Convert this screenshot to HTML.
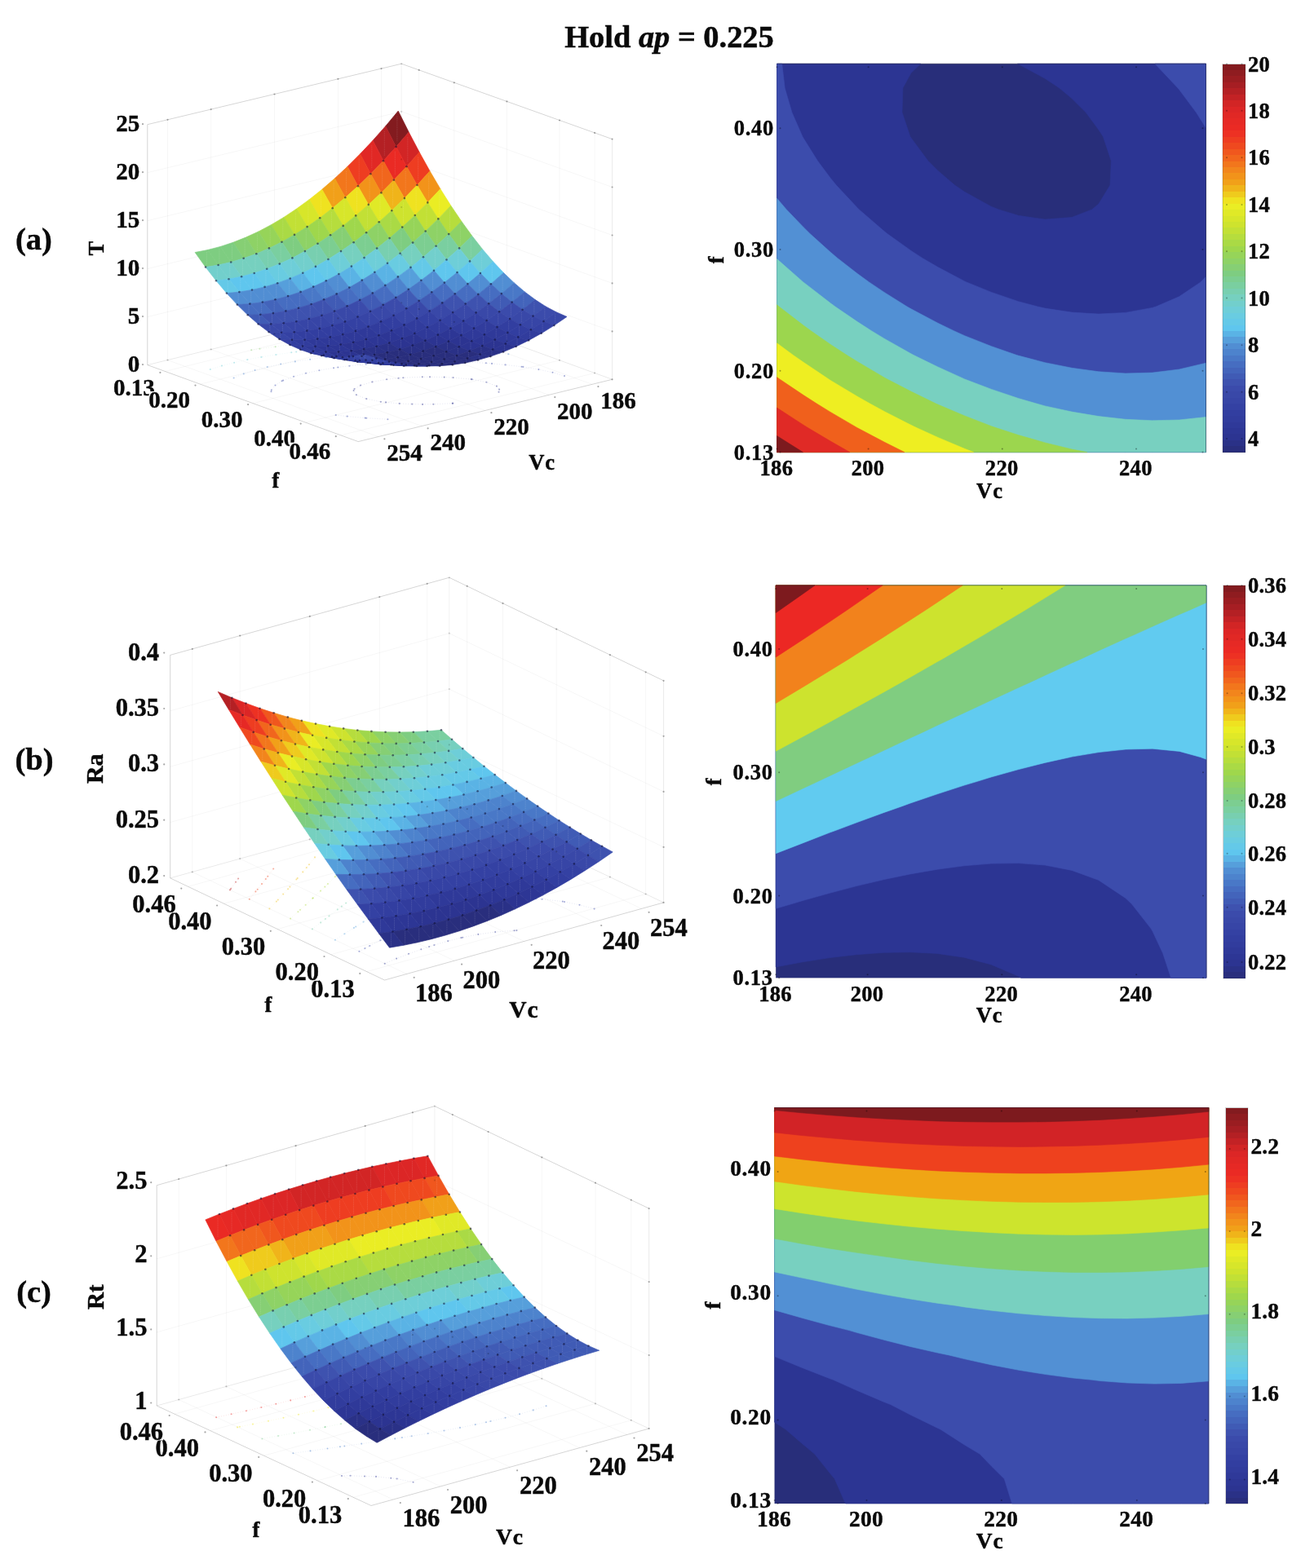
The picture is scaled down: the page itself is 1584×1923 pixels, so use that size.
<!DOCTYPE html>
<html lang="en"><head><meta charset="utf-8"><title>Hold ap = 0.225</title>
<style>html,body{margin:0;padding:0;background:#fff}svg{display:block;filter:blur(0.7px)}text{font-kerning:none}</style></head>
<body>
<svg width="1584" height="1923" viewBox="0 0 1584 1923" font-family='"Liberation Serif", "DejaVu Serif", serif' fill="#0a0a0a">
<rect width="1584" height="1923" fill="#fff"/>
<text x="820.5" y="57.5" font-size="38.4" text-anchor="middle" font-weight="bold" stroke="#0a0a0a" stroke-width="0.5">Hold <tspan font-style="italic">ap</tspan> = 0.225</text>
<g>
<line x1="202.3" y1="455.4" x2="513.7" y2="379.1" stroke="#000" stroke-opacity="0.05" stroke-width="0.7"/>
<line x1="513.7" y1="379.1" x2="513.7" y2="85.9" stroke="#000" stroke-opacity="0.05" stroke-width="0.7"/>
<line x1="245.4" y1="471.1" x2="556.8" y2="394.8" stroke="#000" stroke-opacity="0.05" stroke-width="0.7"/>
<line x1="556.8" y1="394.8" x2="556.8" y2="101.3" stroke="#000" stroke-opacity="0.05" stroke-width="0.7"/>
<line x1="310" y1="494.6" x2="621.4" y2="418.3" stroke="#000" stroke-opacity="0.05" stroke-width="0.7"/>
<line x1="621.4" y1="418.3" x2="621.4" y2="124.4" stroke="#000" stroke-opacity="0.05" stroke-width="0.7"/>
<line x1="374.6" y1="518.1" x2="686" y2="441.8" stroke="#000" stroke-opacity="0.05" stroke-width="0.7"/>
<line x1="686" y1="441.8" x2="686" y2="147.5" stroke="#000" stroke-opacity="0.05" stroke-width="0.7"/>
<line x1="417.7" y1="533.8" x2="729.1" y2="457.5" stroke="#000" stroke-opacity="0.05" stroke-width="0.7"/>
<line x1="729.1" y1="457.5" x2="729.1" y2="162.9" stroke="#000" stroke-opacity="0.05" stroke-width="0.7"/>
<line x1="467.5" y1="377.3" x2="725.9" y2="471.3" stroke="#000" stroke-opacity="0.05" stroke-width="0.7"/>
<line x1="467.5" y1="377.3" x2="467.5" y2="84.1" stroke="#000" stroke-opacity="0.05" stroke-width="0.7"/>
<line x1="414.4" y1="390.4" x2="672.8" y2="484.4" stroke="#000" stroke-opacity="0.05" stroke-width="0.7"/>
<line x1="414.4" y1="390.4" x2="414.4" y2="96.8" stroke="#000" stroke-opacity="0.05" stroke-width="0.7"/>
<line x1="336.5" y1="409.5" x2="594.9" y2="503.5" stroke="#000" stroke-opacity="0.05" stroke-width="0.7"/>
<line x1="336.5" y1="409.5" x2="336.5" y2="115.5" stroke="#000" stroke-opacity="0.05" stroke-width="0.7"/>
<line x1="258.7" y1="428.5" x2="517" y2="522.5" stroke="#000" stroke-opacity="0.05" stroke-width="0.7"/>
<line x1="258.7" y1="428.5" x2="258.7" y2="134.1" stroke="#000" stroke-opacity="0.05" stroke-width="0.7"/>
<line x1="205.5" y1="441.6" x2="463.9" y2="535.6" stroke="#000" stroke-opacity="0.05" stroke-width="0.7"/>
<line x1="205.5" y1="441.6" x2="205.5" y2="146.8" stroke="#000" stroke-opacity="0.05" stroke-width="0.7"/>
<line x1="180.8" y1="447.6" x2="492.2" y2="371.3" stroke="#000" stroke-opacity="0.05" stroke-width="0.7"/>
<line x1="492.2" y1="371.3" x2="750.6" y2="465.3" stroke="#000" stroke-opacity="0.05" stroke-width="0.7"/>
<line x1="180.8" y1="388.6" x2="492.2" y2="312.7" stroke="#000" stroke-opacity="0.05" stroke-width="0.7"/>
<line x1="492.2" y1="312.7" x2="750.6" y2="406.4" stroke="#000" stroke-opacity="0.05" stroke-width="0.7"/>
<line x1="180.8" y1="329.6" x2="492.2" y2="254.1" stroke="#000" stroke-opacity="0.05" stroke-width="0.7"/>
<line x1="492.2" y1="254.1" x2="750.6" y2="347.4" stroke="#000" stroke-opacity="0.05" stroke-width="0.7"/>
<line x1="180.8" y1="270.7" x2="492.2" y2="195.4" stroke="#000" stroke-opacity="0.05" stroke-width="0.7"/>
<line x1="492.2" y1="195.4" x2="750.6" y2="288.5" stroke="#000" stroke-opacity="0.05" stroke-width="0.7"/>
<line x1="180.8" y1="211.7" x2="492.2" y2="136.8" stroke="#000" stroke-opacity="0.05" stroke-width="0.7"/>
<line x1="492.2" y1="136.8" x2="750.6" y2="229.5" stroke="#000" stroke-opacity="0.05" stroke-width="0.7"/>
<line x1="180.8" y1="152.7" x2="492.2" y2="78.2" stroke="#000" stroke-opacity="0.05" stroke-width="0.7"/>
<line x1="492.2" y1="78.2" x2="750.6" y2="170.6" stroke="#000" stroke-opacity="0.05" stroke-width="0.7"/>
<line x1="180.8" y1="447.6" x2="439.2" y2="541.6" stroke="#000" stroke-opacity="0.21" stroke-width="0.8"/>
<line x1="439.2" y1="541.6" x2="750.6" y2="465.3" stroke="#000" stroke-opacity="0.21" stroke-width="0.8"/>
<line x1="180.8" y1="447.6" x2="180.8" y2="152.7" stroke="#000" stroke-opacity="0.21" stroke-width="0.8"/>
<line x1="180.8" y1="152.7" x2="492.2" y2="78.2" stroke="#000" stroke-opacity="0.168" stroke-width="0.8"/>
<line x1="492.2" y1="78.2" x2="750.6" y2="170.6" stroke="#000" stroke-opacity="0.168" stroke-width="0.8"/>
<line x1="750.6" y1="465.3" x2="750.6" y2="170.6" stroke="#000" stroke-opacity="0.105" stroke-width="0.8"/>
<line x1="492.2" y1="371.3" x2="492.2" y2="78.2" stroke="#000" stroke-opacity="0.06999999999999999" stroke-width="0.8"/>
<line x1="180.8" y1="447.6" x2="492.2" y2="371.3" stroke="#000" stroke-opacity="0.06999999999999999" stroke-width="0.8"/>
<line x1="492.2" y1="371.3" x2="750.6" y2="465.3" stroke="#000" stroke-opacity="0.06999999999999999" stroke-width="0.8"/>
</g>
<polyline points="555.2,494.6 554.7,494.7 531.4,495.7 518.0,495.9 505.2,495.6 489.8,494.9 473.0,493.4 466.8,492.7 449.2,489.1 436.9,484.3 433.6,479.0 434.5,477.0 442.0,472.6 456.4,468.4 474.1,465.3 488.6,463.7 494.4,463.2 517.8,462.3 527.1,462.2 544.7,462.6 555.5,463.1 577.7,465.1 578.8,465.2 596.4,468.8 608.9,473.6 612.1,477.6 611.5,480.8" fill="none" stroke="#2b338d" stroke-opacity="0.16" stroke-width="0.8" stroke-dasharray="1 2"/>
<g fill="#2b338d" fill-opacity="0.42">
<circle cx="555.2" cy="494.6" r="1.05"/>
<circle cx="554.7" cy="494.7" r="1.05"/>
<circle cx="531.4" cy="495.7" r="1.05"/>
<circle cx="518.0" cy="495.9" r="1.05"/>
<circle cx="505.2" cy="495.6" r="1.05"/>
<circle cx="489.8" cy="494.9" r="1.05"/>
<circle cx="473.0" cy="493.4" r="1.05"/>
<circle cx="466.8" cy="492.7" r="1.05"/>
<circle cx="449.2" cy="489.1" r="1.05"/>
<circle cx="436.9" cy="484.3" r="1.05"/>
<circle cx="433.6" cy="479.0" r="1.05"/>
<circle cx="434.5" cy="477.0" r="1.05"/>
<circle cx="442.0" cy="472.6" r="1.05"/>
<circle cx="456.4" cy="468.4" r="1.05"/>
<circle cx="474.1" cy="465.3" r="1.05"/>
<circle cx="488.6" cy="463.7" r="1.05"/>
<circle cx="494.4" cy="463.2" r="1.05"/>
<circle cx="517.8" cy="462.3" r="1.05"/>
<circle cx="527.1" cy="462.2" r="1.05"/>
<circle cx="544.7" cy="462.6" r="1.05"/>
<circle cx="555.5" cy="463.1" r="1.05"/>
<circle cx="577.7" cy="465.1" r="1.05"/>
<circle cx="578.8" cy="465.2" r="1.05"/>
<circle cx="596.4" cy="468.8" r="1.05"/>
<circle cx="608.9" cy="473.6" r="1.05"/>
<circle cx="612.1" cy="477.6" r="1.05"/>
<circle cx="611.5" cy="480.8" r="1.05"/>
</g>
<polyline points="332.5,480.2 332.8,478.3 337.5,472.5 345.6,467.3 347.1,466.6 360.1,461.8 375.0,457.7 391.4,454.2 409.1,451.2 414.3,450.5 428.4,448.7 448.8,446.7 468.4,445.1 470.2,445.0 493.3,443.9 507.2,443.5 517.7,443.3 540.5,443.2 543.5,443.2 569.7,443.9 571.6,443.9 595.9,445.3 603.0,445.9 619.6,447.4 639.5,449.7 641.3,449.9 660.4,453.1 677.5,456.8 692.0,461.1" fill="none" stroke="#3847a8" stroke-opacity="0.16" stroke-width="0.8" stroke-dasharray="1 2"/>
<polyline points="475.4,514.2 449.2,512.7 447.7,512.6 425.7,510.6 411.7,509.0" fill="none" stroke="#3847a8" stroke-opacity="0.16" stroke-width="0.8" stroke-dasharray="1 2"/>
<g fill="#3847a8" fill-opacity="0.42">
<circle cx="332.5" cy="480.2" r="1.05"/>
<circle cx="332.8" cy="478.3" r="1.05"/>
<circle cx="337.5" cy="472.5" r="1.05"/>
<circle cx="345.6" cy="467.3" r="1.05"/>
<circle cx="347.1" cy="466.6" r="1.05"/>
<circle cx="360.1" cy="461.8" r="1.05"/>
<circle cx="375.0" cy="457.7" r="1.05"/>
<circle cx="391.4" cy="454.2" r="1.05"/>
<circle cx="409.1" cy="451.2" r="1.05"/>
<circle cx="414.3" cy="450.5" r="1.05"/>
<circle cx="428.4" cy="448.7" r="1.05"/>
<circle cx="448.8" cy="446.7" r="1.05"/>
<circle cx="468.4" cy="445.1" r="1.05"/>
<circle cx="470.2" cy="445.0" r="1.05"/>
<circle cx="493.3" cy="443.9" r="1.05"/>
<circle cx="507.2" cy="443.5" r="1.05"/>
<circle cx="517.7" cy="443.3" r="1.05"/>
<circle cx="540.5" cy="443.2" r="1.05"/>
<circle cx="543.5" cy="443.2" r="1.05"/>
<circle cx="569.7" cy="443.9" r="1.05"/>
<circle cx="571.6" cy="443.9" r="1.05"/>
<circle cx="595.9" cy="445.3" r="1.05"/>
<circle cx="603.0" cy="445.9" r="1.05"/>
<circle cx="619.6" cy="447.4" r="1.05"/>
<circle cx="639.5" cy="449.7" r="1.05"/>
<circle cx="641.3" cy="449.9" r="1.05"/>
<circle cx="660.4" cy="453.1" r="1.05"/>
<circle cx="677.5" cy="456.8" r="1.05"/>
<circle cx="692.0" cy="461.1" r="1.05"/>
<circle cx="475.4" cy="514.2" r="1.05"/>
<circle cx="449.2" cy="512.7" r="1.05"/>
<circle cx="447.7" cy="512.6" r="1.05"/>
<circle cx="425.7" cy="510.6" r="1.05"/>
<circle cx="411.7" cy="509.0" r="1.05"/>
</g>
<polyline points="286.6,463.5 298.8,458.4 312.6,454.0 327.8,450.0 344.2,446.5 361.8,443.4 380.2,440.7 399.5,438.2 400.7,438.1 420.0,436.2 441.3,434.4 450.1,433.8 463.5,433.1 486.7,432.0 490.2,431.9 511.1,431.4 525.0,431.2 536.6,431.2 556.5,431.4 563.5,431.5 585.3,432.2 592.2,432.5 611.9,433.5 623.4,434.3" fill="none" stroke="#4d82cc" stroke-opacity="0.16" stroke-width="0.8" stroke-dasharray="1 2"/>
<g fill="#4d82cc" fill-opacity="0.42">
<circle cx="286.6" cy="463.5" r="1.05"/>
<circle cx="298.8" cy="458.4" r="1.05"/>
<circle cx="312.6" cy="454.0" r="1.05"/>
<circle cx="327.8" cy="450.0" r="1.05"/>
<circle cx="344.2" cy="446.5" r="1.05"/>
<circle cx="361.8" cy="443.4" r="1.05"/>
<circle cx="380.2" cy="440.7" r="1.05"/>
<circle cx="399.5" cy="438.2" r="1.05"/>
<circle cx="400.7" cy="438.1" r="1.05"/>
<circle cx="420.0" cy="436.2" r="1.05"/>
<circle cx="441.3" cy="434.4" r="1.05"/>
<circle cx="450.1" cy="433.8" r="1.05"/>
<circle cx="463.5" cy="433.1" r="1.05"/>
<circle cx="486.7" cy="432.0" r="1.05"/>
<circle cx="490.2" cy="431.9" r="1.05"/>
<circle cx="511.1" cy="431.4" r="1.05"/>
<circle cx="525.0" cy="431.2" r="1.05"/>
<circle cx="536.6" cy="431.2" r="1.05"/>
<circle cx="556.5" cy="431.4" r="1.05"/>
<circle cx="563.5" cy="431.5" r="1.05"/>
<circle cx="585.3" cy="432.2" r="1.05"/>
<circle cx="592.2" cy="432.5" r="1.05"/>
<circle cx="611.9" cy="433.5" r="1.05"/>
<circle cx="623.4" cy="434.3" r="1.05"/>
</g>
<polyline points="257.8,453.0 271.9,448.6 287.1,444.7 303.3,441.1 320.5,437.9 338.4,435.0 357.2,432.3 363.2,431.5 376.8,429.9 397.2,427.9 417.6,426.1 418.1,426.0 440.2,424.6 460.6,423.4 462.8,423.3 486.5,422.4 497.9,422.1 511.0,421.9 532.0,421.7 536.4,421.6 563.0,421.8 563.3,421.8 591.1,422.6" fill="none" stroke="#6eced7" stroke-opacity="0.16" stroke-width="0.8" stroke-dasharray="1 2"/>
<g fill="#6eced7" fill-opacity="0.42">
<circle cx="257.8" cy="453.0" r="1.05"/>
<circle cx="271.9" cy="448.6" r="1.05"/>
<circle cx="287.1" cy="444.7" r="1.05"/>
<circle cx="303.3" cy="441.1" r="1.05"/>
<circle cx="320.5" cy="437.9" r="1.05"/>
<circle cx="338.4" cy="435.0" r="1.05"/>
<circle cx="357.2" cy="432.3" r="1.05"/>
<circle cx="363.2" cy="431.5" r="1.05"/>
<circle cx="376.8" cy="429.9" r="1.05"/>
<circle cx="397.2" cy="427.9" r="1.05"/>
<circle cx="417.6" cy="426.1" r="1.05"/>
<circle cx="418.1" cy="426.0" r="1.05"/>
<circle cx="440.2" cy="424.6" r="1.05"/>
<circle cx="460.6" cy="423.4" r="1.05"/>
<circle cx="462.8" cy="423.3" r="1.05"/>
<circle cx="486.5" cy="422.4" r="1.05"/>
<circle cx="497.9" cy="422.1" r="1.05"/>
<circle cx="511.0" cy="421.9" r="1.05"/>
<circle cx="532.0" cy="421.7" r="1.05"/>
<circle cx="536.4" cy="421.6" r="1.05"/>
<circle cx="563.0" cy="421.8" r="1.05"/>
<circle cx="563.3" cy="421.8" r="1.05"/>
<circle cx="591.1" cy="422.6" r="1.05"/>
</g>
<polyline points="308.2,429.3 318.5,427.7 337.6,425.2 357.2,422.8 373.7,421.1 377.5,420.7 398.6,418.9 420.2,417.3 421.7,417.2 442.7,416.0 462.7,415.0 465.7,414.9 489.7,414.1 499.3,413.9 514.5,413.7 533.1,413.5 540.1,413.5 564.5,413.7 566.7,413.7" fill="none" stroke="#89d06f" stroke-opacity="0.16" stroke-width="0.8" stroke-dasharray="1 2"/>
<g fill="#89d06f" fill-opacity="0.42">
<circle cx="308.2" cy="429.3" r="1.05"/>
<circle cx="318.5" cy="427.7" r="1.05"/>
<circle cx="337.6" cy="425.2" r="1.05"/>
<circle cx="357.2" cy="422.8" r="1.05"/>
<circle cx="373.7" cy="421.1" r="1.05"/>
<circle cx="377.5" cy="420.7" r="1.05"/>
<circle cx="398.6" cy="418.9" r="1.05"/>
<circle cx="420.2" cy="417.3" r="1.05"/>
<circle cx="421.7" cy="417.2" r="1.05"/>
<circle cx="442.7" cy="416.0" r="1.05"/>
<circle cx="462.7" cy="415.0" r="1.05"/>
<circle cx="465.7" cy="414.9" r="1.05"/>
<circle cx="489.7" cy="414.1" r="1.05"/>
<circle cx="499.3" cy="413.9" r="1.05"/>
<circle cx="514.5" cy="413.7" r="1.05"/>
<circle cx="533.1" cy="413.5" r="1.05"/>
<circle cx="540.1" cy="413.5" r="1.05"/>
<circle cx="564.5" cy="413.7" r="1.05"/>
<circle cx="566.7" cy="413.7" r="1.05"/>
</g>
<polyline points="374.0,413.2 381.1,412.6 402.7,410.9 419.8,409.8 424.8,409.5 447.7,408.3 460.0,407.8 471.2,407.4 495.3,406.7 496.7,406.7 520.4,406.4 530.5,406.3 546.3,406.3" fill="none" stroke="#d2e52c" stroke-opacity="0.16" stroke-width="0.8" stroke-dasharray="1 2"/>
<g fill="#d2e52c" fill-opacity="0.42">
<circle cx="374.0" cy="413.2" r="1.05"/>
<circle cx="381.1" cy="412.6" r="1.05"/>
<circle cx="402.7" cy="410.9" r="1.05"/>
<circle cx="419.8" cy="409.8" r="1.05"/>
<circle cx="424.8" cy="409.5" r="1.05"/>
<circle cx="447.7" cy="408.3" r="1.05"/>
<circle cx="460.0" cy="407.8" r="1.05"/>
<circle cx="471.2" cy="407.4" r="1.05"/>
<circle cx="495.3" cy="406.7" r="1.05"/>
<circle cx="496.7" cy="406.7" r="1.05"/>
<circle cx="520.4" cy="406.4" r="1.05"/>
<circle cx="530.5" cy="406.3" r="1.05"/>
<circle cx="546.3" cy="406.3" r="1.05"/>
</g>
<polyline points="414.2,403.3 431.4,402.4 454.4,401.3 454.5,401.3 478.4,400.6 490.9,400.2 503.0,400.0 525.2,399.7 528.2,399.7" fill="none" stroke="#f1971a" stroke-opacity="0.16" stroke-width="0.8" stroke-dasharray="1 2"/>
<g fill="#f1971a" fill-opacity="0.42">
<circle cx="414.2" cy="403.3" r="1.05"/>
<circle cx="431.4" cy="402.4" r="1.05"/>
<circle cx="454.4" cy="401.3" r="1.05"/>
<circle cx="454.5" cy="401.3" r="1.05"/>
<circle cx="478.4" cy="400.6" r="1.05"/>
<circle cx="490.9" cy="400.2" r="1.05"/>
<circle cx="503.0" cy="400.0" r="1.05"/>
<circle cx="525.2" cy="399.7" r="1.05"/>
<circle cx="528.2" cy="399.7" r="1.05"/>
</g>
<polyline points="445.9,395.5 462.9,394.9 483.0,394.3 487.1,394.2 511.9,393.8" fill="none" stroke="#ed3323" stroke-opacity="0.16" stroke-width="0.8" stroke-dasharray="1 2"/>
<g fill="#ed3323" fill-opacity="0.42">
<circle cx="445.9" cy="395.5" r="1.05"/>
<circle cx="462.9" cy="394.9" r="1.05"/>
<circle cx="483.0" cy="394.3" r="1.05"/>
<circle cx="487.1" cy="394.2" r="1.05"/>
<circle cx="511.9" cy="393.8" r="1.05"/>
</g>
<polyline points="473.1,388.9 497.0,388.4" fill="none" stroke="#b31f24" stroke-opacity="0.16" stroke-width="0.8" stroke-dasharray="1 2"/>
<g fill="#b31f24" fill-opacity="0.42">
<circle cx="473.1" cy="388.9" r="1.05"/>
<circle cx="497.0" cy="388.4" r="1.05"/>
</g>
<g stroke-linejoin="round">
<polygon points="488.2,136.1 472.7,154.7 485.6,180.1 501.2,162.0" fill="#831b1f" stroke="#831b1f" stroke-width="0.7"/>
<polygon points="472.7,154.7 457.1,172.3 470.0,197.2 485.6,180.1" fill="#b42024" stroke="#b42024" stroke-width="0.7"/>
<polygon points="501.2,162.0 485.6,180.1 498.5,204.2 514.1,186.6" fill="#d22525" stroke="#d22525" stroke-width="0.7"/>
<polygon points="457.1,172.3 441.5,188.8 454.4,213.3 470.0,197.2" fill="#e12825" stroke="#e12825" stroke-width="0.7"/>
<polygon points="485.6,180.1 470.0,197.2 482.9,220.8 498.5,204.2" fill="#ea2a24" stroke="#ea2a24" stroke-width="0.7"/>
<polygon points="514.1,186.6 498.5,204.2 511.4,227.0 527.0,209.8" fill="#ee3d21" stroke="#ee3d21" stroke-width="0.7"/>
<polygon points="441.5,188.8 426.0,204.3 438.9,228.3 454.4,213.3" fill="#ee3d21" stroke="#ee3d21" stroke-width="0.7"/>
<polygon points="470.0,197.2 454.4,213.3 467.4,236.4 482.9,220.8" fill="#f1661d" stroke="#f1661d" stroke-width="0.7"/>
<polygon points="498.5,204.2 482.9,220.8 495.9,243.1 511.4,227.0" fill="#f2761c" stroke="#f2761c" stroke-width="0.7"/>
<polygon points="527.0,209.8 511.4,227.0 524.3,248.4 539.9,231.7" fill="#f2931a" stroke="#f2931a" stroke-width="0.7"/>
<polygon points="426.0,204.3 410.4,218.8 423.3,242.3 438.9,228.3" fill="#f2761c" stroke="#f2761c" stroke-width="0.7"/>
<polygon points="454.4,213.3 438.9,228.3 451.8,250.9 467.4,236.4" fill="#f2931a" stroke="#f2931a" stroke-width="0.7"/>
<polygon points="482.9,220.8 467.4,236.4 480.3,258.2 495.9,243.1" fill="#f0b41a" stroke="#f0b41a" stroke-width="0.7"/>
<polygon points="511.4,227.0 495.9,243.1 508.8,264.0 524.3,248.4" fill="#efe220" stroke="#efe220" stroke-width="0.7"/>
<polygon points="539.9,231.7 524.3,248.4 537.3,268.4 552.8,252.2" fill="#eaed24" stroke="#eaed24" stroke-width="0.7"/>
<polygon points="410.4,218.8 394.8,232.3 407.7,255.3 423.3,242.3" fill="#f1a019" stroke="#f1a019" stroke-width="0.7"/>
<polygon points="438.9,228.3 423.3,242.3 436.2,264.4 451.8,250.9" fill="#efe220" stroke="#efe220" stroke-width="0.7"/>
<polygon points="467.4,236.4 451.8,250.9 464.7,272.2 480.3,258.2" fill="#e0e927" stroke="#e0e927" stroke-width="0.7"/>
<polygon points="495.9,243.1 480.3,258.2 493.2,278.6 508.8,264.0" fill="#cee32e" stroke="#cee32e" stroke-width="0.7"/>
<polygon points="524.3,248.4 508.8,264.0 521.7,283.5 537.3,268.4" fill="#c2e035" stroke="#c2e035" stroke-width="0.7"/>
<polygon points="552.8,252.2 537.3,268.4 550.2,287.1 565.8,271.4" fill="#b6dd3d" stroke="#b6dd3d" stroke-width="0.7"/>
<polygon points="394.8,232.3 379.2,244.7 392.2,267.2 407.7,255.3" fill="#efe220" stroke="#efe220" stroke-width="0.7"/>
<polygon points="423.3,242.3 407.7,255.3 420.7,276.9 436.2,264.4" fill="#d7e62a" stroke="#d7e62a" stroke-width="0.7"/>
<polygon points="451.8,250.9 436.2,264.4 449.1,285.2 464.7,272.2" fill="#c2e035" stroke="#c2e035" stroke-width="0.7"/>
<polygon points="480.3,258.2 464.7,272.2 477.6,292.1 493.2,278.6" fill="#aada45" stroke="#aada45" stroke-width="0.7"/>
<polygon points="508.8,264.0 493.2,278.6 506.1,297.6 521.7,283.5" fill="#96d459" stroke="#96d459" stroke-width="0.7"/>
<polygon points="537.3,268.4 521.7,283.5 534.6,301.7 550.2,287.1" fill="#8ed266" stroke="#8ed266" stroke-width="0.7"/>
<polygon points="565.8,271.4 550.2,287.1 563.1,304.4 578.7,289.2" fill="#8ed266" stroke="#8ed266" stroke-width="0.7"/>
<polygon points="379.2,244.7 363.7,256.0 376.6,278.1 392.2,267.2" fill="#d7e62a" stroke="#d7e62a" stroke-width="0.7"/>
<polygon points="407.7,255.3 392.2,267.2 405.1,288.3 420.7,276.9" fill="#b6dd3d" stroke="#b6dd3d" stroke-width="0.7"/>
<polygon points="436.2,264.4 420.7,276.9 433.6,297.2 449.1,285.2" fill="#9fd74c" stroke="#9fd74c" stroke-width="0.7"/>
<polygon points="464.7,272.2 449.1,285.2 462.1,304.6 477.6,292.1" fill="#8ed266" stroke="#8ed266" stroke-width="0.7"/>
<polygon points="493.2,278.6 477.6,292.1 490.6,310.7 506.1,297.6" fill="#7ecd81" stroke="#7ecd81" stroke-width="0.7"/>
<polygon points="521.7,283.5 506.1,297.6 519.0,315.3 534.6,301.7" fill="#7cce91" stroke="#7cce91" stroke-width="0.7"/>
<polygon points="550.2,287.1 534.6,301.7 547.5,318.5 563.1,304.4" fill="#7acfa0" stroke="#7acfa0" stroke-width="0.7"/>
<polygon points="578.7,289.2 563.1,304.4 576.0,320.4 591.6,305.7" fill="#7acfa0" stroke="#7acfa0" stroke-width="0.7"/>
<polygon points="363.7,256.0 348.1,266.4 361.0,287.9 376.6,278.1" fill="#c2e035" stroke="#c2e035" stroke-width="0.7"/>
<polygon points="392.2,267.2 376.6,278.1 389.5,298.7 405.1,288.3" fill="#9fd74c" stroke="#9fd74c" stroke-width="0.7"/>
<polygon points="420.7,276.9 405.1,288.3 418.0,308.1 433.6,297.2" fill="#86cf74" stroke="#86cf74" stroke-width="0.7"/>
<polygon points="449.1,285.2 433.6,297.2 446.5,316.1 462.1,304.6" fill="#7cce91" stroke="#7cce91" stroke-width="0.7"/>
<polygon points="477.6,292.1 462.1,304.6 475.0,322.7 490.6,310.7" fill="#78cfb0" stroke="#78cfb0" stroke-width="0.7"/>
<polygon points="506.1,297.6 490.6,310.7 503.5,327.9 519.0,315.3" fill="#76d0bf" stroke="#76d0bf" stroke-width="0.7"/>
<polygon points="534.6,301.7 519.0,315.3 532.0,331.7 547.5,318.5" fill="#72cfcc" stroke="#72cfcc" stroke-width="0.7"/>
<polygon points="563.1,304.4 547.5,318.5 560.5,334.0 576.0,320.4" fill="#6eced8" stroke="#6eced8" stroke-width="0.7"/>
<polygon points="591.6,305.7 576.0,320.4 588.9,335.0 604.5,320.8" fill="#6eced8" stroke="#6eced8" stroke-width="0.7"/>
<polygon points="348.1,266.4 332.5,275.7 345.5,296.7 361.0,287.9" fill="#aada45" stroke="#aada45" stroke-width="0.7"/>
<polygon points="376.6,278.1 361.0,287.9 373.9,308.1 389.5,298.7" fill="#8ed266" stroke="#8ed266" stroke-width="0.7"/>
<polygon points="405.1,288.3 389.5,298.7 402.4,318.0 418.0,308.1" fill="#7cce91" stroke="#7cce91" stroke-width="0.7"/>
<polygon points="433.6,297.2 418.0,308.1 430.9,326.6 446.5,316.1" fill="#76d0bf" stroke="#76d0bf" stroke-width="0.7"/>
<polygon points="462.1,304.6 446.5,316.1 459.4,333.7 475.0,322.7" fill="#6eced8" stroke="#6eced8" stroke-width="0.7"/>
<polygon points="490.6,310.7 475.0,322.7 487.9,339.4 503.5,327.9" fill="#69cce1" stroke="#69cce1" stroke-width="0.7"/>
<polygon points="519.0,315.3 503.5,327.9 516.4,343.7 532.0,331.7" fill="#64c9e8" stroke="#64c9e8" stroke-width="0.7"/>
<polygon points="547.5,318.5 532.0,331.7 544.9,346.6 560.5,334.0" fill="#5fc6ee" stroke="#5fc6ee" stroke-width="0.7"/>
<polygon points="576.0,320.4 560.5,334.0 573.4,348.1 588.9,335.0" fill="#5fc6ee" stroke="#5fc6ee" stroke-width="0.7"/>
<polygon points="604.5,320.8 588.9,335.0 601.9,348.2 617.4,334.5" fill="#5fc6ee" stroke="#5fc6ee" stroke-width="0.7"/>
<polygon points="332.5,275.7 317.0,283.9 329.9,304.4 345.5,296.7" fill="#96d459" stroke="#96d459" stroke-width="0.7"/>
<polygon points="361.0,287.9 345.5,296.7 358.4,316.4 373.9,308.1" fill="#7ecd81" stroke="#7ecd81" stroke-width="0.7"/>
<polygon points="389.5,298.7 373.9,308.1 386.9,326.9 402.4,318.0" fill="#78cfb0" stroke="#78cfb0" stroke-width="0.7"/>
<polygon points="418.0,308.1 402.4,318.0 415.4,336.0 430.9,326.6" fill="#6eced8" stroke="#6eced8" stroke-width="0.7"/>
<polygon points="446.5,316.1 430.9,326.6 443.8,343.6 459.4,333.7" fill="#64c9e8" stroke="#64c9e8" stroke-width="0.7"/>
<polygon points="475.0,322.7 459.4,333.7 472.3,349.9 487.9,339.4" fill="#5ab3e5" stroke="#5ab3e5" stroke-width="0.7"/>
<polygon points="503.5,327.9 487.9,339.4 500.8,354.8 516.4,343.7" fill="#569fdb" stroke="#569fdb" stroke-width="0.7"/>
<polygon points="532.0,331.7 516.4,343.7 529.3,358.2 544.9,346.6" fill="#518ed3" stroke="#518ed3" stroke-width="0.7"/>
<polygon points="560.5,334.0 544.9,346.6 557.8,360.3 573.4,348.1" fill="#518ed3" stroke="#518ed3" stroke-width="0.7"/>
<polygon points="588.9,335.0 573.4,348.1 586.3,360.9 601.9,348.2" fill="#518ed3" stroke="#518ed3" stroke-width="0.7"/>
<polygon points="617.4,334.5 601.9,348.2 614.8,360.1 630.4,346.9" fill="#518ed3" stroke="#518ed3" stroke-width="0.7"/>
<polygon points="317.0,283.9 301.4,291.1 314.3,311.2 329.9,304.4" fill="#8ed266" stroke="#8ed266" stroke-width="0.7"/>
<polygon points="345.5,296.7 329.9,304.4 342.8,323.6 358.4,316.4" fill="#7acfa0" stroke="#7acfa0" stroke-width="0.7"/>
<polygon points="373.9,308.1 358.4,316.4 371.3,334.7 386.9,326.9" fill="#72cfcc" stroke="#72cfcc" stroke-width="0.7"/>
<polygon points="402.4,318.0 386.9,326.9 399.8,344.3 415.4,336.0" fill="#64c9e8" stroke="#64c9e8" stroke-width="0.7"/>
<polygon points="430.9,326.6 415.4,336.0 428.3,352.6 443.8,343.6" fill="#5ab3e5" stroke="#5ab3e5" stroke-width="0.7"/>
<polygon points="459.4,333.7 443.8,343.6 456.8,359.4 472.3,349.9" fill="#518ed3" stroke="#518ed3" stroke-width="0.7"/>
<polygon points="487.9,339.4 472.3,349.9 485.3,364.8 500.8,354.8" fill="#4d83cd" stroke="#4d83cd" stroke-width="0.7"/>
<polygon points="516.4,343.7 500.8,354.8 513.7,368.8 529.3,358.2" fill="#4978c7" stroke="#4978c7" stroke-width="0.7"/>
<polygon points="544.9,346.6 529.3,358.2 542.2,371.4 557.8,360.3" fill="#466dc1" stroke="#466dc1" stroke-width="0.7"/>
<polygon points="573.4,348.1 557.8,360.3 570.7,372.5 586.3,360.9" fill="#466dc1" stroke="#466dc1" stroke-width="0.7"/>
<polygon points="601.9,348.2 586.3,360.9 599.2,372.3 614.8,360.1" fill="#466dc1" stroke="#466dc1" stroke-width="0.7"/>
<polygon points="630.4,346.9 614.8,360.1 627.7,370.6 643.3,357.9" fill="#4978c7" stroke="#4978c7" stroke-width="0.7"/>
<polygon points="301.4,291.1 285.8,297.3 298.7,316.8 314.3,311.2" fill="#86cf74" stroke="#86cf74" stroke-width="0.7"/>
<polygon points="329.9,304.4 314.3,311.2 327.2,329.8 342.8,323.6" fill="#78cfb0" stroke="#78cfb0" stroke-width="0.7"/>
<polygon points="358.4,316.4 342.8,323.6 355.7,341.5 371.3,334.7" fill="#6eced8" stroke="#6eced8" stroke-width="0.7"/>
<polygon points="386.9,326.9 371.3,334.7 384.2,351.6 399.8,344.3" fill="#5fc6ee" stroke="#5fc6ee" stroke-width="0.7"/>
<polygon points="415.4,336.0 399.8,344.3 412.7,360.4 428.3,352.6" fill="#518ed3" stroke="#518ed3" stroke-width="0.7"/>
<polygon points="443.8,343.6 428.3,352.6 441.2,367.8 456.8,359.4" fill="#4978c7" stroke="#4978c7" stroke-width="0.7"/>
<polygon points="472.3,349.9 456.8,359.4 469.7,373.7 485.3,364.8" fill="#466dc1" stroke="#466dc1" stroke-width="0.7"/>
<polygon points="500.8,354.8 485.3,364.8 498.2,378.3 513.7,368.8" fill="#405bb5" stroke="#405bb5" stroke-width="0.7"/>
<polygon points="529.3,358.2 513.7,368.8 526.7,381.4 542.2,371.4" fill="#405bb5" stroke="#405bb5" stroke-width="0.7"/>
<polygon points="557.8,360.3 542.2,371.4 555.2,383.1 570.7,372.5" fill="#3e52af" stroke="#3e52af" stroke-width="0.7"/>
<polygon points="586.3,360.9 570.7,372.5 583.6,383.4 599.2,372.3" fill="#3e52af" stroke="#3e52af" stroke-width="0.7"/>
<polygon points="614.8,360.1 599.2,372.3 612.1,382.3 627.7,370.6" fill="#405bb5" stroke="#405bb5" stroke-width="0.7"/>
<polygon points="643.3,357.9 627.7,370.6 640.6,379.8 656.2,367.6" fill="#4364bb" stroke="#4364bb" stroke-width="0.7"/>
<polygon points="285.8,297.3 270.3,302.4 283.2,321.5 298.7,316.8" fill="#7ecd81" stroke="#7ecd81" stroke-width="0.7"/>
<polygon points="314.3,311.2 298.7,316.8 311.7,335.0 327.2,329.8" fill="#76d0bf" stroke="#76d0bf" stroke-width="0.7"/>
<polygon points="342.8,323.6 327.2,329.8 340.2,347.2 355.7,341.5" fill="#69cce1" stroke="#69cce1" stroke-width="0.7"/>
<polygon points="371.3,334.7 355.7,341.5 368.6,357.9 384.2,351.6" fill="#5ab3e5" stroke="#5ab3e5" stroke-width="0.7"/>
<polygon points="399.8,344.3 384.2,351.6 397.1,367.2 412.7,360.4" fill="#4d83cd" stroke="#4d83cd" stroke-width="0.7"/>
<polygon points="428.3,352.6 412.7,360.4 425.6,375.2 441.2,367.8" fill="#466dc1" stroke="#466dc1" stroke-width="0.7"/>
<polygon points="456.8,359.4 441.2,367.8 454.1,381.7 469.7,373.7" fill="#405bb5" stroke="#405bb5" stroke-width="0.7"/>
<polygon points="485.3,364.8 469.7,373.7 482.6,386.7 498.2,378.3" fill="#3b4bab" stroke="#3b4bab" stroke-width="0.7"/>
<polygon points="513.7,368.8 498.2,378.3 511.1,390.4 526.7,381.4" fill="#3948a8" stroke="#3948a8" stroke-width="0.7"/>
<polygon points="542.2,371.4 526.7,381.4 539.6,392.7 555.2,383.1" fill="#3948a8" stroke="#3948a8" stroke-width="0.7"/>
<polygon points="570.7,372.5 555.2,383.1 568.1,393.5 583.6,383.4" fill="#3948a8" stroke="#3948a8" stroke-width="0.7"/>
<polygon points="599.2,372.3 583.6,383.4 596.6,393.0 612.1,382.3" fill="#3948a8" stroke="#3948a8" stroke-width="0.7"/>
<polygon points="627.7,370.6 612.1,382.3 625.1,391.0 640.6,379.8" fill="#3b4bab" stroke="#3b4bab" stroke-width="0.7"/>
<polygon points="656.2,367.6 640.6,379.8 653.5,387.6 669.1,375.9" fill="#3e52af" stroke="#3e52af" stroke-width="0.7"/>
<polygon points="270.3,302.4 254.7,306.5 267.6,325.0 283.2,321.5" fill="#7ecd81" stroke="#7ecd81" stroke-width="0.7"/>
<polygon points="298.7,316.8 283.2,321.5 296.1,339.2 311.7,335.0" fill="#76d0bf" stroke="#76d0bf" stroke-width="0.7"/>
<polygon points="327.2,329.8 311.7,335.0 324.6,351.9 340.2,347.2" fill="#64c9e8" stroke="#64c9e8" stroke-width="0.7"/>
<polygon points="355.7,341.5 340.2,347.2 353.1,363.1 368.6,357.9" fill="#569fdb" stroke="#569fdb" stroke-width="0.7"/>
<polygon points="384.2,351.6 368.6,357.9 381.6,373.0 397.1,367.2" fill="#4978c7" stroke="#4978c7" stroke-width="0.7"/>
<polygon points="412.7,360.4 397.1,367.2 410.1,381.5 425.6,375.2" fill="#405bb5" stroke="#405bb5" stroke-width="0.7"/>
<polygon points="441.2,367.8 425.6,375.2 438.5,388.5 454.1,381.7" fill="#3b4bab" stroke="#3b4bab" stroke-width="0.7"/>
<polygon points="469.7,373.7 454.1,381.7 467.0,394.2 482.6,386.7" fill="#3948a8" stroke="#3948a8" stroke-width="0.7"/>
<polygon points="498.2,378.3 482.6,386.7 495.5,398.4 511.1,390.4" fill="#3745a6" stroke="#3745a6" stroke-width="0.7"/>
<polygon points="526.7,381.4 511.1,390.4 524.0,401.2 539.6,392.7" fill="#3441a3" stroke="#3441a3" stroke-width="0.7"/>
<polygon points="555.2,383.1 539.6,392.7 552.5,402.6 568.1,393.5" fill="#3441a3" stroke="#3441a3" stroke-width="0.7"/>
<polygon points="583.6,383.4 568.1,393.5 581.0,402.6 596.6,393.0" fill="#3441a3" stroke="#3441a3" stroke-width="0.7"/>
<polygon points="612.1,382.3 596.6,393.0 609.5,401.1 625.1,391.0" fill="#3745a6" stroke="#3745a6" stroke-width="0.7"/>
<polygon points="640.6,379.8 625.1,391.0 638.0,398.3 653.5,387.6" fill="#3948a8" stroke="#3948a8" stroke-width="0.7"/>
<polygon points="669.1,375.9 653.5,387.6 666.5,394.0 682.0,382.8" fill="#3b4bab" stroke="#3b4bab" stroke-width="0.7"/>
<polygon points="254.7,306.5 239.1,309.5 252.0,327.6 267.6,325.0" fill="#7ecd81" stroke="#7ecd81" stroke-width="0.7"/>
<polygon points="283.2,321.5 267.6,325.0 280.5,342.2 296.1,339.2" fill="#72cfcc" stroke="#72cfcc" stroke-width="0.7"/>
<polygon points="311.7,335.0 296.1,339.2 309.0,355.5 324.6,351.9" fill="#5fc6ee" stroke="#5fc6ee" stroke-width="0.7"/>
<polygon points="340.2,347.2 324.6,351.9 337.5,367.3 353.1,363.1" fill="#518ed3" stroke="#518ed3" stroke-width="0.7"/>
<polygon points="368.6,357.9 353.1,363.1 366.0,377.7 381.6,373.0" fill="#466dc1" stroke="#466dc1" stroke-width="0.7"/>
<polygon points="397.1,367.2 381.6,373.0 394.5,386.8 410.1,381.5" fill="#3e52af" stroke="#3e52af" stroke-width="0.7"/>
<polygon points="425.6,375.2 410.1,381.5 423.0,394.4 438.5,388.5" fill="#3948a8" stroke="#3948a8" stroke-width="0.7"/>
<polygon points="454.1,381.7 438.5,388.5 451.5,400.5 467.0,394.2" fill="#3745a6" stroke="#3745a6" stroke-width="0.7"/>
<polygon points="482.6,386.7 467.0,394.2 480.0,405.3 495.5,398.4" fill="#323ea0" stroke="#323ea0" stroke-width="0.7"/>
<polygon points="511.1,390.4 495.5,398.4 508.4,408.7 524.0,401.2" fill="#313c9d" stroke="#313c9d" stroke-width="0.7"/>
<polygon points="539.6,392.7 524.0,401.2 536.9,410.6 552.5,402.6" fill="#313c9d" stroke="#313c9d" stroke-width="0.7"/>
<polygon points="568.1,393.5 552.5,402.6 565.4,411.1 581.0,402.6" fill="#313c9d" stroke="#313c9d" stroke-width="0.7"/>
<polygon points="596.6,393.0 581.0,402.6 593.9,410.2 609.5,401.1" fill="#313c9d" stroke="#313c9d" stroke-width="0.7"/>
<polygon points="625.1,391.0 609.5,401.1 622.4,407.9 638.0,398.3" fill="#323ea0" stroke="#323ea0" stroke-width="0.7"/>
<polygon points="653.5,387.6 638.0,398.3 650.9,404.2 666.5,394.0" fill="#3745a6" stroke="#3745a6" stroke-width="0.7"/>
<polygon points="682.0,382.8 666.5,394.0 679.4,399.1 695.0,388.4" fill="#3948a8" stroke="#3948a8" stroke-width="0.7"/>
<polygon points="267.6,325.0 252.0,327.6 265.0,344.3 280.5,342.2" fill="#72cfcc" stroke="#72cfcc" stroke-width="0.7"/>
<polygon points="296.1,339.2 280.5,342.2 293.4,358.1 309.0,355.5" fill="#5fc6ee" stroke="#5fc6ee" stroke-width="0.7"/>
<polygon points="324.6,351.9 309.0,355.5 321.9,370.5 337.5,367.3" fill="#518ed3" stroke="#518ed3" stroke-width="0.7"/>
<polygon points="353.1,363.1 337.5,367.3 350.4,381.4 366.0,377.7" fill="#466dc1" stroke="#466dc1" stroke-width="0.7"/>
<polygon points="381.6,373.0 366.0,377.7 378.9,391.0 394.5,386.8" fill="#3e52af" stroke="#3e52af" stroke-width="0.7"/>
<polygon points="410.1,381.5 394.5,386.8 407.4,399.1 423.0,394.4" fill="#3948a8" stroke="#3948a8" stroke-width="0.7"/>
<polygon points="438.5,388.5 423.0,394.4 435.9,405.9 451.5,400.5" fill="#3441a3" stroke="#3441a3" stroke-width="0.7"/>
<polygon points="467.0,394.2 451.5,400.5 464.4,411.2 480.0,405.3" fill="#313c9d" stroke="#313c9d" stroke-width="0.7"/>
<polygon points="495.5,398.4 480.0,405.3 492.9,415.1 508.4,408.7" fill="#2f3999" stroke="#2f3999" stroke-width="0.7"/>
<polygon points="524.0,401.2 508.4,408.7 521.4,417.6 536.9,410.6" fill="#2f3999" stroke="#2f3999" stroke-width="0.7"/>
<polygon points="552.5,402.6 536.9,410.6 549.9,418.6 565.4,411.1" fill="#2d3695" stroke="#2d3695" stroke-width="0.7"/>
<polygon points="581.0,402.6 565.4,411.1 578.3,418.3 593.9,410.2" fill="#2f3999" stroke="#2f3999" stroke-width="0.7"/>
<polygon points="609.5,401.1 593.9,410.2 606.8,416.5 622.4,407.9" fill="#2f3999" stroke="#2f3999" stroke-width="0.7"/>
<polygon points="638.0,398.3 622.4,407.9 635.3,413.4 650.9,404.2" fill="#323ea0" stroke="#323ea0" stroke-width="0.7"/>
<polygon points="666.5,394.0 650.9,404.2 663.8,408.8 679.4,399.1" fill="#3441a3" stroke="#3441a3" stroke-width="0.7"/>
<polygon points="280.5,342.2 265.0,344.3 277.9,359.6 293.4,358.1" fill="#64c9e8" stroke="#64c9e8" stroke-width="0.7"/>
<polygon points="309.0,355.5 293.4,358.1 306.4,372.6 321.9,370.5" fill="#518ed3" stroke="#518ed3" stroke-width="0.7"/>
<polygon points="337.5,367.3 321.9,370.5 334.9,384.1 350.4,381.4" fill="#4364bb" stroke="#4364bb" stroke-width="0.7"/>
<polygon points="366.0,377.7 350.4,381.4 363.3,394.2 378.9,391.0" fill="#3e52af" stroke="#3e52af" stroke-width="0.7"/>
<polygon points="394.5,386.8 378.9,391.0 391.8,402.9 407.4,399.1" fill="#3745a6" stroke="#3745a6" stroke-width="0.7"/>
<polygon points="423.0,394.4 407.4,399.1 420.3,410.1 435.9,405.9" fill="#323ea0" stroke="#323ea0" stroke-width="0.7"/>
<polygon points="451.5,400.5 435.9,405.9 448.8,416.0 464.4,411.2" fill="#2f3999" stroke="#2f3999" stroke-width="0.7"/>
<polygon points="480.0,405.3 464.4,411.2 477.3,420.5 492.9,415.1" fill="#2d3695" stroke="#2d3695" stroke-width="0.7"/>
<polygon points="508.4,408.7 492.9,415.1 505.8,423.5 521.4,417.6" fill="#2c3491" stroke="#2c3491" stroke-width="0.7"/>
<polygon points="536.9,410.6 521.4,417.6 534.3,425.1 549.9,418.6" fill="#2c3491" stroke="#2c3491" stroke-width="0.7"/>
<polygon points="565.4,411.1 549.9,418.6 562.8,425.3 578.3,418.3" fill="#2c3491" stroke="#2c3491" stroke-width="0.7"/>
<polygon points="593.9,410.2 578.3,418.3 591.3,424.1 606.8,416.5" fill="#2d3695" stroke="#2d3695" stroke-width="0.7"/>
<polygon points="622.4,407.9 606.8,416.5 619.8,421.5 635.3,413.4" fill="#2f3999" stroke="#2f3999" stroke-width="0.7"/>
<polygon points="650.9,404.2 635.3,413.4 648.2,417.4 663.8,408.8" fill="#313c9d" stroke="#313c9d" stroke-width="0.7"/>
<polygon points="293.4,358.1 277.9,359.6 290.8,373.6 306.4,372.6" fill="#518ed3" stroke="#518ed3" stroke-width="0.7"/>
<polygon points="321.9,370.5 306.4,372.6 319.3,385.7 334.9,384.1" fill="#466dc1" stroke="#466dc1" stroke-width="0.7"/>
<polygon points="350.4,381.4 334.9,384.1 347.8,396.3 363.3,394.2" fill="#3e52af" stroke="#3e52af" stroke-width="0.7"/>
<polygon points="378.9,391.0 363.3,394.2 376.3,405.6 391.8,402.9" fill="#3745a6" stroke="#3745a6" stroke-width="0.7"/>
<polygon points="407.4,399.1 391.8,402.9 404.8,413.4 420.3,410.1" fill="#323ea0" stroke="#323ea0" stroke-width="0.7"/>
<polygon points="435.9,405.9 420.3,410.1 433.2,419.8 448.8,416.0" fill="#2f3999" stroke="#2f3999" stroke-width="0.7"/>
<polygon points="464.4,411.2 448.8,416.0 461.7,424.8 477.3,420.5" fill="#2d3695" stroke="#2d3695" stroke-width="0.7"/>
<polygon points="492.9,415.1 477.3,420.5 490.2,428.4 505.8,423.5" fill="#2c3491" stroke="#2c3491" stroke-width="0.7"/>
<polygon points="521.4,417.6 505.8,423.5 518.7,430.5 534.3,425.1" fill="#2a3187" stroke="#2a3187" stroke-width="0.7"/>
<polygon points="549.9,418.6 534.3,425.1 547.2,431.3 562.8,425.3" fill="#2a3187" stroke="#2a3187" stroke-width="0.7"/>
<polygon points="578.3,418.3 562.8,425.3 575.7,430.6 591.3,424.1" fill="#2c3491" stroke="#2c3491" stroke-width="0.7"/>
<polygon points="606.8,416.5 591.3,424.1 604.2,428.5 619.8,421.5" fill="#2c3491" stroke="#2c3491" stroke-width="0.7"/>
<polygon points="635.3,413.4 619.8,421.5 632.7,425.0 648.2,417.4" fill="#2f3999" stroke="#2f3999" stroke-width="0.7"/>
<polygon points="306.4,372.6 290.8,373.6 303.7,386.2 319.3,385.7" fill="#466dc1" stroke="#466dc1" stroke-width="0.7"/>
<polygon points="334.9,384.1 319.3,385.7 332.2,397.4 347.8,396.3" fill="#3e52af" stroke="#3e52af" stroke-width="0.7"/>
<polygon points="363.3,394.2 347.8,396.3 360.7,407.2 376.3,405.6" fill="#3745a6" stroke="#3745a6" stroke-width="0.7"/>
<polygon points="391.8,402.9 376.3,405.6 389.2,415.6 404.8,413.4" fill="#323ea0" stroke="#323ea0" stroke-width="0.7"/>
<polygon points="420.3,410.1 404.8,413.4 417.7,422.5 433.2,419.8" fill="#2f3999" stroke="#2f3999" stroke-width="0.7"/>
<polygon points="448.8,416.0 433.2,419.8 446.2,428.1 461.7,424.8" fill="#2c3491" stroke="#2c3491" stroke-width="0.7"/>
<polygon points="477.3,420.5 461.7,424.8 474.7,432.2 490.2,428.4" fill="#2a3187" stroke="#2a3187" stroke-width="0.7"/>
<polygon points="505.8,423.5 490.2,428.4 503.1,434.9 518.7,430.5" fill="#2a3187" stroke="#2a3187" stroke-width="0.7"/>
<polygon points="534.3,425.1 518.7,430.5 531.6,436.2 547.2,431.3" fill="#292e7d" stroke="#292e7d" stroke-width="0.7"/>
<polygon points="562.8,425.3 547.2,431.3 560.1,436.1 575.7,430.6" fill="#2a3187" stroke="#2a3187" stroke-width="0.7"/>
<polygon points="591.3,424.1 575.7,430.6 588.6,434.6 604.2,428.5" fill="#2a3187" stroke="#2a3187" stroke-width="0.7"/>
<polygon points="619.8,421.5 604.2,428.5 617.1,431.6 632.7,425.0" fill="#2c3491" stroke="#2c3491" stroke-width="0.7"/>
<polygon points="319.3,385.7 303.7,386.2 316.6,397.5 332.2,397.4" fill="#405bb5" stroke="#405bb5" stroke-width="0.7"/>
<polygon points="347.8,396.3 332.2,397.4 345.1,407.8 360.7,407.2" fill="#3948a8" stroke="#3948a8" stroke-width="0.7"/>
<polygon points="376.3,405.6 360.7,407.2 373.6,416.7 389.2,415.6" fill="#323ea0" stroke="#323ea0" stroke-width="0.7"/>
<polygon points="404.8,413.4 389.2,415.6 402.1,424.2 417.7,422.5" fill="#2f3999" stroke="#2f3999" stroke-width="0.7"/>
<polygon points="433.2,419.8 417.7,422.5 430.6,430.3 446.2,428.1" fill="#2c3491" stroke="#2c3491" stroke-width="0.7"/>
<polygon points="461.7,424.8 446.2,428.1 459.1,435.0 474.7,432.2" fill="#2a3187" stroke="#2a3187" stroke-width="0.7"/>
<polygon points="490.2,428.4 474.7,432.2 487.6,438.2 503.1,434.9" fill="#292e7d" stroke="#292e7d" stroke-width="0.7"/>
<polygon points="518.7,430.5 503.1,434.9 516.1,440.1 531.6,436.2" fill="#292e7d" stroke="#292e7d" stroke-width="0.7"/>
<polygon points="547.2,431.3 531.6,436.2 544.6,440.5 560.1,436.1" fill="#292e7d" stroke="#292e7d" stroke-width="0.7"/>
<polygon points="575.7,430.6 560.1,436.1 573.0,439.5 588.6,434.6" fill="#292e7d" stroke="#292e7d" stroke-width="0.7"/>
<polygon points="604.2,428.5 588.6,434.6 601.5,437.1 617.1,431.6" fill="#2a3187" stroke="#2a3187" stroke-width="0.7"/>
<polygon points="332.2,397.4 316.6,397.5 329.6,407.3 345.1,407.8" fill="#3948a8" stroke="#3948a8" stroke-width="0.7"/>
<polygon points="360.7,407.2 345.1,407.8 358.0,416.8 373.6,416.7" fill="#3441a3" stroke="#3441a3" stroke-width="0.7"/>
<polygon points="389.2,415.6 373.6,416.7 386.5,424.9 402.1,424.2" fill="#2f3999" stroke="#2f3999" stroke-width="0.7"/>
<polygon points="417.7,422.5 402.1,424.2 415.0,431.5 430.6,430.3" fill="#2d3695" stroke="#2d3695" stroke-width="0.7"/>
<polygon points="446.2,428.1 430.6,430.3 443.5,436.7 459.1,435.0" fill="#2a3187" stroke="#2a3187" stroke-width="0.7"/>
<polygon points="474.7,432.2 459.1,435.0 472.0,440.5 487.6,438.2" fill="#292e7d" stroke="#292e7d" stroke-width="0.7"/>
<polygon points="503.1,434.9 487.6,438.2 500.5,442.9 516.1,440.1" fill="#292e7d" stroke="#292e7d" stroke-width="0.7"/>
<polygon points="531.6,436.2 516.1,440.1 529.0,443.9 544.6,440.5" fill="#292e7d" stroke="#292e7d" stroke-width="0.7"/>
<polygon points="560.1,436.1 544.6,440.5 557.5,443.5 573.0,439.5" fill="#292e7d" stroke="#292e7d" stroke-width="0.7"/>
<polygon points="588.6,434.6 573.0,439.5 586.0,441.6 601.5,437.1" fill="#2a3187" stroke="#2a3187" stroke-width="0.7"/>
<polygon points="345.1,407.8 329.6,407.3 342.5,415.9 358.0,416.8" fill="#3745a6" stroke="#3745a6" stroke-width="0.7"/>
<polygon points="373.6,416.7 358.0,416.8 371.0,424.5 386.5,424.9" fill="#313c9d" stroke="#313c9d" stroke-width="0.7"/>
<polygon points="402.1,424.2 386.5,424.9 399.5,431.6 415.0,431.5" fill="#2d3695" stroke="#2d3695" stroke-width="0.7"/>
<polygon points="430.6,430.3 415.0,431.5 427.9,437.4 443.5,436.7" fill="#2c3491" stroke="#2c3491" stroke-width="0.7"/>
<polygon points="459.1,435.0 443.5,436.7 456.4,441.8 472.0,440.5" fill="#2a3187" stroke="#2a3187" stroke-width="0.7"/>
<polygon points="487.6,438.2 472.0,440.5 484.9,444.7 500.5,442.9" fill="#292e7d" stroke="#292e7d" stroke-width="0.7"/>
<polygon points="516.1,440.1 500.5,442.9 513.4,446.2 529.0,443.9" fill="#292e7d" stroke="#292e7d" stroke-width="0.7"/>
<polygon points="544.6,440.5 529.0,443.9 541.9,446.3 557.5,443.5" fill="#292e7d" stroke="#292e7d" stroke-width="0.7"/>
<polygon points="573.0,439.5 557.5,443.5 570.4,445.0 586.0,441.6" fill="#292e7d" stroke="#292e7d" stroke-width="0.7"/>
<polygon points="358.0,416.8 342.5,415.9 355.4,423.0 371.0,424.5" fill="#323ea0" stroke="#323ea0" stroke-width="0.7"/>
<polygon points="386.5,424.9 371.0,424.5 383.9,430.7 399.5,431.6" fill="#2f3999" stroke="#2f3999" stroke-width="0.7"/>
<polygon points="415.0,431.5 399.5,431.6 412.4,437.1 427.9,437.4" fill="#2c3491" stroke="#2c3491" stroke-width="0.7"/>
<polygon points="443.5,436.7 427.9,437.4 440.9,442.0 456.4,441.8" fill="#2a3187" stroke="#2a3187" stroke-width="0.7"/>
<polygon points="472.0,440.5 456.4,441.8 469.4,445.4 484.9,444.7" fill="#292e7d" stroke="#292e7d" stroke-width="0.7"/>
<polygon points="500.5,442.9 484.9,444.7 497.8,447.5 513.4,446.2" fill="#292e7d" stroke="#292e7d" stroke-width="0.7"/>
<polygon points="529.0,443.9 513.4,446.2 526.3,448.2 541.9,446.3" fill="#292e7d" stroke="#292e7d" stroke-width="0.7"/>
<polygon points="557.5,443.5 541.9,446.3 554.8,447.4 570.4,445.0" fill="#292e7d" stroke="#292e7d" stroke-width="0.7"/>
<polygon points="371.0,424.5 355.4,423.0 368.3,428.8 383.9,430.7" fill="#313c9d" stroke="#313c9d" stroke-width="0.7"/>
<polygon points="399.5,431.6 383.9,430.7 396.8,435.6 412.4,437.1" fill="#2f3999" stroke="#2f3999" stroke-width="0.7"/>
<polygon points="427.9,437.4 412.4,437.1 425.3,441.1 440.9,442.0" fill="#2c3491" stroke="#2c3491" stroke-width="0.7"/>
<polygon points="456.4,441.8 440.9,442.0 453.8,445.1 469.4,445.4" fill="#2a3187" stroke="#2a3187" stroke-width="0.7"/>
<polygon points="484.9,444.7 469.4,445.4 482.3,447.7 497.8,447.5" fill="#292e7d" stroke="#292e7d" stroke-width="0.7"/>
<polygon points="513.4,446.2 497.8,447.5 510.8,448.9 526.3,448.2" fill="#292e7d" stroke="#292e7d" stroke-width="0.7"/>
<polygon points="541.9,446.3 526.3,448.2 539.3,448.7 554.8,447.4" fill="#292e7d" stroke="#292e7d" stroke-width="0.7"/>
<polygon points="383.9,430.7 368.3,428.8 381.2,433.2 396.8,435.6" fill="#313c9d" stroke="#313c9d" stroke-width="0.7"/>
<polygon points="412.4,437.1 396.8,435.6 409.7,439.2 425.3,441.1" fill="#2d3695" stroke="#2d3695" stroke-width="0.7"/>
<polygon points="440.9,442.0 425.3,441.1 438.2,443.8 453.8,445.1" fill="#2c3491" stroke="#2c3491" stroke-width="0.7"/>
<polygon points="469.4,445.4 453.8,445.1 466.7,446.9 482.3,447.7" fill="#2a3187" stroke="#2a3187" stroke-width="0.7"/>
<polygon points="497.8,447.5 482.3,447.7 495.2,448.7 510.8,448.9" fill="#2a3187" stroke="#2a3187" stroke-width="0.7"/>
<polygon points="526.3,448.2 510.8,448.9 523.7,449.0 539.3,448.7" fill="#2a3187" stroke="#2a3187" stroke-width="0.7"/>
<polygon points="396.8,435.6 381.2,433.2 394.2,436.2 409.7,439.2" fill="#313c9d" stroke="#313c9d" stroke-width="0.7"/>
<polygon points="425.3,441.1 409.7,439.2 422.6,441.3 438.2,443.8" fill="#2f3999" stroke="#2f3999" stroke-width="0.7"/>
<polygon points="453.8,445.1 438.2,443.8 451.1,445.1 466.7,446.9" fill="#2d3695" stroke="#2d3695" stroke-width="0.7"/>
<polygon points="482.3,447.7 466.7,446.9 479.6,447.4 495.2,448.7" fill="#2c3491" stroke="#2c3491" stroke-width="0.7"/>
<polygon points="510.8,448.9 495.2,448.7 508.1,448.2 523.7,449.0" fill="#2c3491" stroke="#2c3491" stroke-width="0.7"/>
<polygon points="409.7,439.2 394.2,436.2 407.1,437.9 422.6,441.3" fill="#313c9d" stroke="#313c9d" stroke-width="0.7"/>
<polygon points="438.2,443.8 422.6,441.3 435.6,442.1 451.1,445.1" fill="#2f3999" stroke="#2f3999" stroke-width="0.7"/>
<polygon points="466.7,446.9 451.1,445.1 464.1,445.0 479.6,447.4" fill="#2d3695" stroke="#2d3695" stroke-width="0.7"/>
<polygon points="495.2,448.7 479.6,447.4 492.5,446.4 508.1,448.2" fill="#2d3695" stroke="#2d3695" stroke-width="0.7"/>
<polygon points="422.6,441.3 407.1,437.9 420.0,438.2 435.6,442.1" fill="#323ea0" stroke="#323ea0" stroke-width="0.7"/>
<polygon points="451.1,445.1 435.6,442.1 448.5,441.5 464.1,445.0" fill="#313c9d" stroke="#313c9d" stroke-width="0.7"/>
<polygon points="479.6,447.4 464.1,445.0 477.0,443.5 492.5,446.4" fill="#313c9d" stroke="#313c9d" stroke-width="0.7"/>
<polygon points="435.6,442.1 420.0,438.2 432.9,437.1 448.5,441.5" fill="#3441a3" stroke="#3441a3" stroke-width="0.7"/>
<polygon points="464.1,445.0 448.5,441.5 461.4,439.6 477.0,443.5" fill="#3441a3" stroke="#3441a3" stroke-width="0.7"/>
<polygon points="448.5,441.5 432.9,437.1 445.8,434.6 461.4,439.6" fill="#3948a8" stroke="#3948a8" stroke-width="0.7"/>
</g>
<g stroke="#fff" stroke-opacity="0.16" stroke-width="0.9" stroke-dasharray="1.2 1">
<line x1="486.9" y1="142.6" x2="486.9" y2="173.7"/>
<line x1="471.3" y1="160.9" x2="471.3" y2="191.0"/>
<line x1="499.8" y1="168.2" x2="499.8" y2="198.0"/>
<line x1="455.8" y1="178.3" x2="455.8" y2="207.3"/>
<line x1="484.3" y1="186.1" x2="484.3" y2="214.9"/>
<line x1="512.7" y1="192.6" x2="512.7" y2="221.0"/>
<line x1="440.2" y1="194.6" x2="440.2" y2="222.6"/>
<line x1="468.7" y1="203.0" x2="468.7" y2="230.7"/>
<line x1="497.2" y1="210.0" x2="497.2" y2="237.4"/>
<line x1="525.7" y1="215.5" x2="525.7" y2="242.7"/>
<line x1="424.6" y1="209.8" x2="424.6" y2="236.8"/>
<line x1="453.1" y1="218.8" x2="453.1" y2="245.5"/>
<line x1="481.6" y1="226.3" x2="481.6" y2="252.7"/>
<line x1="510.1" y1="232.5" x2="510.1" y2="258.5"/>
<line x1="538.6" y1="237.2" x2="538.6" y2="262.9"/>
<line x1="409.1" y1="224.1" x2="409.1" y2="250.0"/>
<line x1="437.5" y1="233.6" x2="437.5" y2="259.2"/>
<line x1="466.0" y1="241.6" x2="466.0" y2="267.0"/>
<line x1="494.5" y1="248.3" x2="494.5" y2="273.4"/>
<line x1="523.0" y1="253.6" x2="523.0" y2="278.3"/>
<line x1="551.5" y1="257.4" x2="551.5" y2="281.9"/>
<line x1="393.5" y1="237.3" x2="393.5" y2="262.2"/>
<line x1="422.0" y1="247.3" x2="422.0" y2="271.9"/>
<line x1="450.5" y1="255.9" x2="450.5" y2="280.3"/>
<line x1="479.0" y1="263.2" x2="479.0" y2="287.2"/>
<line x1="507.4" y1="269.0" x2="507.4" y2="292.7"/>
<line x1="535.9" y1="273.4" x2="535.9" y2="296.8"/>
<line x1="564.4" y1="276.4" x2="564.4" y2="299.5"/>
<line x1="377.9" y1="249.4" x2="377.9" y2="273.3"/>
<line x1="406.4" y1="260.0" x2="406.4" y2="283.6"/>
<line x1="434.9" y1="269.2" x2="434.9" y2="292.5"/>
<line x1="463.4" y1="276.9" x2="463.4" y2="299.9"/>
<line x1="491.9" y1="283.3" x2="491.9" y2="306.0"/>
<line x1="520.4" y1="288.3" x2="520.4" y2="310.6"/>
<line x1="548.9" y1="291.8" x2="548.9" y2="313.9"/>
<line x1="577.3" y1="293.9" x2="577.3" y2="315.7"/>
<line x1="362.3" y1="260.5" x2="362.3" y2="283.4"/>
<line x1="390.8" y1="271.7" x2="390.8" y2="294.3"/>
<line x1="419.3" y1="281.4" x2="419.3" y2="303.7"/>
<line x1="447.8" y1="289.7" x2="447.8" y2="311.7"/>
<line x1="476.3" y1="296.6" x2="476.3" y2="318.3"/>
<line x1="504.8" y1="302.1" x2="504.8" y2="323.5"/>
<line x1="533.3" y1="306.2" x2="533.3" y2="327.2"/>
<line x1="561.8" y1="308.9" x2="561.8" y2="329.6"/>
<line x1="590.3" y1="310.1" x2="590.3" y2="330.5"/>
<line x1="346.8" y1="270.6" x2="346.8" y2="292.5"/>
<line x1="375.3" y1="282.3" x2="375.3" y2="303.9"/>
<line x1="403.8" y1="292.6" x2="403.8" y2="313.8"/>
<line x1="432.2" y1="301.4" x2="432.2" y2="322.4"/>
<line x1="460.7" y1="308.9" x2="460.7" y2="329.5"/>
<line x1="489.2" y1="314.9" x2="489.2" y2="335.2"/>
<line x1="517.7" y1="319.6" x2="517.7" y2="339.6"/>
<line x1="546.2" y1="322.8" x2="546.2" y2="342.5"/>
<line x1="574.7" y1="324.6" x2="574.7" y2="344.0"/>
<line x1="603.2" y1="325.0" x2="603.2" y2="344.0"/>
<line x1="331.2" y1="279.6" x2="331.2" y2="300.5"/>
<line x1="359.7" y1="291.9" x2="359.7" y2="312.4"/>
<line x1="388.2" y1="302.7" x2="388.2" y2="322.9"/>
<line x1="416.7" y1="312.1" x2="416.7" y2="332.0"/>
<line x1="445.2" y1="320.1" x2="445.2" y2="339.7"/>
<line x1="473.7" y1="326.7" x2="473.7" y2="346.0"/>
<line x1="502.1" y1="331.9" x2="502.1" y2="350.8"/>
<line x1="530.6" y1="335.6" x2="530.6" y2="354.3"/>
<line x1="559.1" y1="338.0" x2="559.1" y2="356.3"/>
<line x1="587.6" y1="338.9" x2="587.6" y2="357.0"/>
<line x1="616.1" y1="338.5" x2="616.1" y2="356.2"/>
<line x1="315.6" y1="287.6" x2="315.6" y2="307.5"/>
<line x1="344.1" y1="300.4" x2="344.1" y2="319.9"/>
<line x1="372.6" y1="311.8" x2="372.6" y2="331.0"/>
<line x1="401.1" y1="321.8" x2="401.1" y2="340.6"/>
<line x1="429.6" y1="330.3" x2="429.6" y2="348.9"/>
<line x1="458.1" y1="337.4" x2="458.1" y2="355.7"/>
<line x1="486.6" y1="343.2" x2="486.6" y2="361.1"/>
<line x1="515.1" y1="347.5" x2="515.1" y2="365.1"/>
<line x1="543.6" y1="350.4" x2="543.6" y2="367.7"/>
<line x1="572.0" y1="351.9" x2="572.0" y2="368.8"/>
<line x1="600.5" y1="351.9" x2="600.5" y2="368.6"/>
<line x1="629.0" y1="350.6" x2="629.0" y2="367.0"/>
<line x1="300.1" y1="294.6" x2="300.1" y2="313.4"/>
<line x1="328.6" y1="307.9" x2="328.6" y2="326.4"/>
<line x1="357.0" y1="319.8" x2="357.0" y2="338.0"/>
<line x1="385.5" y1="330.4" x2="385.5" y2="348.2"/>
<line x1="414.0" y1="339.4" x2="414.0" y2="357.0"/>
<line x1="442.5" y1="347.1" x2="442.5" y2="364.3"/>
<line x1="471.0" y1="353.4" x2="471.0" y2="370.3"/>
<line x1="499.5" y1="358.2" x2="499.5" y2="374.8"/>
<line x1="528.0" y1="361.7" x2="528.0" y2="378.0"/>
<line x1="556.5" y1="363.7" x2="556.5" y2="379.7"/>
<line x1="585.0" y1="364.3" x2="585.0" y2="380.0"/>
<line x1="613.5" y1="363.6" x2="613.5" y2="378.9"/>
<line x1="641.9" y1="361.4" x2="641.9" y2="376.4"/>
<line x1="284.5" y1="300.5" x2="284.5" y2="318.3"/>
<line x1="313.0" y1="314.4" x2="313.0" y2="331.8"/>
<line x1="341.5" y1="326.9" x2="341.5" y2="344.0"/>
<line x1="370.0" y1="337.9" x2="370.0" y2="354.7"/>
<line x1="398.5" y1="347.6" x2="398.5" y2="364.1"/>
<line x1="426.9" y1="355.8" x2="426.9" y2="372.0"/>
<line x1="455.4" y1="362.6" x2="455.4" y2="378.5"/>
<line x1="483.9" y1="368.0" x2="483.9" y2="383.6"/>
<line x1="512.4" y1="372.0" x2="512.4" y2="387.2"/>
<line x1="540.9" y1="374.6" x2="540.9" y2="389.5"/>
<line x1="569.4" y1="375.7" x2="569.4" y2="390.4"/>
<line x1="597.9" y1="375.5" x2="597.9" y2="389.8"/>
<line x1="626.4" y1="373.8" x2="626.4" y2="387.8"/>
<line x1="654.9" y1="370.8" x2="654.9" y2="384.4"/>
<line x1="268.9" y1="305.4" x2="268.9" y2="322.1"/>
<line x1="297.4" y1="319.8" x2="297.4" y2="336.2"/>
<line x1="325.9" y1="332.8" x2="325.9" y2="348.9"/>
<line x1="354.4" y1="344.4" x2="354.4" y2="360.2"/>
<line x1="382.9" y1="354.6" x2="382.9" y2="370.1"/>
<line x1="411.4" y1="363.4" x2="411.4" y2="378.5"/>
<line x1="439.9" y1="370.8" x2="439.9" y2="385.6"/>
<line x1="468.4" y1="376.7" x2="468.4" y2="391.2"/>
<line x1="496.8" y1="381.2" x2="496.8" y2="395.5"/>
<line x1="525.3" y1="384.4" x2="525.3" y2="398.3"/>
<line x1="553.8" y1="386.1" x2="553.8" y2="399.7"/>
<line x1="582.3" y1="386.4" x2="582.3" y2="399.6"/>
<line x1="610.8" y1="385.3" x2="610.8" y2="398.2"/>
<line x1="639.3" y1="382.7" x2="639.3" y2="395.4"/>
<line x1="667.8" y1="378.8" x2="667.8" y2="391.1"/>
<line x1="253.4" y1="309.2" x2="253.4" y2="324.9"/>
<line x1="281.8" y1="324.2" x2="281.8" y2="339.6"/>
<line x1="310.3" y1="337.8" x2="310.3" y2="352.8"/>
<line x1="338.8" y1="349.9" x2="338.8" y2="364.6"/>
<line x1="367.3" y1="360.6" x2="367.3" y2="375.1"/>
<line x1="395.8" y1="370.0" x2="395.8" y2="384.1"/>
<line x1="424.3" y1="377.9" x2="424.3" y2="391.7"/>
<line x1="452.8" y1="384.4" x2="452.8" y2="397.9"/>
<line x1="481.3" y1="389.4" x2="481.3" y2="402.6"/>
<line x1="509.8" y1="393.1" x2="509.8" y2="406.0"/>
<line x1="538.3" y1="395.4" x2="538.3" y2="407.9"/>
<line x1="566.7" y1="396.2" x2="566.7" y2="408.5"/>
<line x1="595.2" y1="395.7" x2="595.2" y2="407.6"/>
<line x1="623.7" y1="393.7" x2="623.7" y2="405.3"/>
<line x1="652.2" y1="390.3" x2="652.2" y2="401.6"/>
<line x1="680.7" y1="385.5" x2="680.7" y2="396.4"/>
<line x1="266.3" y1="327.5" x2="266.3" y2="341.8"/>
<line x1="294.8" y1="341.6" x2="294.8" y2="355.6"/>
<line x1="323.3" y1="354.3" x2="323.3" y2="368.0"/>
<line x1="351.7" y1="365.6" x2="351.7" y2="379.0"/>
<line x1="380.2" y1="375.5" x2="380.2" y2="388.6"/>
<line x1="408.7" y1="383.9" x2="408.7" y2="396.7"/>
<line x1="437.2" y1="391.0" x2="437.2" y2="403.4"/>
<line x1="465.7" y1="396.6" x2="465.7" y2="408.8"/>
<line x1="494.2" y1="400.8" x2="494.2" y2="412.7"/>
<line x1="522.7" y1="403.6" x2="522.7" y2="415.1"/>
<line x1="551.2" y1="405.0" x2="551.2" y2="416.2"/>
<line x1="579.7" y1="405.0" x2="579.7" y2="415.9"/>
<line x1="608.2" y1="403.6" x2="608.2" y2="414.1"/>
<line x1="636.6" y1="400.7" x2="636.6" y2="411.0"/>
<line x1="665.1" y1="396.5" x2="665.1" y2="406.4"/>
<line x1="279.2" y1="344.5" x2="279.2" y2="357.4"/>
<line x1="307.7" y1="357.7" x2="307.7" y2="370.4"/>
<line x1="336.2" y1="369.5" x2="336.2" y2="381.9"/>
<line x1="364.7" y1="380.0" x2="364.7" y2="392.0"/>
<line x1="393.2" y1="389.0" x2="393.2" y2="400.7"/>
<line x1="421.6" y1="396.6" x2="421.6" y2="408.0"/>
<line x1="450.1" y1="402.7" x2="450.1" y2="413.8"/>
<line x1="478.6" y1="407.5" x2="478.6" y2="418.3"/>
<line x1="507.1" y1="410.9" x2="507.1" y2="421.3"/>
<line x1="535.6" y1="412.8" x2="535.6" y2="422.9"/>
<line x1="564.1" y1="413.3" x2="564.1" y2="423.2"/>
<line x1="592.6" y1="412.4" x2="592.6" y2="422.0"/>
<line x1="621.1" y1="410.1" x2="621.1" y2="419.3"/>
<line x1="649.6" y1="406.4" x2="649.6" y2="415.3"/>
<line x1="292.1" y1="360.0" x2="292.1" y2="371.7"/>
<line x1="320.6" y1="372.4" x2="320.6" y2="383.7"/>
<line x1="349.1" y1="383.4" x2="349.1" y2="394.4"/>
<line x1="377.6" y1="393.0" x2="377.6" y2="403.6"/>
<line x1="406.1" y1="401.1" x2="406.1" y2="411.5"/>
<line x1="434.6" y1="407.8" x2="434.6" y2="417.9"/>
<line x1="463.1" y1="413.1" x2="463.1" y2="422.9"/>
<line x1="491.5" y1="417.0" x2="491.5" y2="426.5"/>
<line x1="520.0" y1="419.5" x2="520.0" y2="428.6"/>
<line x1="548.5" y1="420.6" x2="548.5" y2="429.4"/>
<line x1="577.0" y1="420.2" x2="577.0" y2="428.7"/>
<line x1="605.5" y1="418.5" x2="605.5" y2="426.6"/>
<line x1="634.0" y1="415.3" x2="634.0" y2="423.2"/>
<line x1="305.0" y1="374.3" x2="305.0" y2="384.5"/>
<line x1="333.5" y1="385.8" x2="333.5" y2="395.7"/>
<line x1="362.0" y1="395.9" x2="362.0" y2="405.5"/>
<line x1="390.5" y1="404.6" x2="390.5" y2="413.9"/>
<line x1="419.0" y1="411.8" x2="419.0" y2="420.9"/>
<line x1="447.5" y1="417.7" x2="447.5" y2="426.4"/>
<line x1="476.0" y1="422.1" x2="476.0" y2="430.5"/>
<line x1="504.5" y1="425.2" x2="504.5" y2="433.3"/>
<line x1="533.0" y1="426.8" x2="533.0" y2="434.6"/>
<line x1="561.4" y1="427.0" x2="561.4" y2="434.4"/>
<line x1="589.9" y1="425.8" x2="589.9" y2="432.9"/>
<line x1="618.4" y1="423.2" x2="618.4" y2="430.0"/>
<line x1="318.0" y1="387.1" x2="318.0" y2="396.0"/>
<line x1="346.4" y1="397.8" x2="346.4" y2="406.4"/>
<line x1="374.9" y1="407.0" x2="374.9" y2="415.3"/>
<line x1="403.4" y1="414.8" x2="403.4" y2="422.8"/>
<line x1="431.9" y1="421.2" x2="431.9" y2="428.9"/>
<line x1="460.4" y1="426.2" x2="460.4" y2="433.6"/>
<line x1="488.9" y1="429.8" x2="488.9" y2="436.9"/>
<line x1="517.4" y1="432.0" x2="517.4" y2="438.7"/>
<line x1="545.9" y1="432.7" x2="545.9" y2="439.1"/>
<line x1="574.4" y1="432.0" x2="574.4" y2="438.1"/>
<line x1="602.9" y1="430.0" x2="602.9" y2="435.7"/>
<line x1="330.9" y1="398.6" x2="330.9" y2="406.2"/>
<line x1="359.4" y1="408.4" x2="359.4" y2="415.7"/>
<line x1="387.9" y1="416.8" x2="387.9" y2="423.7"/>
<line x1="416.3" y1="423.7" x2="416.3" y2="430.4"/>
<line x1="444.8" y1="429.3" x2="444.8" y2="435.6"/>
<line x1="473.3" y1="433.4" x2="473.3" y2="439.4"/>
<line x1="501.8" y1="436.1" x2="501.8" y2="441.8"/>
<line x1="530.3" y1="437.4" x2="530.3" y2="442.8"/>
<line x1="558.8" y1="437.3" x2="558.8" y2="442.3"/>
<line x1="587.3" y1="435.7" x2="587.3" y2="440.5"/>
<line x1="343.8" y1="408.7" x2="343.8" y2="415.0"/>
<line x1="372.3" y1="417.7" x2="372.3" y2="423.6"/>
<line x1="400.8" y1="425.2" x2="400.8" y2="430.8"/>
<line x1="429.3" y1="431.2" x2="429.3" y2="436.5"/>
<line x1="457.8" y1="435.9" x2="457.8" y2="440.9"/>
<line x1="486.2" y1="439.2" x2="486.2" y2="443.8"/>
<line x1="514.7" y1="441.0" x2="514.7" y2="445.3"/>
<line x1="543.2" y1="441.4" x2="543.2" y2="445.5"/>
<line x1="571.7" y1="440.4" x2="571.7" y2="444.1"/>
<line x1="356.7" y1="417.5" x2="356.7" y2="422.4"/>
<line x1="385.2" y1="425.6" x2="385.2" y2="430.1"/>
<line x1="413.7" y1="432.2" x2="413.7" y2="436.4"/>
<line x1="442.2" y1="437.4" x2="442.2" y2="441.3"/>
<line x1="470.7" y1="441.2" x2="470.7" y2="444.8"/>
<line x1="499.2" y1="443.6" x2="499.2" y2="446.9"/>
<line x1="527.7" y1="444.6" x2="527.7" y2="447.5"/>
<line x1="556.1" y1="444.1" x2="556.1" y2="446.8"/>
<line x1="369.6" y1="424.9" x2="369.6" y2="428.4"/>
<line x1="398.1" y1="432.1" x2="398.1" y2="435.3"/>
<line x1="426.6" y1="437.8" x2="426.6" y2="440.7"/>
<line x1="455.1" y1="442.2" x2="455.1" y2="444.8"/>
<line x1="478.3" y1="444.2" x2="478.3" y2="446.7"/>
<line x1="434.2" y1="438.0" x2="434.2" y2="441.3"/>
<line x1="462.7" y1="440.5" x2="462.7" y2="444.1"/>
<line x1="447.2" y1="435.8" x2="447.2" y2="440.4"/>
</g>
<g fill="#0c0c30" fill-opacity="0.55">
<circle cx="485.6" cy="180.1" r="1.3"/>
<circle cx="470.0" cy="197.2" r="1.3"/>
<circle cx="454.4" cy="213.3" r="1.3"/>
<circle cx="438.9" cy="228.3" r="1.3"/>
<circle cx="423.3" cy="242.3" r="1.3"/>
<circle cx="407.7" cy="255.3" r="1.3"/>
<circle cx="392.2" cy="267.2" r="1.3"/>
<circle cx="376.6" cy="278.1" r="1.3"/>
<circle cx="361.0" cy="287.9" r="1.3"/>
<circle cx="345.5" cy="296.7" r="1.3"/>
<circle cx="329.9" cy="304.4" r="1.3"/>
<circle cx="314.3" cy="311.2" r="1.3"/>
<circle cx="298.7" cy="316.8" r="1.3"/>
<circle cx="283.2" cy="321.5" r="1.3"/>
<circle cx="267.6" cy="325.0" r="1.3"/>
<circle cx="252.0" cy="327.6" r="1.3"/>
<circle cx="498.5" cy="204.2" r="1.3"/>
<circle cx="482.9" cy="220.8" r="1.3"/>
<circle cx="467.4" cy="236.4" r="1.3"/>
<circle cx="451.8" cy="250.9" r="1.3"/>
<circle cx="436.2" cy="264.4" r="1.3"/>
<circle cx="420.7" cy="276.9" r="1.3"/>
<circle cx="405.1" cy="288.3" r="1.3"/>
<circle cx="389.5" cy="298.7" r="1.3"/>
<circle cx="373.9" cy="308.1" r="1.3"/>
<circle cx="358.4" cy="316.4" r="1.3"/>
<circle cx="342.8" cy="323.6" r="1.3"/>
<circle cx="327.2" cy="329.8" r="1.3"/>
<circle cx="311.7" cy="335.0" r="1.3"/>
<circle cx="296.1" cy="339.2" r="1.3"/>
<circle cx="280.5" cy="342.2" r="1.3"/>
<circle cx="265.0" cy="344.3" r="1.3"/>
<circle cx="511.4" cy="227.0" r="1.3"/>
<circle cx="495.9" cy="243.1" r="1.3"/>
<circle cx="480.3" cy="258.2" r="1.3"/>
<circle cx="464.7" cy="272.2" r="1.3"/>
<circle cx="449.1" cy="285.2" r="1.3"/>
<circle cx="433.6" cy="297.2" r="1.3"/>
<circle cx="418.0" cy="308.1" r="1.3"/>
<circle cx="402.4" cy="318.0" r="1.3"/>
<circle cx="386.9" cy="326.9" r="1.3"/>
<circle cx="371.3" cy="334.7" r="1.3"/>
<circle cx="355.7" cy="341.5" r="1.3"/>
<circle cx="340.2" cy="347.2" r="1.3"/>
<circle cx="324.6" cy="351.9" r="1.3"/>
<circle cx="309.0" cy="355.5" r="1.3"/>
<circle cx="293.4" cy="358.1" r="1.3"/>
<circle cx="277.9" cy="359.6" r="1.3"/>
<circle cx="524.3" cy="248.4" r="1.3"/>
<circle cx="508.8" cy="264.0" r="1.3"/>
<circle cx="493.2" cy="278.6" r="1.3"/>
<circle cx="477.6" cy="292.1" r="1.3"/>
<circle cx="462.1" cy="304.6" r="1.3"/>
<circle cx="446.5" cy="316.1" r="1.3"/>
<circle cx="430.9" cy="326.6" r="1.3"/>
<circle cx="415.4" cy="336.0" r="1.3"/>
<circle cx="399.8" cy="344.3" r="1.3"/>
<circle cx="384.2" cy="351.6" r="1.3"/>
<circle cx="368.6" cy="357.9" r="1.3"/>
<circle cx="353.1" cy="363.1" r="1.3"/>
<circle cx="337.5" cy="367.3" r="1.3"/>
<circle cx="321.9" cy="370.5" r="1.3"/>
<circle cx="306.4" cy="372.6" r="1.3"/>
<circle cx="290.8" cy="373.6" r="1.3"/>
<circle cx="537.3" cy="268.4" r="1.3"/>
<circle cx="521.7" cy="283.5" r="1.3"/>
<circle cx="506.1" cy="297.6" r="1.3"/>
<circle cx="490.6" cy="310.7" r="1.3"/>
<circle cx="475.0" cy="322.7" r="1.3"/>
<circle cx="459.4" cy="333.7" r="1.3"/>
<circle cx="443.8" cy="343.6" r="1.3"/>
<circle cx="428.3" cy="352.6" r="1.3"/>
<circle cx="412.7" cy="360.4" r="1.3"/>
<circle cx="397.1" cy="367.2" r="1.3"/>
<circle cx="381.6" cy="373.0" r="1.3"/>
<circle cx="366.0" cy="377.7" r="1.3"/>
<circle cx="350.4" cy="381.4" r="1.3"/>
<circle cx="334.9" cy="384.1" r="1.3"/>
<circle cx="319.3" cy="385.7" r="1.3"/>
<circle cx="303.7" cy="386.2" r="1.3"/>
<circle cx="550.2" cy="287.1" r="1.3"/>
<circle cx="534.6" cy="301.7" r="1.3"/>
<circle cx="519.0" cy="315.3" r="1.3"/>
<circle cx="503.5" cy="327.9" r="1.3"/>
<circle cx="487.9" cy="339.4" r="1.3"/>
<circle cx="472.3" cy="349.9" r="1.3"/>
<circle cx="456.8" cy="359.4" r="1.3"/>
<circle cx="441.2" cy="367.8" r="1.3"/>
<circle cx="425.6" cy="375.2" r="1.3"/>
<circle cx="410.1" cy="381.5" r="1.3"/>
<circle cx="394.5" cy="386.8" r="1.3"/>
<circle cx="378.9" cy="391.0" r="1.3"/>
<circle cx="363.3" cy="394.2" r="1.3"/>
<circle cx="347.8" cy="396.3" r="1.3"/>
<circle cx="332.2" cy="397.4" r="1.3"/>
<circle cx="316.6" cy="397.5" r="1.3"/>
<circle cx="563.1" cy="304.4" r="1.3"/>
<circle cx="547.5" cy="318.5" r="1.3"/>
<circle cx="532.0" cy="331.7" r="1.3"/>
<circle cx="516.4" cy="343.7" r="1.3"/>
<circle cx="500.8" cy="354.8" r="1.3"/>
<circle cx="485.3" cy="364.8" r="1.3"/>
<circle cx="469.7" cy="373.7" r="1.3"/>
<circle cx="454.1" cy="381.7" r="1.3"/>
<circle cx="438.5" cy="388.5" r="1.3"/>
<circle cx="423.0" cy="394.4" r="1.3"/>
<circle cx="407.4" cy="399.1" r="1.3"/>
<circle cx="391.8" cy="402.9" r="1.3"/>
<circle cx="376.3" cy="405.6" r="1.3"/>
<circle cx="360.7" cy="407.2" r="1.3"/>
<circle cx="345.1" cy="407.8" r="1.3"/>
<circle cx="329.6" cy="407.3" r="1.3"/>
<circle cx="576.0" cy="320.4" r="1.3"/>
<circle cx="560.5" cy="334.0" r="1.3"/>
<circle cx="544.9" cy="346.6" r="1.3"/>
<circle cx="529.3" cy="358.2" r="1.3"/>
<circle cx="513.7" cy="368.8" r="1.3"/>
<circle cx="498.2" cy="378.3" r="1.3"/>
<circle cx="482.6" cy="386.7" r="1.3"/>
<circle cx="467.0" cy="394.2" r="1.3"/>
<circle cx="451.5" cy="400.5" r="1.3"/>
<circle cx="435.9" cy="405.9" r="1.3"/>
<circle cx="420.3" cy="410.1" r="1.3"/>
<circle cx="404.8" cy="413.4" r="1.3"/>
<circle cx="389.2" cy="415.6" r="1.3"/>
<circle cx="373.6" cy="416.7" r="1.3"/>
<circle cx="358.0" cy="416.8" r="1.3"/>
<circle cx="342.5" cy="415.9" r="1.3"/>
<circle cx="588.9" cy="335.0" r="1.3"/>
<circle cx="573.4" cy="348.1" r="1.3"/>
<circle cx="557.8" cy="360.3" r="1.3"/>
<circle cx="542.2" cy="371.4" r="1.3"/>
<circle cx="526.7" cy="381.4" r="1.3"/>
<circle cx="511.1" cy="390.4" r="1.3"/>
<circle cx="495.5" cy="398.4" r="1.3"/>
<circle cx="480.0" cy="405.3" r="1.3"/>
<circle cx="464.4" cy="411.2" r="1.3"/>
<circle cx="448.8" cy="416.0" r="1.3"/>
<circle cx="433.2" cy="419.8" r="1.3"/>
<circle cx="417.7" cy="422.5" r="1.3"/>
<circle cx="402.1" cy="424.2" r="1.3"/>
<circle cx="386.5" cy="424.9" r="1.3"/>
<circle cx="371.0" cy="424.5" r="1.3"/>
<circle cx="355.4" cy="423.0" r="1.3"/>
<circle cx="601.9" cy="348.2" r="1.3"/>
<circle cx="586.3" cy="360.9" r="1.3"/>
<circle cx="570.7" cy="372.5" r="1.3"/>
<circle cx="555.2" cy="383.1" r="1.3"/>
<circle cx="539.6" cy="392.7" r="1.3"/>
<circle cx="524.0" cy="401.2" r="1.3"/>
<circle cx="508.4" cy="408.7" r="1.3"/>
<circle cx="492.9" cy="415.1" r="1.3"/>
<circle cx="477.3" cy="420.5" r="1.3"/>
<circle cx="461.7" cy="424.8" r="1.3"/>
<circle cx="446.2" cy="428.1" r="1.3"/>
<circle cx="430.6" cy="430.3" r="1.3"/>
<circle cx="415.0" cy="431.5" r="1.3"/>
<circle cx="399.5" cy="431.6" r="1.3"/>
<circle cx="383.9" cy="430.7" r="1.3"/>
<circle cx="368.3" cy="428.8" r="1.3"/>
<circle cx="614.8" cy="360.1" r="1.3"/>
<circle cx="599.2" cy="372.3" r="1.3"/>
<circle cx="583.6" cy="383.4" r="1.3"/>
<circle cx="568.1" cy="393.5" r="1.3"/>
<circle cx="552.5" cy="402.6" r="1.3"/>
<circle cx="536.9" cy="410.6" r="1.3"/>
<circle cx="521.4" cy="417.6" r="1.3"/>
<circle cx="505.8" cy="423.5" r="1.3"/>
<circle cx="490.2" cy="428.4" r="1.3"/>
<circle cx="474.7" cy="432.2" r="1.3"/>
<circle cx="459.1" cy="435.0" r="1.3"/>
<circle cx="443.5" cy="436.7" r="1.3"/>
<circle cx="427.9" cy="437.4" r="1.3"/>
<circle cx="412.4" cy="437.1" r="1.3"/>
<circle cx="396.8" cy="435.6" r="1.3"/>
<circle cx="381.2" cy="433.2" r="1.3"/>
<circle cx="627.7" cy="370.6" r="1.3"/>
<circle cx="612.1" cy="382.3" r="1.3"/>
<circle cx="596.6" cy="393.0" r="1.3"/>
<circle cx="581.0" cy="402.6" r="1.3"/>
<circle cx="565.4" cy="411.1" r="1.3"/>
<circle cx="549.9" cy="418.6" r="1.3"/>
<circle cx="534.3" cy="425.1" r="1.3"/>
<circle cx="518.7" cy="430.5" r="1.3"/>
<circle cx="503.1" cy="434.9" r="1.3"/>
<circle cx="487.6" cy="438.2" r="1.3"/>
<circle cx="472.0" cy="440.5" r="1.3"/>
<circle cx="456.4" cy="441.8" r="1.3"/>
<circle cx="440.9" cy="442.0" r="1.3"/>
<circle cx="425.3" cy="441.1" r="1.3"/>
<circle cx="409.7" cy="439.2" r="1.3"/>
<circle cx="394.2" cy="436.2" r="1.3"/>
<circle cx="640.6" cy="379.8" r="1.3"/>
<circle cx="625.1" cy="391.0" r="1.3"/>
<circle cx="609.5" cy="401.1" r="1.3"/>
<circle cx="593.9" cy="410.2" r="1.3"/>
<circle cx="578.3" cy="418.3" r="1.3"/>
<circle cx="562.8" cy="425.3" r="1.3"/>
<circle cx="547.2" cy="431.3" r="1.3"/>
<circle cx="531.6" cy="436.2" r="1.3"/>
<circle cx="516.1" cy="440.1" r="1.3"/>
<circle cx="500.5" cy="442.9" r="1.3"/>
<circle cx="484.9" cy="444.7" r="1.3"/>
<circle cx="469.4" cy="445.4" r="1.3"/>
<circle cx="453.8" cy="445.1" r="1.3"/>
<circle cx="438.2" cy="443.8" r="1.3"/>
<circle cx="422.6" cy="441.3" r="1.3"/>
<circle cx="407.1" cy="437.9" r="1.3"/>
<circle cx="653.5" cy="387.6" r="1.3"/>
<circle cx="638.0" cy="398.3" r="1.3"/>
<circle cx="622.4" cy="407.9" r="1.3"/>
<circle cx="606.8" cy="416.5" r="1.3"/>
<circle cx="591.3" cy="424.1" r="1.3"/>
<circle cx="575.7" cy="430.6" r="1.3"/>
<circle cx="560.1" cy="436.1" r="1.3"/>
<circle cx="544.6" cy="440.5" r="1.3"/>
<circle cx="529.0" cy="443.9" r="1.3"/>
<circle cx="513.4" cy="446.2" r="1.3"/>
<circle cx="497.8" cy="447.5" r="1.3"/>
<circle cx="482.3" cy="447.7" r="1.3"/>
<circle cx="466.7" cy="446.9" r="1.3"/>
<circle cx="451.1" cy="445.1" r="1.3"/>
<circle cx="435.6" cy="442.1" r="1.3"/>
<circle cx="420.0" cy="438.2" r="1.3"/>
<circle cx="666.5" cy="394.0" r="1.3"/>
<circle cx="650.9" cy="404.2" r="1.3"/>
<circle cx="635.3" cy="413.4" r="1.3"/>
<circle cx="619.8" cy="421.5" r="1.3"/>
<circle cx="604.2" cy="428.5" r="1.3"/>
<circle cx="588.6" cy="434.6" r="1.3"/>
<circle cx="573.0" cy="439.5" r="1.3"/>
<circle cx="557.5" cy="443.5" r="1.3"/>
<circle cx="541.9" cy="446.3" r="1.3"/>
<circle cx="526.3" cy="448.2" r="1.3"/>
<circle cx="510.8" cy="448.9" r="1.3"/>
<circle cx="495.2" cy="448.7" r="1.3"/>
<circle cx="479.6" cy="447.4" r="1.3"/>
<circle cx="464.1" cy="445.0" r="1.3"/>
<circle cx="448.5" cy="441.5" r="1.3"/>
<circle cx="432.9" cy="437.1" r="1.3"/>
<circle cx="679.4" cy="399.1" r="1.3"/>
<circle cx="663.8" cy="408.8" r="1.3"/>
<circle cx="648.2" cy="417.4" r="1.3"/>
<circle cx="632.7" cy="425.0" r="1.3"/>
<circle cx="617.1" cy="431.6" r="1.3"/>
<circle cx="601.5" cy="437.1" r="1.3"/>
<circle cx="586.0" cy="441.6" r="1.3"/>
<circle cx="570.4" cy="445.0" r="1.3"/>
<circle cx="554.8" cy="447.4" r="1.3"/>
<circle cx="539.3" cy="448.7" r="1.3"/>
<circle cx="523.7" cy="449.0" r="1.3"/>
<circle cx="508.1" cy="448.2" r="1.3"/>
<circle cx="492.5" cy="446.4" r="1.3"/>
<circle cx="477.0" cy="443.5" r="1.3"/>
<circle cx="461.4" cy="439.6" r="1.3"/>
<circle cx="445.8" cy="434.6" r="1.3"/>
</g>
<circle cx="196.4" cy="456.9" r="1.1" fill="#000" fill-opacity="0.35"/>
<circle cx="513.7" cy="379.1" r="1.1" fill="#000" fill-opacity="0.2"/>
<circle cx="513.7" cy="85.9" r="1.1" fill="#000" fill-opacity="0.3"/>
<circle cx="239.5" cy="472.6" r="1.1" fill="#000" fill-opacity="0.35"/>
<circle cx="556.8" cy="394.8" r="1.1" fill="#000" fill-opacity="0.2"/>
<circle cx="556.8" cy="101.3" r="1.1" fill="#000" fill-opacity="0.3"/>
<circle cx="304.1" cy="496.1" r="1.1" fill="#000" fill-opacity="0.35"/>
<circle cx="621.4" cy="418.3" r="1.1" fill="#000" fill-opacity="0.2"/>
<circle cx="621.4" cy="124.4" r="1.1" fill="#000" fill-opacity="0.3"/>
<circle cx="368.7" cy="519.6" r="1.1" fill="#000" fill-opacity="0.35"/>
<circle cx="686.0" cy="441.8" r="1.1" fill="#000" fill-opacity="0.2"/>
<circle cx="686.0" cy="147.5" r="1.1" fill="#000" fill-opacity="0.3"/>
<circle cx="411.8" cy="535.2" r="1.1" fill="#000" fill-opacity="0.35"/>
<circle cx="729.1" cy="457.5" r="1.1" fill="#000" fill-opacity="0.2"/>
<circle cx="729.1" cy="162.9" r="1.1" fill="#000" fill-opacity="0.3"/>
<circle cx="733.4" cy="474.1" r="1.1" fill="#000" fill-opacity="0.35"/>
<circle cx="467.5" cy="377.3" r="1.1" fill="#000" fill-opacity="0.2"/>
<circle cx="467.5" cy="84.1" r="1.1" fill="#000" fill-opacity="0.3"/>
<circle cx="680.3" cy="487.1" r="1.1" fill="#000" fill-opacity="0.35"/>
<circle cx="414.4" cy="390.4" r="1.1" fill="#000" fill-opacity="0.2"/>
<circle cx="414.4" cy="96.8" r="1.1" fill="#000" fill-opacity="0.3"/>
<circle cx="602.4" cy="506.2" r="1.1" fill="#000" fill-opacity="0.35"/>
<circle cx="336.5" cy="409.5" r="1.1" fill="#000" fill-opacity="0.2"/>
<circle cx="336.5" cy="115.5" r="1.1" fill="#000" fill-opacity="0.3"/>
<circle cx="524.6" cy="525.3" r="1.1" fill="#000" fill-opacity="0.35"/>
<circle cx="258.7" cy="428.5" r="1.1" fill="#000" fill-opacity="0.2"/>
<circle cx="258.7" cy="134.1" r="1.1" fill="#000" fill-opacity="0.3"/>
<circle cx="471.4" cy="538.3" r="1.1" fill="#000" fill-opacity="0.35"/>
<circle cx="205.5" cy="441.6" r="1.1" fill="#000" fill-opacity="0.2"/>
<circle cx="205.5" cy="146.8" r="1.1" fill="#000" fill-opacity="0.3"/>
<circle cx="175.0" cy="447.1" r="1.1" fill="#000" fill-opacity="0.35"/>
<circle cx="750.6" cy="465.3" r="1.1" fill="#000" fill-opacity="0.3"/>
<circle cx="492.2" cy="371.3" r="1.1" fill="#000" fill-opacity="0.15"/>
<circle cx="175.0" cy="388.1" r="1.1" fill="#000" fill-opacity="0.35"/>
<circle cx="750.6" cy="406.4" r="1.1" fill="#000" fill-opacity="0.3"/>
<circle cx="492.2" cy="312.7" r="1.1" fill="#000" fill-opacity="0.15"/>
<circle cx="175.0" cy="329.1" r="1.1" fill="#000" fill-opacity="0.35"/>
<circle cx="750.6" cy="347.4" r="1.1" fill="#000" fill-opacity="0.3"/>
<circle cx="492.2" cy="254.1" r="1.1" fill="#000" fill-opacity="0.15"/>
<circle cx="175.0" cy="270.2" r="1.1" fill="#000" fill-opacity="0.35"/>
<circle cx="750.6" cy="288.5" r="1.1" fill="#000" fill-opacity="0.3"/>
<circle cx="492.2" cy="195.4" r="1.1" fill="#000" fill-opacity="0.15"/>
<circle cx="175.0" cy="211.2" r="1.1" fill="#000" fill-opacity="0.35"/>
<circle cx="750.6" cy="229.5" r="1.1" fill="#000" fill-opacity="0.3"/>
<circle cx="492.2" cy="136.8" r="1.1" fill="#000" fill-opacity="0.15"/>
<circle cx="175.0" cy="152.2" r="1.1" fill="#000" fill-opacity="0.35"/>
<circle cx="750.6" cy="170.6" r="1.1" fill="#000" fill-opacity="0.3"/>
<circle cx="492.2" cy="78.2" r="1.1" fill="#000" fill-opacity="0.15"/>
<rect x="139.6" y="464.4" width="50.1" height="20.7" fill="#fff"/>
<text x="189.8" y="484.5" font-size="29" text-anchor="end" font-weight="bold" stroke="#0a0a0a" stroke-width="0.45">0.13</text>
<rect x="182.7" y="480.0" width="50.1" height="20.7" fill="#fff"/>
<text x="232.9" y="500.2" font-size="29" text-anchor="end" font-weight="bold" stroke="#0a0a0a" stroke-width="0.45">0.20</text>
<rect x="247.3" y="503.5" width="50.1" height="20.7" fill="#fff"/>
<text x="297.5" y="523.7" font-size="29" text-anchor="end" font-weight="bold" stroke="#0a0a0a" stroke-width="0.45">0.30</text>
<rect x="311.9" y="527.0" width="50.1" height="20.7" fill="#fff"/>
<text x="362.1" y="547.2" font-size="29" text-anchor="end" font-weight="bold" stroke="#0a0a0a" stroke-width="0.45">0.40</text>
<rect x="355.0" y="542.7" width="50.1" height="20.7" fill="#fff"/>
<text x="405.2" y="562.8" font-size="29" text-anchor="end" font-weight="bold" stroke="#0a0a0a" stroke-width="0.45">0.46</text>
<text x="736.2" y="500.5" font-size="29" text-anchor="start" font-weight="bold" stroke="#0a0a0a" stroke-width="0.45">186</text>
<text x="683.1" y="513.5" font-size="29" text-anchor="start" font-weight="bold" stroke="#0a0a0a" stroke-width="0.45">200</text>
<text x="605.2" y="532.6" font-size="29" text-anchor="start" font-weight="bold" stroke="#0a0a0a" stroke-width="0.45">220</text>
<text x="527.4" y="551.7" font-size="29" text-anchor="start" font-weight="bold" stroke="#0a0a0a" stroke-width="0.45">240</text>
<text x="474.2" y="564.7" font-size="29" text-anchor="start" font-weight="bold" stroke="#0a0a0a" stroke-width="0.45">254</text>
<text x="171.2" y="455.8" font-size="29" text-anchor="end" font-weight="bold" stroke="#0a0a0a" stroke-width="0.45">0</text>
<text x="171.2" y="396.9" font-size="29" text-anchor="end" font-weight="bold" stroke="#0a0a0a" stroke-width="0.45">5</text>
<text x="171.2" y="337.9" font-size="29" text-anchor="end" font-weight="bold" stroke="#0a0a0a" stroke-width="0.45">10</text>
<text x="171.2" y="278.9" font-size="29" text-anchor="end" font-weight="bold" stroke="#0a0a0a" stroke-width="0.45">15</text>
<text x="171.2" y="219.9" font-size="29" text-anchor="end" font-weight="bold" stroke="#0a0a0a" stroke-width="0.45">20</text>
<text x="171.2" y="160.9" font-size="29" text-anchor="end" font-weight="bold" stroke="#0a0a0a" stroke-width="0.45">25</text>
<text x="41.5" y="306.3" font-size="38.5" text-anchor="middle" font-weight="bold" stroke="#0a0a0a" stroke-width="0.45">(a)</text>
<text x="127.5" y="304.6" font-size="26.5" text-anchor="middle" font-weight="bold" stroke="#0a0a0a" stroke-width="0.45" transform="rotate(-90 127.5 304.6)">T</text>
<text x="337.8" y="597.5" font-size="26.5" text-anchor="middle" font-weight="bold" stroke="#0a0a0a" stroke-width="0.45">f</text>
<text x="664.7" y="576.3" font-size="26.5" text-anchor="middle" font-weight="bold" stroke="#0a0a0a" stroke-width="0.45" letter-spacing="1">Vc</text>
<g shape-rendering="geometricPrecision">
<rect x="952.5" y="78.2" width="526" height="476.4" fill="#282e7a"/>
<path d="M952.5 554.6L985.4 554.6L1018.2 554.6L1051.1 554.6L1084 554.6L1116.9 554.6L1149.8 554.6L1182.6 554.6L1215.5 554.6L1248.4 554.6L1281.2 554.6L1314.1 554.6L1347 554.6L1379.9 554.6L1412.8 554.6L1445.6 554.6L1478.5 554.6L1478.5 524.8L1478.5 495.1L1478.5 465.3L1478.5 435.5L1478.5 405.7L1478.5 376L1478.5 346.2L1478.5 316.4L1478.5 286.6L1478.5 256.9L1478.5 227.1L1478.5 197.3L1478.5 167.5L1478.5 137.8L1478.5 108L1478.5 78.2L1445.6 78.2L1412.8 78.2L1379.9 78.2L1347 78.2L1314.1 78.2L1281.2 78.2L1248.4 78.2L1247.6 78.2L1248.4 78.5L1281.2 96.3L1298.9 108L1314.1 120.8L1331.2 137.8L1347 159.2L1352.4 167.5L1362.3 197.3L1361 227.1L1347 250L1338.7 256.9L1314.1 266.5L1281.2 269.1L1248.4 264.3L1224.5 256.9L1215.5 253.4L1182.6 235.3L1170.5 227.1L1149.8 209.3L1137.8 197.3L1116.9 169L1115.9 167.5L1106 137.8L1106.9 108L1116.9 89.6L1128.8 78.2L1116.9 78.2L1084 78.2L1051.1 78.2L1018.2 78.2L985.4 78.2L952.5 78.2L952.5 108L952.5 137.8L952.5 167.5L952.5 197.3L952.5 227.1L952.5 256.9L952.5 286.6L952.5 316.4L952.5 346.2L952.5 376L952.5 405.7L952.5 435.5L952.5 465.3L952.5 495.1L952.5 524.8Z" fill="#2c3593" stroke="#2c3593" stroke-width="0.6" fill-rule="evenodd"/>
<path d="M952.5 554.6L985.4 554.6L1018.2 554.6L1051.1 554.6L1084 554.6L1116.9 554.6L1149.8 554.6L1182.6 554.6L1215.5 554.6L1248.4 554.6L1281.2 554.6L1314.1 554.6L1347 554.6L1379.9 554.6L1412.8 554.6L1445.6 554.6L1478.5 554.6L1478.5 524.8L1478.5 495.1L1478.5 465.3L1478.5 435.5L1478.5 405.7L1478.5 376L1478.5 346.2L1478.5 339.3L1471.7 346.2L1445.6 363.8L1417.2 376L1412.7 377.4L1379.9 383.4L1347 385.1L1314.1 383.1L1281.2 378.1L1272.2 376L1248.4 369.7L1215.5 358.4L1185.4 346.2L1182.6 344.9L1149.8 327.6L1130.7 316.4L1116.9 307.4L1087.7 286.6L1084 283.6L1053.2 256.9L1051.1 254.8L1025.2 227.1L1018.2 218.4L1002.4 197.3L985.4 170.1L983.9 167.5L970.9 137.8L962.2 108L958.7 78.2L952.5 78.2L952.5 108L952.5 137.8L952.5 167.5L952.5 197.3L952.5 227.1L952.5 256.9L952.5 286.6L952.5 316.4L952.5 346.2L952.5 376L952.5 405.7L952.5 435.5L952.5 465.3L952.5 495.1L952.5 524.8ZM1466.5 137.8L1478.5 156.9L1478.5 137.8L1478.5 108L1478.5 78.2L1445.6 78.2L1416 78.2L1444.1 108L1445.6 109.8Z" fill="#3c4cac" stroke="#3c4cac" stroke-width="0.6" fill-rule="evenodd"/>
<path d="M952.5 554.6L985.4 554.6L1018.2 554.6L1051.1 554.6L1084 554.6L1116.9 554.6L1149.8 554.6L1182.6 554.6L1215.5 554.6L1248.4 554.6L1281.2 554.6L1314.1 554.6L1347 554.6L1379.9 554.6L1412.8 554.6L1445.6 554.6L1478.5 554.6L1478.5 524.8L1478.5 495.1L1478.5 465.3L1478.5 445.2L1445.6 453L1412.8 457.1L1379.9 457.9L1347 455.8L1314.1 451.3L1281.2 444.7L1248.4 436.1L1246.5 435.5L1215.5 424.7L1182.6 411.7L1169.4 405.7L1149.8 396.2L1116.9 378.8L1112 376L1084 358.4L1065.8 346.2L1051.1 335.5L1026.6 316.4L1018.2 309.3L993 286.6L985.4 279L964.2 256.9L952.5 243.2L952.5 256.9L952.5 286.6L952.5 316.4L952.5 346.2L952.5 376L952.5 405.7L952.5 435.5L952.5 465.3L952.5 495.1L952.5 524.8Z" fill="#5290d4" stroke="#5290d4" stroke-width="0.6" fill-rule="evenodd"/>
<path d="M952.5 554.6L985.4 554.6L1018.2 554.6L1051.1 554.6L1084 554.6L1116.9 554.6L1149.8 554.6L1182.6 554.6L1215.5 554.6L1248.4 554.6L1281.2 554.6L1314.1 554.6L1347 554.6L1379.9 554.6L1412.8 554.6L1445.6 554.6L1478.5 554.6L1478.5 524.8L1478.5 511.5L1445.6 515L1412.8 515.8L1379.9 514.3L1347 510.6L1314.1 505.1L1281.2 497.9L1271 495.1L1248.4 488.5L1215.5 477.4L1183.5 465.3L1182.6 464.9L1149.8 450L1120.1 435.5L1116.9 433.8L1084 415.2L1068.4 405.7L1051.1 394.6L1023.9 376L1018.2 371.8L985.4 346.4L985 346.2L952.5 317.6L952.5 346.2L952.5 376L952.5 405.7L952.5 435.5L952.5 465.3L952.5 495.1L952.5 524.8Z" fill="#78d0c0" stroke="#78d0c0" stroke-width="0.6" fill-rule="evenodd"/>
<path d="M952.5 554.6L985.4 554.6L1018.2 554.6L1051.1 554.6L1084 554.6L1116.9 554.6L1149.8 554.6L1182.6 554.6L1215.5 554.6L1248.4 554.6L1281.2 554.6L1314.1 554.6L1332.7 554.6L1314.1 551L1281.2 542.9L1248.4 533.5L1221.7 524.8L1215.5 522.7L1182.6 509.9L1149.8 496.1L1147.5 495.1L1116.9 480.1L1088.3 465.3L1084 462.9L1051.1 443.5L1038.2 435.5L1018.2 422.4L994.2 405.7L985.4 399.3L955.1 376L952.5 373.8L952.5 376L952.5 405.7L952.5 435.5L952.5 465.3L952.5 495.1L952.5 524.8Z" fill="#9cd64e" stroke="#9cd64e" stroke-width="0.6" fill-rule="evenodd"/>
<path d="M952.5 554.6L985.4 554.6L1018.2 554.6L1051.1 554.6L1084 554.6L1116.9 554.6L1149.8 554.6L1182.6 554.6L1193.7 554.6L1182.6 550.3L1149.8 536.4L1124.2 524.8L1116.9 521.3L1084 504.5L1066.7 495.1L1051.1 486.2L1018.2 466.5L1016.4 465.3L985.4 444.5L972.4 435.5L952.5 420.8L952.5 435.5L952.5 465.3L952.5 495.1L952.5 524.8Z" fill="#eeee22" stroke="#eeee22" stroke-width="0.6" fill-rule="evenodd"/>
<path d="M952.5 554.6L985.4 554.6L1018.2 554.6L1051.1 554.6L1084 554.6L1108.9 554.6L1084 542.1L1051.3 524.8L1051.1 524.7L1018.2 505.4L1001.4 495.1L985.4 484.8L956.3 465.3L952.5 462.6L952.5 465.3L952.5 495.1L952.5 524.8Z" fill="#f0601c" stroke="#f0601c" stroke-width="0.6" fill-rule="evenodd"/>
<path d="M952.5 554.6L985.4 554.6L1018.2 554.6L1041.8 554.6L1018.2 541.1L990.8 524.8L985.4 521.4L952.5 500.1L952.5 524.8Z" fill="#e02a26" stroke="#e02a26" stroke-width="0.6" fill-rule="evenodd"/>
<path d="M952.5 554.6L984.4 554.6L952.5 534.5Z" fill="#7d1a1e" stroke="#7d1a1e" stroke-width="0.6" fill-rule="evenodd"/>
</g>
<path d="M952.5 78.2H1478.5V554.6" fill="none" stroke="#223" stroke-opacity="0.5" stroke-width="0.9"/>
<path d="M952.5 78.2V554.6H1478.5" fill="none" stroke="#223" stroke-opacity="0.12" stroke-width="0.8"/>
<circle cx="952.5" cy="550.6" r="1" fill="#000" fill-opacity="0.35"/>
<circle cx="952.5" cy="82.2" r="1" fill="#000" fill-opacity="0.35"/>
<circle cx="1064.6" cy="550.6" r="1" fill="#000" fill-opacity="0.35"/>
<circle cx="1064.6" cy="82.2" r="1" fill="#000" fill-opacity="0.35"/>
<circle cx="1228.8" cy="550.6" r="1" fill="#000" fill-opacity="0.35"/>
<circle cx="1228.8" cy="82.2" r="1" fill="#000" fill-opacity="0.35"/>
<circle cx="1393" cy="550.6" r="1" fill="#000" fill-opacity="0.35"/>
<circle cx="1393" cy="82.2" r="1" fill="#000" fill-opacity="0.35"/>
<circle cx="956.5" cy="157.2" r="1" fill="#000" fill-opacity="0.35"/>
<circle cx="1474.5" cy="157.2" r="1" fill="#000" fill-opacity="0.35"/>
<circle cx="956.5" cy="306" r="1" fill="#000" fill-opacity="0.35"/>
<circle cx="1474.5" cy="306" r="1" fill="#000" fill-opacity="0.35"/>
<circle cx="956.5" cy="454.8" r="1" fill="#000" fill-opacity="0.35"/>
<circle cx="1474.5" cy="454.8" r="1" fill="#000" fill-opacity="0.35"/>
<circle cx="956.5" cy="554.6" r="1" fill="#000" fill-opacity="0.35"/>
<circle cx="1474.5" cy="554.6" r="1" fill="#000" fill-opacity="0.35"/>
<g shape-rendering="crispEdges">
<rect x="1499" y="78.50" width="27.5" height="476.30" fill="#831b1f"/>
<rect x="1499" y="85.94" width="27.5" height="468.86" fill="#8f1c20"/>
<rect x="1499" y="93.38" width="27.5" height="461.42" fill="#9a1d21"/>
<rect x="1499" y="100.83" width="27.5" height="453.97" fill="#a61e23"/>
<rect x="1499" y="108.27" width="27.5" height="446.53" fill="#b42024"/>
<rect x="1499" y="115.71" width="27.5" height="439.09" fill="#c32225"/>
<rect x="1499" y="123.15" width="27.5" height="431.65" fill="#d22525"/>
<rect x="1499" y="130.60" width="27.5" height="424.20" fill="#dc2626"/>
<rect x="1499" y="138.04" width="27.5" height="416.76" fill="#e12825"/>
<rect x="1499" y="145.48" width="27.5" height="409.32" fill="#e62925"/>
<rect x="1499" y="152.92" width="27.5" height="401.88" fill="#ea2a24"/>
<rect x="1499" y="160.36" width="27.5" height="394.44" fill="#ed3123"/>
<rect x="1499" y="167.81" width="27.5" height="386.99" fill="#ee3d21"/>
<rect x="1499" y="175.25" width="27.5" height="379.55" fill="#ef491f"/>
<rect x="1499" y="182.69" width="27.5" height="372.11" fill="#f0571e"/>
<rect x="1499" y="190.13" width="27.5" height="364.67" fill="#f1661d"/>
<rect x="1499" y="197.57" width="27.5" height="357.22" fill="#f2761c"/>
<rect x="1499" y="205.02" width="27.5" height="349.78" fill="#f2851c"/>
<rect x="1499" y="212.46" width="27.5" height="342.34" fill="#f2931a"/>
<rect x="1499" y="219.90" width="27.5" height="334.90" fill="#f1a019"/>
<rect x="1499" y="227.34" width="27.5" height="327.46" fill="#f0b41a"/>
<rect x="1499" y="234.79" width="27.5" height="320.01" fill="#efcb1d"/>
<rect x="1499" y="242.23" width="27.5" height="312.57" fill="#efe220"/>
<rect x="1499" y="249.67" width="27.5" height="305.13" fill="#eaed24"/>
<rect x="1499" y="257.11" width="27.5" height="297.69" fill="#e0e927"/>
<rect x="1499" y="264.55" width="27.5" height="290.25" fill="#d7e62a"/>
<rect x="1499" y="272.00" width="27.5" height="282.80" fill="#cee32e"/>
<rect x="1499" y="279.44" width="27.5" height="275.36" fill="#c2e035"/>
<rect x="1499" y="286.88" width="27.5" height="267.92" fill="#b6dd3d"/>
<rect x="1499" y="294.32" width="27.5" height="260.48" fill="#aada45"/>
<rect x="1499" y="301.77" width="27.5" height="253.03" fill="#9fd74c"/>
<rect x="1499" y="309.21" width="27.5" height="245.59" fill="#96d459"/>
<rect x="1499" y="316.65" width="27.5" height="238.15" fill="#8ed266"/>
<rect x="1499" y="324.09" width="27.5" height="230.71" fill="#86cf74"/>
<rect x="1499" y="331.53" width="27.5" height="223.27" fill="#7ecd81"/>
<rect x="1499" y="338.98" width="27.5" height="215.82" fill="#7cce91"/>
<rect x="1499" y="346.42" width="27.5" height="208.38" fill="#7acfa0"/>
<rect x="1499" y="353.86" width="27.5" height="200.94" fill="#78cfb0"/>
<rect x="1499" y="361.30" width="27.5" height="193.50" fill="#76d0bf"/>
<rect x="1499" y="368.75" width="27.5" height="186.05" fill="#72cfcc"/>
<rect x="1499" y="376.19" width="27.5" height="178.61" fill="#6eced8"/>
<rect x="1499" y="383.63" width="27.5" height="171.17" fill="#69cce1"/>
<rect x="1499" y="391.07" width="27.5" height="163.73" fill="#64c9e8"/>
<rect x="1499" y="398.51" width="27.5" height="156.29" fill="#5fc6ee"/>
<rect x="1499" y="405.96" width="27.5" height="148.84" fill="#5ab3e5"/>
<rect x="1499" y="413.40" width="27.5" height="141.40" fill="#569fdb"/>
<rect x="1499" y="420.84" width="27.5" height="133.96" fill="#518ed3"/>
<rect x="1499" y="428.28" width="27.5" height="126.52" fill="#4d83cd"/>
<rect x="1499" y="435.72" width="27.5" height="119.07" fill="#4978c7"/>
<rect x="1499" y="443.17" width="27.5" height="111.63" fill="#466dc1"/>
<rect x="1499" y="450.61" width="27.5" height="104.19" fill="#4364bb"/>
<rect x="1499" y="458.05" width="27.5" height="96.75" fill="#405bb5"/>
<rect x="1499" y="465.49" width="27.5" height="89.31" fill="#3e52af"/>
<rect x="1499" y="472.94" width="27.5" height="81.86" fill="#3b4bab"/>
<rect x="1499" y="480.38" width="27.5" height="74.42" fill="#3948a8"/>
<rect x="1499" y="487.82" width="27.5" height="66.98" fill="#3745a6"/>
<rect x="1499" y="495.26" width="27.5" height="59.54" fill="#3441a3"/>
<rect x="1499" y="502.70" width="27.5" height="52.10" fill="#323ea0"/>
<rect x="1499" y="510.15" width="27.5" height="44.65" fill="#313c9d"/>
<rect x="1499" y="517.59" width="27.5" height="37.21" fill="#2f3999"/>
<rect x="1499" y="525.03" width="27.5" height="29.77" fill="#2d3695"/>
<rect x="1499" y="532.47" width="27.5" height="22.33" fill="#2c3491"/>
<rect x="1499" y="539.92" width="27.5" height="14.88" fill="#2a3187"/>
<rect x="1499" y="547.36" width="27.5" height="7.44" fill="#292e7d"/>
</g>
<rect x="1499" y="78.5" width="27.5" height="476.3" fill="none" stroke="#333" stroke-opacity="0.3" stroke-width="0.8"/>
<circle cx="1504" cy="78.5" r="1" fill="#000" fill-opacity="0.3"/>
<circle cx="1522.5" cy="78.5" r="1" fill="#000" fill-opacity="0.3"/>
<circle cx="1504" cy="135.7" r="1" fill="#000" fill-opacity="0.3"/>
<circle cx="1522.5" cy="135.7" r="1" fill="#000" fill-opacity="0.3"/>
<circle cx="1504" cy="193.2" r="1" fill="#000" fill-opacity="0.3"/>
<circle cx="1522.5" cy="193.2" r="1" fill="#000" fill-opacity="0.3"/>
<circle cx="1504" cy="251" r="1" fill="#000" fill-opacity="0.3"/>
<circle cx="1522.5" cy="251" r="1" fill="#000" fill-opacity="0.3"/>
<circle cx="1504" cy="308.2" r="1" fill="#000" fill-opacity="0.3"/>
<circle cx="1522.5" cy="308.2" r="1" fill="#000" fill-opacity="0.3"/>
<circle cx="1504" cy="365.5" r="1" fill="#000" fill-opacity="0.3"/>
<circle cx="1522.5" cy="365.5" r="1" fill="#000" fill-opacity="0.3"/>
<circle cx="1504" cy="423.2" r="1" fill="#000" fill-opacity="0.3"/>
<circle cx="1522.5" cy="423.2" r="1" fill="#000" fill-opacity="0.3"/>
<circle cx="1504" cy="480.7" r="1" fill="#000" fill-opacity="0.3"/>
<circle cx="1522.5" cy="480.7" r="1" fill="#000" fill-opacity="0.3"/>
<circle cx="1504" cy="537.9" r="1" fill="#000" fill-opacity="0.3"/>
<circle cx="1522.5" cy="537.9" r="1" fill="#000" fill-opacity="0.3"/>
<text x="951.9" y="582.8" font-size="26.5" text-anchor="middle" font-weight="bold" stroke="#0a0a0a" stroke-width="0.45" letter-spacing="0.3">186</text>
<text x="1064" y="582.8" font-size="26.5" text-anchor="middle" font-weight="bold" stroke="#0a0a0a" stroke-width="0.45" letter-spacing="0.3">200</text>
<text x="1228.2" y="582.8" font-size="26.5" text-anchor="middle" font-weight="bold" stroke="#0a0a0a" stroke-width="0.45" letter-spacing="0.3">220</text>
<text x="1392.4" y="582.8" font-size="26.5" text-anchor="middle" font-weight="bold" stroke="#0a0a0a" stroke-width="0.45" letter-spacing="0.3">240</text>
<text x="949" y="166.1" font-size="26.5" text-anchor="end" font-weight="bold" stroke="#0a0a0a" stroke-width="0.45" letter-spacing="0.7">0.40</text>
<text x="949" y="314.9" font-size="26.5" text-anchor="end" font-weight="bold" stroke="#0a0a0a" stroke-width="0.45" letter-spacing="0.7">0.30</text>
<text x="949" y="463.7" font-size="26.5" text-anchor="end" font-weight="bold" stroke="#0a0a0a" stroke-width="0.45" letter-spacing="0.7">0.20</text>
<text x="949" y="563.5" font-size="26.5" text-anchor="end" font-weight="bold" stroke="#0a0a0a" stroke-width="0.45" letter-spacing="0.7">0.13</text>
<text x="1530.1" y="87.5" font-size="26.5" text-anchor="start" font-weight="bold" stroke="#0a0a0a" stroke-width="0.45" letter-spacing="0.2">20</text>
<text x="1530.1" y="144.7" font-size="26.5" text-anchor="start" font-weight="bold" stroke="#0a0a0a" stroke-width="0.45" letter-spacing="0.2">18</text>
<text x="1530.1" y="202.2" font-size="26.5" text-anchor="start" font-weight="bold" stroke="#0a0a0a" stroke-width="0.45" letter-spacing="0.2">16</text>
<text x="1530.1" y="260" font-size="26.5" text-anchor="start" font-weight="bold" stroke="#0a0a0a" stroke-width="0.45" letter-spacing="0.2">14</text>
<text x="1530.1" y="317.2" font-size="26.5" text-anchor="start" font-weight="bold" stroke="#0a0a0a" stroke-width="0.45" letter-spacing="0.2">12</text>
<text x="1530.1" y="374.5" font-size="26.5" text-anchor="start" font-weight="bold" stroke="#0a0a0a" stroke-width="0.45" letter-spacing="0.2">10</text>
<text x="1530.1" y="432.2" font-size="26.5" text-anchor="start" font-weight="bold" stroke="#0a0a0a" stroke-width="0.45" letter-spacing="0.2">8</text>
<text x="1530.1" y="489.7" font-size="26.5" text-anchor="start" font-weight="bold" stroke="#0a0a0a" stroke-width="0.45" letter-spacing="0.2">6</text>
<text x="1530.1" y="546.9" font-size="26.5" text-anchor="start" font-weight="bold" stroke="#0a0a0a" stroke-width="0.45" letter-spacing="0.2">4</text>
<text x="887" y="318.9" font-size="26.5" text-anchor="middle" font-weight="bold" stroke="#0a0a0a" stroke-width="0.45" transform="rotate(-90 887 318.9)">f</text>
<text x="1213.5" y="611.3" font-size="26.5" text-anchor="middle" font-weight="bold" stroke="#0a0a0a" stroke-width="0.45" letter-spacing="1">Vc</text>
<g>
<line x1="449.6" y1="1191.6" x2="791.7" y2="1096.5" stroke="#000" stroke-opacity="0.05" stroke-width="0.7"/>
<line x1="791.7" y1="1096.5" x2="791.7" y2="824.3" stroke="#000" stroke-opacity="0.05" stroke-width="0.7"/>
<line x1="405.8" y1="1170.7" x2="747.9" y2="1075.6" stroke="#000" stroke-opacity="0.05" stroke-width="0.7"/>
<line x1="747.9" y1="1075.6" x2="747.9" y2="803.2" stroke="#000" stroke-opacity="0.05" stroke-width="0.7"/>
<line x1="340.1" y1="1139.5" x2="682.2" y2="1044.4" stroke="#000" stroke-opacity="0.05" stroke-width="0.7"/>
<line x1="682.2" y1="1044.4" x2="682.2" y2="771.6" stroke="#000" stroke-opacity="0.05" stroke-width="0.7"/>
<line x1="274.4" y1="1108.2" x2="616.5" y2="1013.1" stroke="#000" stroke-opacity="0.05" stroke-width="0.7"/>
<line x1="616.5" y1="1013.1" x2="616.5" y2="739.9" stroke="#000" stroke-opacity="0.05" stroke-width="0.7"/>
<line x1="230.6" y1="1087.3" x2="572.7" y2="992.2" stroke="#000" stroke-opacity="0.05" stroke-width="0.7"/>
<line x1="572.7" y1="992.2" x2="572.7" y2="718.8" stroke="#000" stroke-opacity="0.05" stroke-width="0.7"/>
<line x1="235.8" y1="1069.4" x2="498.6" y2="1194.5" stroke="#000" stroke-opacity="0.05" stroke-width="0.7"/>
<line x1="235.8" y1="1069.4" x2="235.8" y2="795.9" stroke="#000" stroke-opacity="0.05" stroke-width="0.7"/>
<line x1="294.2" y1="1053.1" x2="557" y2="1178.2" stroke="#000" stroke-opacity="0.05" stroke-width="0.7"/>
<line x1="294.2" y1="1053.1" x2="294.2" y2="779.6" stroke="#000" stroke-opacity="0.05" stroke-width="0.7"/>
<line x1="379.8" y1="1029.4" x2="642.5" y2="1154.5" stroke="#000" stroke-opacity="0.05" stroke-width="0.7"/>
<line x1="379.8" y1="1029.4" x2="379.8" y2="755.9" stroke="#000" stroke-opacity="0.05" stroke-width="0.7"/>
<line x1="465.3" y1="1005.6" x2="728.1" y2="1130.7" stroke="#000" stroke-opacity="0.05" stroke-width="0.7"/>
<line x1="465.3" y1="1005.6" x2="465.3" y2="732.1" stroke="#000" stroke-opacity="0.05" stroke-width="0.7"/>
<line x1="523.7" y1="989.3" x2="786.5" y2="1114.4" stroke="#000" stroke-opacity="0.05" stroke-width="0.7"/>
<line x1="523.7" y1="989.3" x2="523.7" y2="715.8" stroke="#000" stroke-opacity="0.05" stroke-width="0.7"/>
<line x1="208.7" y1="1076.9" x2="550.8" y2="981.8" stroke="#000" stroke-opacity="0.05" stroke-width="0.7"/>
<line x1="550.8" y1="981.8" x2="813.6" y2="1106.9" stroke="#000" stroke-opacity="0.05" stroke-width="0.7"/>
<line x1="208.7" y1="1008.5" x2="550.8" y2="913.4" stroke="#000" stroke-opacity="0.05" stroke-width="0.7"/>
<line x1="550.8" y1="913.4" x2="813.6" y2="1038.9" stroke="#000" stroke-opacity="0.05" stroke-width="0.7"/>
<line x1="208.7" y1="940.2" x2="550.8" y2="845.1" stroke="#000" stroke-opacity="0.05" stroke-width="0.7"/>
<line x1="550.8" y1="845.1" x2="813.6" y2="970.9" stroke="#000" stroke-opacity="0.05" stroke-width="0.7"/>
<line x1="208.7" y1="871.8" x2="550.8" y2="776.7" stroke="#000" stroke-opacity="0.05" stroke-width="0.7"/>
<line x1="550.8" y1="776.7" x2="813.6" y2="902.8" stroke="#000" stroke-opacity="0.05" stroke-width="0.7"/>
<line x1="208.7" y1="803.4" x2="550.8" y2="708.3" stroke="#000" stroke-opacity="0.05" stroke-width="0.7"/>
<line x1="550.8" y1="708.3" x2="813.6" y2="834.8" stroke="#000" stroke-opacity="0.05" stroke-width="0.7"/>
<line x1="208.7" y1="1076.9" x2="471.5" y2="1202" stroke="#000" stroke-opacity="0.21" stroke-width="0.8"/>
<line x1="471.5" y1="1202" x2="813.6" y2="1106.9" stroke="#000" stroke-opacity="0.21" stroke-width="0.8"/>
<line x1="208.7" y1="1076.9" x2="208.7" y2="803.4" stroke="#000" stroke-opacity="0.21" stroke-width="0.8"/>
<line x1="208.7" y1="803.4" x2="550.8" y2="708.3" stroke="#000" stroke-opacity="0.168" stroke-width="0.8"/>
<line x1="550.8" y1="708.3" x2="813.6" y2="834.8" stroke="#000" stroke-opacity="0.168" stroke-width="0.8"/>
<line x1="813.6" y1="1106.9" x2="813.6" y2="834.8" stroke="#000" stroke-opacity="0.105" stroke-width="0.8"/>
<line x1="550.8" y1="981.8" x2="550.8" y2="708.3" stroke="#000" stroke-opacity="0.06999999999999999" stroke-width="0.8"/>
<line x1="208.7" y1="1076.9" x2="550.8" y2="981.8" stroke="#000" stroke-opacity="0.06999999999999999" stroke-width="0.8"/>
<line x1="550.8" y1="981.8" x2="813.6" y2="1106.9" stroke="#000" stroke-opacity="0.06999999999999999" stroke-width="0.8"/>
</g>
<polyline points="471.7,1181.7 486.1,1175.6 501.0,1169.8 516.3,1164.2 526.2,1161.0 532.4,1159.0 549.3,1154.1 565.3,1150.1 567.1,1149.7 586.3,1145.9 607.2,1143.0 630.5,1141.2 633.4,1141.1" fill="none" stroke="#2c3492" stroke-opacity="0.16" stroke-width="0.8" stroke-dasharray="1 2"/>
<g fill="#2c3492" fill-opacity="0.42">
<circle cx="471.7" cy="1181.7" r="1.05"/>
<circle cx="486.1" cy="1175.6" r="1.05"/>
<circle cx="501.0" cy="1169.8" r="1.05"/>
<circle cx="516.3" cy="1164.2" r="1.05"/>
<circle cx="526.2" cy="1161.0" r="1.05"/>
<circle cx="532.4" cy="1159.0" r="1.05"/>
<circle cx="549.3" cy="1154.1" r="1.05"/>
<circle cx="565.3" cy="1150.1" r="1.05"/>
<circle cx="567.1" cy="1149.7" r="1.05"/>
<circle cx="586.3" cy="1145.9" r="1.05"/>
<circle cx="607.2" cy="1143.0" r="1.05"/>
<circle cx="630.5" cy="1141.2" r="1.05"/>
<circle cx="633.4" cy="1141.1" r="1.05"/>
</g>
<polyline points="440.4,1166.8 447.4,1163.1 453.2,1160.0 466.3,1153.3 479.6,1146.8 492.9,1140.5 493.3,1140.4 507.4,1134.2 522.0,1128.2 537.2,1122.6 553.1,1117.3 570.0,1112.4 588.2,1108.2 608.1,1104.7 629.6,1102.5 630.5,1102.5 657.2,1102.3 664.5,1102.7 689.8,1105.6 692.0,1106.0 710.5,1109.8 728.7,1114.6" fill="none" stroke="#3b4bab" stroke-opacity="0.16" stroke-width="0.8" stroke-dasharray="1 2"/>
<g fill="#3b4bab" fill-opacity="0.42">
<circle cx="440.4" cy="1166.8" r="1.05"/>
<circle cx="447.4" cy="1163.1" r="1.05"/>
<circle cx="453.2" cy="1160.0" r="1.05"/>
<circle cx="466.3" cy="1153.3" r="1.05"/>
<circle cx="479.6" cy="1146.8" r="1.05"/>
<circle cx="492.9" cy="1140.5" r="1.05"/>
<circle cx="493.3" cy="1140.4" r="1.05"/>
<circle cx="507.4" cy="1134.2" r="1.05"/>
<circle cx="522.0" cy="1128.2" r="1.05"/>
<circle cx="537.2" cy="1122.6" r="1.05"/>
<circle cx="553.1" cy="1117.3" r="1.05"/>
<circle cx="570.0" cy="1112.4" r="1.05"/>
<circle cx="588.2" cy="1108.2" r="1.05"/>
<circle cx="608.1" cy="1104.7" r="1.05"/>
<circle cx="629.6" cy="1102.5" r="1.05"/>
<circle cx="630.5" cy="1102.5" r="1.05"/>
<circle cx="657.2" cy="1102.3" r="1.05"/>
<circle cx="664.5" cy="1102.7" r="1.05"/>
<circle cx="689.8" cy="1105.6" r="1.05"/>
<circle cx="692.0" cy="1106.0" r="1.05"/>
<circle cx="710.5" cy="1109.8" r="1.05"/>
<circle cx="728.7" cy="1114.6" r="1.05"/>
</g>
<polyline points="410.9,1152.7 422.4,1145.3 433.9,1137.9 436.2,1136.5 445.6,1130.6 457.5,1123.3 465.8,1118.3 469.5,1116.1 481.7,1109.0 494.1,1102.1 500.0,1099.0 506.8,1095.2 519.9,1088.5 533.3,1082.0 546.6,1076.1 547.3,1075.8 561.9,1069.9 577.5,1064.4 594.2,1059.4 612.8,1055.4 629.1,1053.1 634.1,1052.6" fill="none" stroke="#57a3dd" stroke-opacity="0.16" stroke-width="0.8" stroke-dasharray="1 2"/>
<g fill="#57a3dd" fill-opacity="0.42">
<circle cx="410.9" cy="1152.7" r="1.05"/>
<circle cx="422.4" cy="1145.3" r="1.05"/>
<circle cx="433.9" cy="1137.9" r="1.05"/>
<circle cx="436.2" cy="1136.5" r="1.05"/>
<circle cx="445.6" cy="1130.6" r="1.05"/>
<circle cx="457.5" cy="1123.3" r="1.05"/>
<circle cx="465.8" cy="1118.3" r="1.05"/>
<circle cx="469.5" cy="1116.1" r="1.05"/>
<circle cx="481.7" cy="1109.0" r="1.05"/>
<circle cx="494.1" cy="1102.1" r="1.05"/>
<circle cx="500.0" cy="1099.0" r="1.05"/>
<circle cx="506.8" cy="1095.2" r="1.05"/>
<circle cx="519.9" cy="1088.5" r="1.05"/>
<circle cx="533.3" cy="1082.0" r="1.05"/>
<circle cx="546.6" cy="1076.1" r="1.05"/>
<circle cx="547.3" cy="1075.8" r="1.05"/>
<circle cx="561.9" cy="1069.9" r="1.05"/>
<circle cx="577.5" cy="1064.4" r="1.05"/>
<circle cx="594.2" cy="1059.4" r="1.05"/>
<circle cx="612.8" cy="1055.4" r="1.05"/>
<circle cx="629.1" cy="1053.1" r="1.05"/>
<circle cx="634.1" cy="1052.6" r="1.05"/>
</g>
<polyline points="382.9,1139.4 393.2,1131.4 398.9,1127.0 403.5,1123.4 413.8,1115.4 418.9,1111.6 424.2,1107.5 434.5,1099.5 439.1,1096.1 444.9,1091.5 455.3,1083.6 459.4,1080.5 465.7,1075.6 476.1,1067.7 479.9,1064.9 486.6,1059.8 497.0,1051.8 500.6,1049.2 507.6,1044.0 518.1,1036.1 521.8,1033.4 528.7,1028.3 539.4,1020.4 543.8,1017.4 550.2,1012.7" fill="none" stroke="#78cfac" stroke-opacity="0.16" stroke-width="0.8" stroke-dasharray="1 2"/>
<g fill="#78cfac" fill-opacity="0.42">
<circle cx="382.9" cy="1139.4" r="1.05"/>
<circle cx="393.2" cy="1131.4" r="1.05"/>
<circle cx="398.9" cy="1127.0" r="1.05"/>
<circle cx="403.5" cy="1123.4" r="1.05"/>
<circle cx="413.8" cy="1115.4" r="1.05"/>
<circle cx="418.9" cy="1111.6" r="1.05"/>
<circle cx="424.2" cy="1107.5" r="1.05"/>
<circle cx="434.5" cy="1099.5" r="1.05"/>
<circle cx="439.1" cy="1096.1" r="1.05"/>
<circle cx="444.9" cy="1091.5" r="1.05"/>
<circle cx="455.3" cy="1083.6" r="1.05"/>
<circle cx="459.4" cy="1080.5" r="1.05"/>
<circle cx="465.7" cy="1075.6" r="1.05"/>
<circle cx="476.1" cy="1067.7" r="1.05"/>
<circle cx="479.9" cy="1064.9" r="1.05"/>
<circle cx="486.6" cy="1059.8" r="1.05"/>
<circle cx="497.0" cy="1051.8" r="1.05"/>
<circle cx="500.6" cy="1049.2" r="1.05"/>
<circle cx="507.6" cy="1044.0" r="1.05"/>
<circle cx="518.1" cy="1036.1" r="1.05"/>
<circle cx="521.8" cy="1033.4" r="1.05"/>
<circle cx="528.7" cy="1028.3" r="1.05"/>
<circle cx="539.4" cy="1020.4" r="1.05"/>
<circle cx="543.8" cy="1017.4" r="1.05"/>
<circle cx="550.2" cy="1012.7" r="1.05"/>
</g>
<polyline points="356.1,1126.6 365.4,1118.2 368.1,1115.8 374.7,1109.7 383.3,1101.7 383.8,1101.2 393.0,1092.6 398.3,1087.6 401.9,1084.0 410.8,1075.3 412.5,1073.7 419.6,1066.6 426.2,1060.0 428.2,1057.8 436.7,1048.9 439.1,1046.5 445.1,1040.0 451.2,1033.2" fill="none" stroke="#aedb42" stroke-opacity="0.16" stroke-width="0.8" stroke-dasharray="1 2"/>
<g fill="#aedb42" fill-opacity="0.42">
<circle cx="356.1" cy="1126.6" r="1.05"/>
<circle cx="365.4" cy="1118.2" r="1.05"/>
<circle cx="368.1" cy="1115.8" r="1.05"/>
<circle cx="374.7" cy="1109.7" r="1.05"/>
<circle cx="383.3" cy="1101.7" r="1.05"/>
<circle cx="383.8" cy="1101.2" r="1.05"/>
<circle cx="393.0" cy="1092.6" r="1.05"/>
<circle cx="398.3" cy="1087.6" r="1.05"/>
<circle cx="401.9" cy="1084.0" r="1.05"/>
<circle cx="410.8" cy="1075.3" r="1.05"/>
<circle cx="412.5" cy="1073.7" r="1.05"/>
<circle cx="419.6" cy="1066.6" r="1.05"/>
<circle cx="426.2" cy="1060.0" r="1.05"/>
<circle cx="428.2" cy="1057.8" r="1.05"/>
<circle cx="436.7" cy="1048.9" r="1.05"/>
<circle cx="439.1" cy="1046.5" r="1.05"/>
<circle cx="445.1" cy="1040.0" r="1.05"/>
<circle cx="451.2" cy="1033.2" r="1.05"/>
</g>
<polyline points="330.4,1114.4 338.9,1105.6 340.8,1103.6 347.2,1096.6 353.1,1090.2 355.4,1087.6 363.4,1078.5 364.7,1077.1 371.3,1069.4 375.8,1064.1 379.0,1060.2 386.0,1051.4" fill="none" stroke="#f0c41c" stroke-opacity="0.16" stroke-width="0.8" stroke-dasharray="1 2"/>
<g fill="#f0c41c" fill-opacity="0.42">
<circle cx="330.4" cy="1114.4" r="1.05"/>
<circle cx="338.9" cy="1105.6" r="1.05"/>
<circle cx="340.8" cy="1103.6" r="1.05"/>
<circle cx="347.2" cy="1096.6" r="1.05"/>
<circle cx="353.1" cy="1090.2" r="1.05"/>
<circle cx="355.4" cy="1087.6" r="1.05"/>
<circle cx="363.4" cy="1078.5" r="1.05"/>
<circle cx="364.7" cy="1077.1" r="1.05"/>
<circle cx="371.3" cy="1069.4" r="1.05"/>
<circle cx="375.8" cy="1064.1" r="1.05"/>
<circle cx="379.0" cy="1060.2" r="1.05"/>
<circle cx="386.0" cy="1051.4" r="1.05"/>
</g>
<polyline points="305.8,1102.7 313.4,1093.4 315.7,1090.7 321.0,1084.1 325.8,1078.0 328.3,1074.7 335.2,1065.5" fill="none" stroke="#ef4520" stroke-opacity="0.16" stroke-width="0.8" stroke-dasharray="1 2"/>
<g fill="#ef4520" fill-opacity="0.42">
<circle cx="305.8" cy="1102.7" r="1.05"/>
<circle cx="313.4" cy="1093.4" r="1.05"/>
<circle cx="315.7" cy="1090.7" r="1.05"/>
<circle cx="321.0" cy="1084.1" r="1.05"/>
<circle cx="325.8" cy="1078.0" r="1.05"/>
<circle cx="328.3" cy="1074.7" r="1.05"/>
<circle cx="335.2" cy="1065.5" r="1.05"/>
</g>
<polyline points="282.0,1091.4 283.1,1089.9 289.0,1081.8 292.1,1077.5" fill="none" stroke="#bd2124" stroke-opacity="0.16" stroke-width="0.8" stroke-dasharray="1 2"/>
<g fill="#bd2124" fill-opacity="0.42">
<circle cx="282.0" cy="1091.4" r="1.05"/>
<circle cx="283.1" cy="1089.9" r="1.05"/>
<circle cx="289.0" cy="1081.8" r="1.05"/>
<circle cx="292.1" cy="1077.5" r="1.05"/>
</g>
<g stroke-linejoin="round">
<polygon points="537.0,909.0 554.1,906.8 541.0,895.3 523.9,896.8" fill="#7acfa0" stroke="#7acfa0" stroke-width="0.7"/>
<polygon points="550.1,920.9 567.3,918.1 554.1,906.8 537.0,909.0" fill="#76d0bf" stroke="#76d0bf" stroke-width="0.7"/>
<polygon points="519.9,910.5 537.0,909.0 523.9,896.8 506.8,897.7" fill="#7acfa0" stroke="#7acfa0" stroke-width="0.7"/>
<polygon points="563.3,932.5 580.4,929.0 567.3,918.1 550.1,920.9" fill="#6eced8" stroke="#6eced8" stroke-width="0.7"/>
<polygon points="533.0,923.1 550.1,920.9 537.0,909.0 519.9,910.5" fill="#78cfb0" stroke="#78cfb0" stroke-width="0.7"/>
<polygon points="502.8,911.5 519.9,910.5 506.8,897.7 489.7,898.0" fill="#7ecd81" stroke="#7ecd81" stroke-width="0.7"/>
<polygon points="576.4,943.8 593.5,939.7 580.4,929.0 563.3,932.5" fill="#69cce1" stroke="#69cce1" stroke-width="0.7"/>
<polygon points="546.2,935.3 563.3,932.5 550.1,920.9 533.0,923.1" fill="#72cfcc" stroke="#72cfcc" stroke-width="0.7"/>
<polygon points="515.9,924.7 533.0,923.1 519.9,910.5 502.8,911.5" fill="#7acfa0" stroke="#7acfa0" stroke-width="0.7"/>
<polygon points="485.7,911.9 502.8,911.5 489.7,898.0 472.6,897.8" fill="#86cf74" stroke="#86cf74" stroke-width="0.7"/>
<polygon points="589.6,954.8 606.7,950.1 593.5,939.7 576.4,943.8" fill="#5fc6ee" stroke="#5fc6ee" stroke-width="0.7"/>
<polygon points="559.3,947.3 576.4,943.8 563.3,932.5 546.2,935.3" fill="#69cce1" stroke="#69cce1" stroke-width="0.7"/>
<polygon points="529.1,937.6 546.2,935.3 533.0,923.1 515.9,924.7" fill="#76d0bf" stroke="#76d0bf" stroke-width="0.7"/>
<polygon points="498.8,925.7 515.9,924.7 502.8,911.5 485.7,911.9" fill="#7cce91" stroke="#7cce91" stroke-width="0.7"/>
<polygon points="468.6,911.7 485.7,911.9 472.6,897.8 455.4,896.9" fill="#8ed266" stroke="#8ed266" stroke-width="0.7"/>
<polygon points="602.7,965.5 619.8,960.1 606.7,950.1 589.6,954.8" fill="#5ab3e5" stroke="#5ab3e5" stroke-width="0.7"/>
<polygon points="572.5,958.9 589.6,954.8 576.4,943.8 559.3,947.3" fill="#64c9e8" stroke="#64c9e8" stroke-width="0.7"/>
<polygon points="542.2,950.2 559.3,947.3 546.2,935.3 529.1,937.6" fill="#6eced8" stroke="#6eced8" stroke-width="0.7"/>
<polygon points="512.0,939.3 529.1,937.6 515.9,924.7 498.8,925.7" fill="#78cfb0" stroke="#78cfb0" stroke-width="0.7"/>
<polygon points="481.7,926.2 498.8,925.7 485.7,911.9 468.6,911.7" fill="#7ecd81" stroke="#7ecd81" stroke-width="0.7"/>
<polygon points="451.5,910.9 468.6,911.7 455.4,896.9 438.3,895.5" fill="#9fd74c" stroke="#9fd74c" stroke-width="0.7"/>
<polygon points="615.8,976.0 633.0,969.9 619.8,960.1 602.7,965.5" fill="#569fdb" stroke="#569fdb" stroke-width="0.7"/>
<polygon points="585.6,970.3 602.7,965.5 589.6,954.8 572.5,958.9" fill="#5ab3e5" stroke="#5ab3e5" stroke-width="0.7"/>
<polygon points="555.4,962.5 572.5,958.9 559.3,947.3 542.2,950.2" fill="#64c9e8" stroke="#64c9e8" stroke-width="0.7"/>
<polygon points="525.1,952.5 542.2,950.2 529.1,937.6 512.0,939.3" fill="#6eced8" stroke="#6eced8" stroke-width="0.7"/>
<polygon points="494.9,940.3 512.0,939.3 498.8,925.7 481.7,926.2" fill="#7acfa0" stroke="#7acfa0" stroke-width="0.7"/>
<polygon points="464.6,926.0 481.7,926.2 468.6,911.7 451.5,910.9" fill="#86cf74" stroke="#86cf74" stroke-width="0.7"/>
<polygon points="434.4,909.5 451.5,910.9 438.3,895.5 421.2,893.4" fill="#b6dd3d" stroke="#b6dd3d" stroke-width="0.7"/>
<polygon points="629.0,986.1 646.1,979.4 633.0,969.9 615.8,976.0" fill="#518ed3" stroke="#518ed3" stroke-width="0.7"/>
<polygon points="598.7,981.4 615.8,976.0 602.7,965.5 585.6,970.3" fill="#569fdb" stroke="#569fdb" stroke-width="0.7"/>
<polygon points="568.5,974.5 585.6,970.3 572.5,958.9 555.4,962.5" fill="#5ab3e5" stroke="#5ab3e5" stroke-width="0.7"/>
<polygon points="538.3,965.4 555.4,962.5 542.2,950.2 525.1,952.5" fill="#69cce1" stroke="#69cce1" stroke-width="0.7"/>
<polygon points="508.0,954.2 525.1,952.5 512.0,939.3 494.9,940.3" fill="#72cfcc" stroke="#72cfcc" stroke-width="0.7"/>
<polygon points="477.8,940.8 494.9,940.3 481.7,926.2 464.6,926.0" fill="#7cce91" stroke="#7cce91" stroke-width="0.7"/>
<polygon points="447.5,925.3 464.6,926.0 451.5,910.9 434.4,909.5" fill="#96d459" stroke="#96d459" stroke-width="0.7"/>
<polygon points="417.3,907.5 434.4,909.5 421.2,893.4 404.1,890.8" fill="#cee32e" stroke="#cee32e" stroke-width="0.7"/>
<polygon points="642.1,995.9 659.2,988.6 646.1,979.4 629.0,986.1" fill="#4d83cd" stroke="#4d83cd" stroke-width="0.7"/>
<polygon points="611.9,992.1 629.0,986.1 615.8,976.0 598.7,981.4" fill="#4d83cd" stroke="#4d83cd" stroke-width="0.7"/>
<polygon points="581.6,986.2 598.7,981.4 585.6,970.3 568.5,974.5" fill="#569fdb" stroke="#569fdb" stroke-width="0.7"/>
<polygon points="551.4,978.1 568.5,974.5 555.4,962.5 538.3,965.4" fill="#5fc6ee" stroke="#5fc6ee" stroke-width="0.7"/>
<polygon points="521.1,967.8 538.3,965.4 525.1,952.5 508.0,954.2" fill="#69cce1" stroke="#69cce1" stroke-width="0.7"/>
<polygon points="490.9,955.3 508.0,954.2 494.9,940.3 477.8,940.8" fill="#76d0bf" stroke="#76d0bf" stroke-width="0.7"/>
<polygon points="460.7,940.7 477.8,940.8 464.6,926.0 447.5,925.3" fill="#7ecd81" stroke="#7ecd81" stroke-width="0.7"/>
<polygon points="430.4,923.9 447.5,925.3 434.4,909.5 417.3,907.5" fill="#aada45" stroke="#aada45" stroke-width="0.7"/>
<polygon points="400.2,904.9 417.3,907.5 404.1,890.8 387.0,887.6" fill="#e0e927" stroke="#e0e927" stroke-width="0.7"/>
<polygon points="655.3,1005.5 672.4,997.5 659.2,988.6 642.1,995.9" fill="#4978c7" stroke="#4978c7" stroke-width="0.7"/>
<polygon points="625.0,1002.6 642.1,995.9 629.0,986.1 611.9,992.1" fill="#4978c7" stroke="#4978c7" stroke-width="0.7"/>
<polygon points="594.8,997.6 611.9,992.1 598.7,981.4 581.6,986.2" fill="#4d83cd" stroke="#4d83cd" stroke-width="0.7"/>
<polygon points="564.5,990.4 581.6,986.2 568.5,974.5 551.4,978.1" fill="#569fdb" stroke="#569fdb" stroke-width="0.7"/>
<polygon points="534.3,981.1 551.4,978.1 538.3,965.4 521.1,967.8" fill="#5fc6ee" stroke="#5fc6ee" stroke-width="0.7"/>
<polygon points="504.0,969.6 521.1,967.8 508.0,954.2 490.9,955.3" fill="#6eced8" stroke="#6eced8" stroke-width="0.7"/>
<polygon points="473.8,955.9 490.9,955.3 477.8,940.8 460.7,940.7" fill="#7acfa0" stroke="#7acfa0" stroke-width="0.7"/>
<polygon points="443.6,940.0 460.7,940.7 447.5,925.3 430.4,923.9" fill="#8ed266" stroke="#8ed266" stroke-width="0.7"/>
<polygon points="413.3,922.0 430.4,923.9 417.3,907.5 400.2,904.9" fill="#c2e035" stroke="#c2e035" stroke-width="0.7"/>
<polygon points="383.1,901.8 400.2,904.9 387.0,887.6 369.9,883.8" fill="#efe220" stroke="#efe220" stroke-width="0.7"/>
<polygon points="668.4,1014.7 685.5,1006.2 672.4,997.5 655.3,1005.5" fill="#466dc1" stroke="#466dc1" stroke-width="0.7"/>
<polygon points="638.2,1012.8 655.3,1005.5 642.1,995.9 625.0,1002.6" fill="#466dc1" stroke="#466dc1" stroke-width="0.7"/>
<polygon points="607.9,1008.7 625.0,1002.6 611.9,992.1 594.8,997.6" fill="#4978c7" stroke="#4978c7" stroke-width="0.7"/>
<polygon points="577.7,1002.5 594.8,997.6 581.6,986.2 564.5,990.4" fill="#4d83cd" stroke="#4d83cd" stroke-width="0.7"/>
<polygon points="547.4,994.1 564.5,990.4 551.4,978.1 534.3,981.1" fill="#569fdb" stroke="#569fdb" stroke-width="0.7"/>
<polygon points="517.2,983.5 534.3,981.1 521.1,967.8 504.0,969.6" fill="#64c9e8" stroke="#64c9e8" stroke-width="0.7"/>
<polygon points="486.9,970.7 504.0,969.6 490.9,955.3 473.8,955.9" fill="#72cfcc" stroke="#72cfcc" stroke-width="0.7"/>
<polygon points="456.7,955.8 473.8,955.9 460.7,940.7 443.6,940.0" fill="#7cce91" stroke="#7cce91" stroke-width="0.7"/>
<polygon points="426.4,938.7 443.6,940.0 430.4,923.9 413.3,922.0" fill="#9fd74c" stroke="#9fd74c" stroke-width="0.7"/>
<polygon points="396.2,919.4 413.3,922.0 400.2,904.9 383.1,901.8" fill="#d7e62a" stroke="#d7e62a" stroke-width="0.7"/>
<polygon points="366.0,898.0 383.1,901.8 369.9,883.8 352.8,879.4" fill="#f1a019" stroke="#f1a019" stroke-width="0.7"/>
<polygon points="681.5,1023.7 698.7,1014.5 685.5,1006.2 668.4,1014.7" fill="#4364bb" stroke="#4364bb" stroke-width="0.7"/>
<polygon points="651.3,1022.7 668.4,1014.7 655.3,1005.5 638.2,1012.8" fill="#4364bb" stroke="#4364bb" stroke-width="0.7"/>
<polygon points="621.1,1019.6 638.2,1012.8 625.0,1002.6 607.9,1008.7" fill="#4364bb" stroke="#4364bb" stroke-width="0.7"/>
<polygon points="590.8,1014.3 607.9,1008.7 594.8,997.6 577.7,1002.5" fill="#4978c7" stroke="#4978c7" stroke-width="0.7"/>
<polygon points="560.6,1006.8 577.7,1002.5 564.5,990.4 547.4,994.1" fill="#4d83cd" stroke="#4d83cd" stroke-width="0.7"/>
<polygon points="530.3,997.1 547.4,994.1 534.3,981.1 517.2,983.5" fill="#5ab3e5" stroke="#5ab3e5" stroke-width="0.7"/>
<polygon points="500.1,985.3 517.2,983.5 504.0,969.6 486.9,970.7" fill="#69cce1" stroke="#69cce1" stroke-width="0.7"/>
<polygon points="469.8,971.3 486.9,970.7 473.8,955.9 456.7,955.8" fill="#76d0bf" stroke="#76d0bf" stroke-width="0.7"/>
<polygon points="439.6,955.2 456.7,955.8 443.6,940.0 426.4,938.7" fill="#86cf74" stroke="#86cf74" stroke-width="0.7"/>
<polygon points="409.3,936.8 426.4,938.7 413.3,922.0 396.2,919.4" fill="#b6dd3d" stroke="#b6dd3d" stroke-width="0.7"/>
<polygon points="379.1,916.3 396.2,919.4 383.1,901.8 366.0,898.0" fill="#eaed24" stroke="#eaed24" stroke-width="0.7"/>
<polygon points="348.9,893.6 366.0,898.0 352.8,879.4 335.7,874.3" fill="#f2851c" stroke="#f2851c" stroke-width="0.7"/>
<polygon points="694.7,1032.4 711.8,1022.5 698.7,1014.5 681.5,1023.7" fill="#405bb5" stroke="#405bb5" stroke-width="0.7"/>
<polygon points="664.4,1032.3 681.5,1023.7 668.4,1014.7 651.3,1022.7" fill="#405bb5" stroke="#405bb5" stroke-width="0.7"/>
<polygon points="634.2,1030.1 651.3,1022.7 638.2,1012.8 621.1,1019.6" fill="#405bb5" stroke="#405bb5" stroke-width="0.7"/>
<polygon points="604.0,1025.7 621.1,1019.6 607.9,1008.7 590.8,1014.3" fill="#4364bb" stroke="#4364bb" stroke-width="0.7"/>
<polygon points="573.7,1019.2 590.8,1014.3 577.7,1002.5 560.6,1006.8" fill="#466dc1" stroke="#466dc1" stroke-width="0.7"/>
<polygon points="543.5,1010.5 560.6,1006.8 547.4,994.1 530.3,997.1" fill="#518ed3" stroke="#518ed3" stroke-width="0.7"/>
<polygon points="513.2,999.6 530.3,997.1 517.2,983.5 500.1,985.3" fill="#5ab3e5" stroke="#5ab3e5" stroke-width="0.7"/>
<polygon points="483.0,986.5 500.1,985.3 486.9,970.7 469.8,971.3" fill="#6eced8" stroke="#6eced8" stroke-width="0.7"/>
<polygon points="452.7,971.3 469.8,971.3 456.7,955.8 439.6,955.2" fill="#7acfa0" stroke="#7acfa0" stroke-width="0.7"/>
<polygon points="422.5,953.9 439.6,955.2 426.4,938.7 409.3,936.8" fill="#8ed266" stroke="#8ed266" stroke-width="0.7"/>
<polygon points="392.2,934.3 409.3,936.8 396.2,919.4 379.1,916.3" fill="#cee32e" stroke="#cee32e" stroke-width="0.7"/>
<polygon points="362.0,912.6 379.1,916.3 366.0,898.0 348.9,893.6" fill="#f0b41a" stroke="#f0b41a" stroke-width="0.7"/>
<polygon points="331.7,888.7 348.9,893.6 335.7,874.3 318.6,868.7" fill="#f0571e" stroke="#f0571e" stroke-width="0.7"/>
<polygon points="707.8,1040.8 724.9,1030.3 711.8,1022.5 694.7,1032.4" fill="#405bb5" stroke="#405bb5" stroke-width="0.7"/>
<polygon points="677.6,1041.6 694.7,1032.4 681.5,1023.7 664.4,1032.3" fill="#3e52af" stroke="#3e52af" stroke-width="0.7"/>
<polygon points="647.3,1040.4 664.4,1032.3 651.3,1022.7 634.2,1030.1" fill="#3e52af" stroke="#3e52af" stroke-width="0.7"/>
<polygon points="617.1,1036.9 634.2,1030.1 621.1,1019.6 604.0,1025.7" fill="#405bb5" stroke="#405bb5" stroke-width="0.7"/>
<polygon points="586.8,1031.3 604.0,1025.7 590.8,1014.3 573.7,1019.2" fill="#4364bb" stroke="#4364bb" stroke-width="0.7"/>
<polygon points="556.6,1023.5 573.7,1019.2 560.6,1006.8 543.5,1010.5" fill="#4978c7" stroke="#4978c7" stroke-width="0.7"/>
<polygon points="526.4,1013.6 543.5,1010.5 530.3,997.1 513.2,999.6" fill="#518ed3" stroke="#518ed3" stroke-width="0.7"/>
<polygon points="496.1,1001.5 513.2,999.6 500.1,985.3 483.0,986.5" fill="#5fc6ee" stroke="#5fc6ee" stroke-width="0.7"/>
<polygon points="465.9,987.2 483.0,986.5 469.8,971.3 452.7,971.3" fill="#72cfcc" stroke="#72cfcc" stroke-width="0.7"/>
<polygon points="435.6,970.7 452.7,971.3 439.6,955.2 422.5,953.9" fill="#7cce91" stroke="#7cce91" stroke-width="0.7"/>
<polygon points="405.4,952.1 422.5,953.9 409.3,936.8 392.2,934.3" fill="#9fd74c" stroke="#9fd74c" stroke-width="0.7"/>
<polygon points="375.1,931.3 392.2,934.3 379.1,916.3 362.0,912.6" fill="#e0e927" stroke="#e0e927" stroke-width="0.7"/>
<polygon points="344.9,908.3 362.0,912.6 348.9,893.6 331.7,888.7" fill="#f2931a" stroke="#f2931a" stroke-width="0.7"/>
<polygon points="314.6,883.1 331.7,888.7 318.6,868.7 301.5,862.5" fill="#ed3123" stroke="#ed3123" stroke-width="0.7"/>
<polygon points="721.0,1048.9 738.1,1037.7 724.9,1030.3 707.8,1040.8" fill="#3e52af" stroke="#3e52af" stroke-width="0.7"/>
<polygon points="690.7,1050.7 707.8,1040.8 694.7,1032.4 677.6,1041.6" fill="#3b4bab" stroke="#3b4bab" stroke-width="0.7"/>
<polygon points="660.5,1050.3 677.6,1041.6 664.4,1032.3 647.3,1040.4" fill="#3b4bab" stroke="#3b4bab" stroke-width="0.7"/>
<polygon points="630.2,1047.8 647.3,1040.4 634.2,1030.1 617.1,1036.9" fill="#3b4bab" stroke="#3b4bab" stroke-width="0.7"/>
<polygon points="600.0,1043.1 617.1,1036.9 604.0,1025.7 586.8,1031.3" fill="#3e52af" stroke="#3e52af" stroke-width="0.7"/>
<polygon points="569.7,1036.3 586.8,1031.3 573.7,1019.2 556.6,1023.5" fill="#4364bb" stroke="#4364bb" stroke-width="0.7"/>
<polygon points="539.5,1027.3 556.6,1023.5 543.5,1010.5 526.4,1013.6" fill="#4978c7" stroke="#4978c7" stroke-width="0.7"/>
<polygon points="509.3,1016.1 526.4,1013.6 513.2,999.6 496.1,1001.5" fill="#569fdb" stroke="#569fdb" stroke-width="0.7"/>
<polygon points="479.0,1002.7 496.1,1001.5 483.0,986.5 465.9,987.2" fill="#64c9e8" stroke="#64c9e8" stroke-width="0.7"/>
<polygon points="448.8,987.2 465.9,987.2 452.7,971.3 435.6,970.7" fill="#76d0bf" stroke="#76d0bf" stroke-width="0.7"/>
<polygon points="418.5,969.5 435.6,970.7 422.5,953.9 405.4,952.1" fill="#86cf74" stroke="#86cf74" stroke-width="0.7"/>
<polygon points="388.3,949.6 405.4,952.1 392.2,934.3 375.1,931.3" fill="#c2e035" stroke="#c2e035" stroke-width="0.7"/>
<polygon points="358.0,927.6 375.1,931.3 362.0,912.6 344.9,908.3" fill="#efcb1d" stroke="#efcb1d" stroke-width="0.7"/>
<polygon points="327.8,903.4 344.9,908.3 331.7,888.7 314.6,883.1" fill="#f1661d" stroke="#f1661d" stroke-width="0.7"/>
<polygon points="297.5,877.0 314.6,883.1 301.5,862.5 284.4,855.8" fill="#dc2626" stroke="#dc2626" stroke-width="0.7"/>
<polygon points="734.1,1056.7 751.2,1044.9 738.1,1037.7 721.0,1048.9" fill="#3e52af" stroke="#3e52af" stroke-width="0.7"/>
<polygon points="703.9,1059.4 721.0,1048.9 707.8,1040.8 690.7,1050.7" fill="#3948a8" stroke="#3948a8" stroke-width="0.7"/>
<polygon points="673.6,1060.0 690.7,1050.7 677.6,1041.6 660.5,1050.3" fill="#3948a8" stroke="#3948a8" stroke-width="0.7"/>
<polygon points="643.4,1058.4 660.5,1050.3 647.3,1040.4 630.2,1047.8" fill="#3948a8" stroke="#3948a8" stroke-width="0.7"/>
<polygon points="613.1,1054.6 630.2,1047.8 617.1,1036.9 600.0,1043.1" fill="#3b4bab" stroke="#3b4bab" stroke-width="0.7"/>
<polygon points="582.9,1048.7 600.0,1043.1 586.8,1031.3 569.7,1036.3" fill="#3e52af" stroke="#3e52af" stroke-width="0.7"/>
<polygon points="552.6,1040.7 569.7,1036.3 556.6,1023.5 539.5,1027.3" fill="#4364bb" stroke="#4364bb" stroke-width="0.7"/>
<polygon points="522.4,1030.4 539.5,1027.3 526.4,1013.6 509.3,1016.1" fill="#4978c7" stroke="#4978c7" stroke-width="0.7"/>
<polygon points="492.1,1018.0 509.3,1016.1 496.1,1001.5 479.0,1002.7" fill="#5ab3e5" stroke="#5ab3e5" stroke-width="0.7"/>
<polygon points="461.9,1003.4 479.0,1002.7 465.9,987.2 448.8,987.2" fill="#69cce1" stroke="#69cce1" stroke-width="0.7"/>
<polygon points="431.7,986.7 448.8,987.2 435.6,970.7 418.5,969.5" fill="#7acfa0" stroke="#7acfa0" stroke-width="0.7"/>
<polygon points="401.4,967.7 418.5,969.5 405.4,952.1 388.3,949.6" fill="#96d459" stroke="#96d459" stroke-width="0.7"/>
<polygon points="371.2,946.6 388.3,949.6 375.1,931.3 358.0,927.6" fill="#d7e62a" stroke="#d7e62a" stroke-width="0.7"/>
<polygon points="340.9,923.3 358.0,927.6 344.9,908.3 327.8,903.4" fill="#f1a019" stroke="#f1a019" stroke-width="0.7"/>
<polygon points="310.7,897.9 327.8,903.4 314.6,883.1 297.5,877.0" fill="#ee3d21" stroke="#ee3d21" stroke-width="0.7"/>
<polygon points="280.4,870.2 297.5,877.0 284.4,855.8 267.3,848.4" fill="#b42024" stroke="#b42024" stroke-width="0.7"/>
<polygon points="717.0,1067.8 734.1,1056.7 721.0,1048.9 703.9,1059.4" fill="#3948a8" stroke="#3948a8" stroke-width="0.7"/>
<polygon points="686.8,1069.3 703.9,1059.4 690.7,1050.7 673.6,1060.0" fill="#3745a6" stroke="#3745a6" stroke-width="0.7"/>
<polygon points="656.5,1068.7 673.6,1060.0 660.5,1050.3 643.4,1058.4" fill="#3745a6" stroke="#3745a6" stroke-width="0.7"/>
<polygon points="626.3,1065.9 643.4,1058.4 630.2,1047.8 613.1,1054.6" fill="#3745a6" stroke="#3745a6" stroke-width="0.7"/>
<polygon points="596.0,1060.9 613.1,1054.6 600.0,1043.1 582.9,1048.7" fill="#3948a8" stroke="#3948a8" stroke-width="0.7"/>
<polygon points="565.8,1053.7 582.9,1048.7 569.7,1036.3 552.6,1040.7" fill="#3e52af" stroke="#3e52af" stroke-width="0.7"/>
<polygon points="535.5,1044.4 552.6,1040.7 539.5,1027.3 522.4,1030.4" fill="#4364bb" stroke="#4364bb" stroke-width="0.7"/>
<polygon points="505.3,1033.0 522.4,1030.4 509.3,1016.1 492.1,1018.0" fill="#4d83cd" stroke="#4d83cd" stroke-width="0.7"/>
<polygon points="475.0,1019.3 492.1,1018.0 479.0,1002.7 461.9,1003.4" fill="#5fc6ee" stroke="#5fc6ee" stroke-width="0.7"/>
<polygon points="444.8,1003.5 461.9,1003.4 448.8,987.2 431.7,986.7" fill="#72cfcc" stroke="#72cfcc" stroke-width="0.7"/>
<polygon points="414.6,985.5 431.7,986.7 418.5,969.5 401.4,967.7" fill="#7ecd81" stroke="#7ecd81" stroke-width="0.7"/>
<polygon points="384.3,965.3 401.4,967.7 388.3,949.6 371.2,946.6" fill="#aada45" stroke="#aada45" stroke-width="0.7"/>
<polygon points="354.1,943.0 371.2,946.6 358.0,927.6 340.9,923.3" fill="#eaed24" stroke="#eaed24" stroke-width="0.7"/>
<polygon points="323.8,918.5 340.9,923.3 327.8,903.4 310.7,897.9" fill="#f2761c" stroke="#f2761c" stroke-width="0.7"/>
<polygon points="293.6,891.8 310.7,897.9 297.5,877.0 280.4,870.2" fill="#e62925" stroke="#e62925" stroke-width="0.7"/>
<polygon points="699.9,1078.4 717.0,1067.8 703.9,1059.4 686.8,1069.3" fill="#3441a3" stroke="#3441a3" stroke-width="0.7"/>
<polygon points="669.7,1078.7 686.8,1069.3 673.6,1060.0 656.5,1068.7" fill="#3441a3" stroke="#3441a3" stroke-width="0.7"/>
<polygon points="639.4,1076.8 656.5,1068.7 643.4,1058.4 626.3,1065.9" fill="#3441a3" stroke="#3441a3" stroke-width="0.7"/>
<polygon points="609.2,1072.8 626.3,1065.9 613.1,1054.6 596.0,1060.9" fill="#3441a3" stroke="#3441a3" stroke-width="0.7"/>
<polygon points="578.9,1066.6 596.0,1060.9 582.9,1048.7 565.8,1053.7" fill="#3948a8" stroke="#3948a8" stroke-width="0.7"/>
<polygon points="548.7,1058.2 565.8,1053.7 552.6,1040.7 535.5,1044.4" fill="#3e52af" stroke="#3e52af" stroke-width="0.7"/>
<polygon points="518.4,1047.6 535.5,1044.4 522.4,1030.4 505.3,1033.0" fill="#466dc1" stroke="#466dc1" stroke-width="0.7"/>
<polygon points="488.2,1034.9 505.3,1033.0 492.1,1018.0 475.0,1019.3" fill="#518ed3" stroke="#518ed3" stroke-width="0.7"/>
<polygon points="457.9,1020.0 475.0,1019.3 461.9,1003.4 444.8,1003.5" fill="#64c9e8" stroke="#64c9e8" stroke-width="0.7"/>
<polygon points="427.7,1003.0 444.8,1003.5 431.7,986.7 414.6,985.5" fill="#76d0bf" stroke="#76d0bf" stroke-width="0.7"/>
<polygon points="397.4,983.8 414.6,985.5 401.4,967.7 384.3,965.3" fill="#8ed266" stroke="#8ed266" stroke-width="0.7"/>
<polygon points="367.2,962.4 384.3,965.3 371.2,946.6 354.1,943.0" fill="#c2e035" stroke="#c2e035" stroke-width="0.7"/>
<polygon points="337.0,938.8 354.1,943.0 340.9,923.3 323.8,918.5" fill="#f0b41a" stroke="#f0b41a" stroke-width="0.7"/>
<polygon points="306.7,913.0 323.8,918.5 310.7,897.9 293.6,891.8" fill="#ef491f" stroke="#ef491f" stroke-width="0.7"/>
<polygon points="682.8,1088.4 699.9,1078.4 686.8,1069.3 669.7,1078.7" fill="#323ea0" stroke="#323ea0" stroke-width="0.7"/>
<polygon points="652.5,1087.5 669.7,1078.7 656.5,1068.7 639.4,1076.8" fill="#313c9d" stroke="#313c9d" stroke-width="0.7"/>
<polygon points="622.3,1084.3 639.4,1076.8 626.3,1065.9 609.2,1072.8" fill="#323ea0" stroke="#323ea0" stroke-width="0.7"/>
<polygon points="592.1,1079.1 609.2,1072.8 596.0,1060.9 578.9,1066.6" fill="#3441a3" stroke="#3441a3" stroke-width="0.7"/>
<polygon points="561.8,1071.6 578.9,1066.6 565.8,1053.7 548.7,1058.2" fill="#3948a8" stroke="#3948a8" stroke-width="0.7"/>
<polygon points="531.6,1062.0 548.7,1058.2 535.5,1044.4 518.4,1047.6" fill="#3e52af" stroke="#3e52af" stroke-width="0.7"/>
<polygon points="501.3,1050.2 518.4,1047.6 505.3,1033.0 488.2,1034.9" fill="#466dc1" stroke="#466dc1" stroke-width="0.7"/>
<polygon points="471.1,1036.3 488.2,1034.9 475.0,1019.3 457.9,1020.0" fill="#569fdb" stroke="#569fdb" stroke-width="0.7"/>
<polygon points="440.8,1020.2 457.9,1020.0 444.8,1003.5 427.7,1003.0" fill="#69cce1" stroke="#69cce1" stroke-width="0.7"/>
<polygon points="410.6,1001.9 427.7,1003.0 414.6,985.5 397.4,983.8" fill="#7acfa0" stroke="#7acfa0" stroke-width="0.7"/>
<polygon points="380.3,981.4 397.4,983.8 384.3,965.3 367.2,962.4" fill="#9fd74c" stroke="#9fd74c" stroke-width="0.7"/>
<polygon points="350.1,958.8 367.2,962.4 354.1,943.0 337.0,938.8" fill="#e0e927" stroke="#e0e927" stroke-width="0.7"/>
<polygon points="319.9,934.0 337.0,938.8 323.8,918.5 306.7,913.0" fill="#f2851c" stroke="#f2851c" stroke-width="0.7"/>
<polygon points="665.7,1097.8 682.8,1088.4 669.7,1078.7 652.5,1087.5" fill="#2f3999" stroke="#2f3999" stroke-width="0.7"/>
<polygon points="635.4,1095.6 652.5,1087.5 639.4,1076.8 622.3,1084.3" fill="#2f3999" stroke="#2f3999" stroke-width="0.7"/>
<polygon points="605.2,1091.3 622.3,1084.3 609.2,1072.8 592.1,1079.1" fill="#313c9d" stroke="#313c9d" stroke-width="0.7"/>
<polygon points="575.0,1084.8 592.1,1079.1 578.9,1066.6 561.8,1071.6" fill="#3441a3" stroke="#3441a3" stroke-width="0.7"/>
<polygon points="544.7,1076.1 561.8,1071.6 548.7,1058.2 531.6,1062.0" fill="#3948a8" stroke="#3948a8" stroke-width="0.7"/>
<polygon points="514.5,1065.3 531.6,1062.0 518.4,1047.6 501.3,1050.2" fill="#405bb5" stroke="#405bb5" stroke-width="0.7"/>
<polygon points="484.2,1052.3 501.3,1050.2 488.2,1034.9 471.1,1036.3" fill="#4978c7" stroke="#4978c7" stroke-width="0.7"/>
<polygon points="454.0,1037.1 471.1,1036.3 457.9,1020.0 440.8,1020.2" fill="#5ab3e5" stroke="#5ab3e5" stroke-width="0.7"/>
<polygon points="423.7,1019.7 440.8,1020.2 427.7,1003.0 410.6,1001.9" fill="#72cfcc" stroke="#72cfcc" stroke-width="0.7"/>
<polygon points="393.5,1000.2 410.6,1001.9 397.4,983.8 380.3,981.4" fill="#7ecd81" stroke="#7ecd81" stroke-width="0.7"/>
<polygon points="363.2,978.5 380.3,981.4 367.2,962.4 350.1,958.8" fill="#b6dd3d" stroke="#b6dd3d" stroke-width="0.7"/>
<polygon points="333.0,954.6 350.1,958.8 337.0,938.8 319.9,934.0" fill="#efcb1d" stroke="#efcb1d" stroke-width="0.7"/>
<polygon points="648.6,1106.6 665.7,1097.8 652.5,1087.5 635.4,1095.6" fill="#2d3695" stroke="#2d3695" stroke-width="0.7"/>
<polygon points="618.3,1103.2 635.4,1095.6 622.3,1084.3 605.2,1091.3" fill="#2f3999" stroke="#2f3999" stroke-width="0.7"/>
<polygon points="588.1,1097.6 605.2,1091.3 592.1,1079.1 575.0,1084.8" fill="#313c9d" stroke="#313c9d" stroke-width="0.7"/>
<polygon points="557.8,1089.9 575.0,1084.8 561.8,1071.6 544.7,1076.1" fill="#3441a3" stroke="#3441a3" stroke-width="0.7"/>
<polygon points="527.6,1080.0 544.7,1076.1 531.6,1062.0 514.5,1065.3" fill="#3948a8" stroke="#3948a8" stroke-width="0.7"/>
<polygon points="497.4,1067.9 514.5,1065.3 501.3,1050.2 484.2,1052.3" fill="#405bb5" stroke="#405bb5" stroke-width="0.7"/>
<polygon points="467.1,1053.7 484.2,1052.3 471.1,1036.3 454.0,1037.1" fill="#4d83cd" stroke="#4d83cd" stroke-width="0.7"/>
<polygon points="436.9,1037.3 454.0,1037.1 440.8,1020.2 423.7,1019.7" fill="#5fc6ee" stroke="#5fc6ee" stroke-width="0.7"/>
<polygon points="406.6,1018.7 423.7,1019.7 410.6,1001.9 393.5,1000.2" fill="#76d0bf" stroke="#76d0bf" stroke-width="0.7"/>
<polygon points="376.4,997.9 393.5,1000.2 380.3,981.4 363.2,978.5" fill="#8ed266" stroke="#8ed266" stroke-width="0.7"/>
<polygon points="346.1,975.0 363.2,978.5 350.1,958.8 333.0,954.6" fill="#cee32e" stroke="#cee32e" stroke-width="0.7"/>
<polygon points="631.5,1114.8 648.6,1106.6 635.4,1095.6 618.3,1103.2" fill="#2c3491" stroke="#2c3491" stroke-width="0.7"/>
<polygon points="601.2,1110.2 618.3,1103.2 605.2,1091.3 588.1,1097.6" fill="#2d3695" stroke="#2d3695" stroke-width="0.7"/>
<polygon points="571.0,1103.4 588.1,1097.6 575.0,1084.8 557.8,1089.9" fill="#2f3999" stroke="#2f3999" stroke-width="0.7"/>
<polygon points="540.7,1094.4 557.8,1089.9 544.7,1076.1 527.6,1080.0" fill="#3441a3" stroke="#3441a3" stroke-width="0.7"/>
<polygon points="510.5,1083.3 527.6,1080.0 514.5,1065.3 497.4,1067.9" fill="#3b4bab" stroke="#3b4bab" stroke-width="0.7"/>
<polygon points="480.3,1070.0 497.4,1067.9 484.2,1052.3 467.1,1053.7" fill="#4364bb" stroke="#4364bb" stroke-width="0.7"/>
<polygon points="450.0,1054.5 467.1,1053.7 454.0,1037.1 436.9,1037.3" fill="#518ed3" stroke="#518ed3" stroke-width="0.7"/>
<polygon points="419.8,1036.9 436.9,1037.3 423.7,1019.7 406.6,1018.7" fill="#69cce1" stroke="#69cce1" stroke-width="0.7"/>
<polygon points="389.5,1017.0 406.6,1018.7 393.5,1000.2 376.4,997.9" fill="#7acfa0" stroke="#7acfa0" stroke-width="0.7"/>
<polygon points="359.3,995.0 376.4,997.9 363.2,978.5 346.1,975.0" fill="#9fd74c" stroke="#9fd74c" stroke-width="0.7"/>
<polygon points="614.4,1122.5 631.5,1114.8 618.3,1103.2 601.2,1110.2" fill="#2a3187" stroke="#2a3187" stroke-width="0.7"/>
<polygon points="584.1,1116.6 601.2,1110.2 588.1,1097.6 571.0,1103.4" fill="#2c3491" stroke="#2c3491" stroke-width="0.7"/>
<polygon points="553.9,1108.5 571.0,1103.4 557.8,1089.9 540.7,1094.4" fill="#2f3999" stroke="#2f3999" stroke-width="0.7"/>
<polygon points="523.6,1098.3 540.7,1094.4 527.6,1080.0 510.5,1083.3" fill="#3441a3" stroke="#3441a3" stroke-width="0.7"/>
<polygon points="493.4,1086.0 510.5,1083.3 497.4,1067.9 480.3,1070.0" fill="#3b4bab" stroke="#3b4bab" stroke-width="0.7"/>
<polygon points="463.1,1071.4 480.3,1070.0 467.1,1053.7 450.0,1054.5" fill="#466dc1" stroke="#466dc1" stroke-width="0.7"/>
<polygon points="432.9,1054.7 450.0,1054.5 436.9,1037.3 419.8,1036.9" fill="#569fdb" stroke="#569fdb" stroke-width="0.7"/>
<polygon points="402.7,1035.9 419.8,1036.9 406.6,1018.7 389.5,1017.0" fill="#72cfcc" stroke="#72cfcc" stroke-width="0.7"/>
<polygon points="372.4,1014.8 389.5,1017.0 376.4,997.9 359.3,995.0" fill="#7ecd81" stroke="#7ecd81" stroke-width="0.7"/>
<polygon points="597.3,1129.5 614.4,1122.5 601.2,1110.2 584.1,1116.6" fill="#292e7d" stroke="#292e7d" stroke-width="0.7"/>
<polygon points="567.0,1122.4 584.1,1116.6 571.0,1103.4 553.9,1108.5" fill="#2c3491" stroke="#2c3491" stroke-width="0.7"/>
<polygon points="536.8,1113.1 553.9,1108.5 540.7,1094.4 523.6,1098.3" fill="#2f3999" stroke="#2f3999" stroke-width="0.7"/>
<polygon points="506.5,1101.7 523.6,1098.3 510.5,1083.3 493.4,1086.0" fill="#3441a3" stroke="#3441a3" stroke-width="0.7"/>
<polygon points="476.3,1088.1 493.4,1086.0 480.3,1070.0 463.1,1071.4" fill="#3e52af" stroke="#3e52af" stroke-width="0.7"/>
<polygon points="446.0,1072.3 463.1,1071.4 450.0,1054.5 432.9,1054.7" fill="#4978c7" stroke="#4978c7" stroke-width="0.7"/>
<polygon points="415.8,1054.4 432.9,1054.7 419.8,1036.9 402.7,1035.9" fill="#5fc6ee" stroke="#5fc6ee" stroke-width="0.7"/>
<polygon points="385.6,1034.3 402.7,1035.9 389.5,1017.0 372.4,1014.8" fill="#76d0bf" stroke="#76d0bf" stroke-width="0.7"/>
<polygon points="580.2,1135.9 597.3,1129.5 584.1,1116.6 567.0,1122.4" fill="#292e7d" stroke="#292e7d" stroke-width="0.7"/>
<polygon points="549.9,1127.6 567.0,1122.4 553.9,1108.5 536.8,1113.1" fill="#2c3491" stroke="#2c3491" stroke-width="0.7"/>
<polygon points="519.7,1117.1 536.8,1113.1 523.6,1098.3 506.5,1101.7" fill="#313c9d" stroke="#313c9d" stroke-width="0.7"/>
<polygon points="489.4,1104.4 506.5,1101.7 493.4,1086.0 476.3,1088.1" fill="#3745a6" stroke="#3745a6" stroke-width="0.7"/>
<polygon points="459.2,1089.6 476.3,1088.1 463.1,1071.4 446.0,1072.3" fill="#405bb5" stroke="#405bb5" stroke-width="0.7"/>
<polygon points="428.9,1072.6 446.0,1072.3 432.9,1054.7 415.8,1054.4" fill="#4d83cd" stroke="#4d83cd" stroke-width="0.7"/>
<polygon points="398.7,1053.4 415.8,1054.4 402.7,1035.9 385.6,1034.3" fill="#69cce1" stroke="#69cce1" stroke-width="0.7"/>
<polygon points="563.1,1141.8 580.2,1135.9 567.0,1122.4 549.9,1127.6" fill="#292e7d" stroke="#292e7d" stroke-width="0.7"/>
<polygon points="532.8,1132.2 549.9,1127.6 536.8,1113.1 519.7,1117.1" fill="#2c3491" stroke="#2c3491" stroke-width="0.7"/>
<polygon points="502.6,1120.5 519.7,1117.1 506.5,1101.7 489.4,1104.4" fill="#313c9d" stroke="#313c9d" stroke-width="0.7"/>
<polygon points="472.3,1106.6 489.4,1104.4 476.3,1088.1 459.2,1089.6" fill="#3948a8" stroke="#3948a8" stroke-width="0.7"/>
<polygon points="442.1,1090.5 459.2,1089.6 446.0,1072.3 428.9,1072.6" fill="#4364bb" stroke="#4364bb" stroke-width="0.7"/>
<polygon points="411.8,1072.3 428.9,1072.6 415.8,1054.4 398.7,1053.4" fill="#569fdb" stroke="#569fdb" stroke-width="0.7"/>
<polygon points="546.0,1147.0 563.1,1141.8 549.9,1127.6 532.8,1132.2" fill="#292e7d" stroke="#292e7d" stroke-width="0.7"/>
<polygon points="515.7,1136.3 532.8,1132.2 519.7,1117.1 502.6,1120.5" fill="#2c3491" stroke="#2c3491" stroke-width="0.7"/>
<polygon points="485.5,1123.3 502.6,1120.5 489.4,1104.4 472.3,1106.6" fill="#323ea0" stroke="#323ea0" stroke-width="0.7"/>
<polygon points="455.2,1108.2 472.3,1106.6 459.2,1089.6 442.1,1090.5" fill="#3b4bab" stroke="#3b4bab" stroke-width="0.7"/>
<polygon points="425.0,1090.9 442.1,1090.5 428.9,1072.6 411.8,1072.3" fill="#466dc1" stroke="#466dc1" stroke-width="0.7"/>
<polygon points="528.8,1151.7 546.0,1147.0 532.8,1132.2 515.7,1136.3" fill="#292e7d" stroke="#292e7d" stroke-width="0.7"/>
<polygon points="498.6,1139.7 515.7,1136.3 502.6,1120.5 485.5,1123.3" fill="#2d3695" stroke="#2d3695" stroke-width="0.7"/>
<polygon points="468.4,1125.5 485.5,1123.3 472.3,1106.6 455.2,1108.2" fill="#323ea0" stroke="#323ea0" stroke-width="0.7"/>
<polygon points="438.1,1109.1 455.2,1108.2 442.1,1090.5 425.0,1090.9" fill="#3e52af" stroke="#3e52af" stroke-width="0.7"/>
<polygon points="511.7,1155.8 528.8,1151.7 515.7,1136.3 498.6,1139.7" fill="#292e7d" stroke="#292e7d" stroke-width="0.7"/>
<polygon points="481.5,1142.5 498.6,1139.7 485.5,1123.3 468.4,1125.5" fill="#2d3695" stroke="#2d3695" stroke-width="0.7"/>
<polygon points="451.3,1127.1 468.4,1125.5 455.2,1108.2 438.1,1109.1" fill="#3441a3" stroke="#3441a3" stroke-width="0.7"/>
<polygon points="494.6,1159.3 511.7,1155.8 498.6,1139.7 481.5,1142.5" fill="#292e7d" stroke="#292e7d" stroke-width="0.7"/>
<polygon points="464.4,1144.8 481.5,1142.5 468.4,1125.5 451.3,1127.1" fill="#2f3999" stroke="#2f3999" stroke-width="0.7"/>
<polygon points="477.5,1162.2 494.6,1159.3 481.5,1142.5 464.4,1144.8" fill="#2a3187" stroke="#2a3187" stroke-width="0.7"/>
</g>
<g stroke="#fff" stroke-opacity="0.16" stroke-width="0.9" stroke-dasharray="1.2 1">
<line x1="539.0" y1="897.0" x2="539.0" y2="907.1"/>
<line x1="552.1" y1="908.7" x2="552.1" y2="918.9"/>
<line x1="521.9" y1="898.5" x2="521.9" y2="908.7"/>
<line x1="565.3" y1="920.0" x2="565.3" y2="930.4"/>
<line x1="535.0" y1="910.8" x2="535.0" y2="921.2"/>
<line x1="504.8" y1="899.4" x2="504.8" y2="909.8"/>
<line x1="578.4" y1="931.1" x2="578.4" y2="941.6"/>
<line x1="548.2" y1="922.8" x2="548.2" y2="933.3"/>
<line x1="517.9" y1="912.3" x2="517.9" y2="922.9"/>
<line x1="487.7" y1="899.7" x2="487.7" y2="910.2"/>
<line x1="591.6" y1="941.9" x2="591.6" y2="952.6"/>
<line x1="561.3" y1="934.5" x2="561.3" y2="945.2"/>
<line x1="531.1" y1="925.0" x2="531.1" y2="935.6"/>
<line x1="500.8" y1="913.3" x2="500.8" y2="923.9"/>
<line x1="470.6" y1="899.4" x2="470.6" y2="910.0"/>
<line x1="604.7" y1="952.3" x2="604.7" y2="963.2"/>
<line x1="574.4" y1="945.9" x2="574.4" y2="956.7"/>
<line x1="544.2" y1="937.3" x2="544.2" y2="948.1"/>
<line x1="514.0" y1="926.5" x2="514.0" y2="937.4"/>
<line x1="483.7" y1="913.6" x2="483.7" y2="924.4"/>
<line x1="453.5" y1="898.5" x2="453.5" y2="909.3"/>
<line x1="617.8" y1="962.5" x2="617.8" y2="973.5"/>
<line x1="587.6" y1="957.0" x2="587.6" y2="968.0"/>
<line x1="557.3" y1="949.4" x2="557.3" y2="960.3"/>
<line x1="527.1" y1="939.5" x2="527.1" y2="950.5"/>
<line x1="496.9" y1="927.5" x2="496.9" y2="938.5"/>
<line x1="466.6" y1="913.3" x2="466.6" y2="924.3"/>
<line x1="436.4" y1="897.0" x2="436.4" y2="907.9"/>
<line x1="631.0" y1="972.4" x2="631.0" y2="983.6"/>
<line x1="600.7" y1="967.8" x2="600.7" y2="979.0"/>
<line x1="570.5" y1="961.1" x2="570.5" y2="972.2"/>
<line x1="540.2" y1="952.2" x2="540.2" y2="963.3"/>
<line x1="510.0" y1="941.1" x2="510.0" y2="952.3"/>
<line x1="479.7" y1="927.9" x2="479.7" y2="939.0"/>
<line x1="449.5" y1="912.5" x2="449.5" y2="923.6"/>
<line x1="419.3" y1="894.9" x2="419.3" y2="906.0"/>
<line x1="644.1" y1="982.0" x2="644.1" y2="993.3"/>
<line x1="613.9" y1="978.4" x2="613.9" y2="989.7"/>
<line x1="583.6" y1="972.6" x2="583.6" y2="983.9"/>
<line x1="553.4" y1="964.6" x2="553.4" y2="975.9"/>
<line x1="523.1" y1="954.5" x2="523.1" y2="965.7"/>
<line x1="492.9" y1="942.2" x2="492.9" y2="953.4"/>
<line x1="462.6" y1="927.7" x2="462.6" y2="938.9"/>
<line x1="432.4" y1="911.0" x2="432.4" y2="922.3"/>
<line x1="402.2" y1="892.2" x2="402.2" y2="903.5"/>
<line x1="657.3" y1="991.3" x2="657.3" y2="1002.8"/>
<line x1="627.0" y1="988.6" x2="627.0" y2="1000.0"/>
<line x1="596.8" y1="983.7" x2="596.8" y2="995.2"/>
<line x1="566.5" y1="976.7" x2="566.5" y2="988.1"/>
<line x1="536.3" y1="967.5" x2="536.3" y2="978.9"/>
<line x1="506.0" y1="956.1" x2="506.0" y2="967.6"/>
<line x1="475.8" y1="942.6" x2="475.8" y2="954.0"/>
<line x1="445.5" y1="926.9" x2="445.5" y2="938.3"/>
<line x1="415.3" y1="909.0" x2="415.3" y2="920.4"/>
<line x1="385.0" y1="888.9" x2="385.0" y2="900.3"/>
<line x1="670.4" y1="1000.3" x2="670.4" y2="1011.9"/>
<line x1="640.1" y1="998.5" x2="640.1" y2="1010.1"/>
<line x1="609.9" y1="994.6" x2="609.9" y2="1006.2"/>
<line x1="579.7" y1="988.5" x2="579.7" y2="1000.1"/>
<line x1="549.4" y1="980.3" x2="549.4" y2="991.8"/>
<line x1="519.2" y1="969.8" x2="519.2" y2="981.4"/>
<line x1="488.9" y1="957.2" x2="488.9" y2="968.8"/>
<line x1="458.7" y1="942.5" x2="458.7" y2="954.0"/>
<line x1="428.4" y1="925.5" x2="428.4" y2="937.0"/>
<line x1="398.2" y1="906.4" x2="398.2" y2="917.9"/>
<line x1="367.9" y1="885.1" x2="367.9" y2="896.6"/>
<line x1="683.5" y1="1009.0" x2="683.5" y2="1020.8"/>
<line x1="653.3" y1="1008.2" x2="653.3" y2="1019.9"/>
<line x1="623.0" y1="1005.2" x2="623.0" y2="1016.9"/>
<line x1="592.8" y1="1000.0" x2="592.8" y2="1011.8"/>
<line x1="562.6" y1="992.7" x2="562.6" y2="1004.4"/>
<line x1="532.3" y1="983.2" x2="532.3" y2="994.9"/>
<line x1="502.1" y1="971.6" x2="502.1" y2="983.3"/>
<line x1="471.8" y1="957.7" x2="471.8" y2="969.4"/>
<line x1="441.6" y1="941.7" x2="441.6" y2="953.4"/>
<line x1="411.3" y1="923.5" x2="411.3" y2="935.2"/>
<line x1="381.1" y1="903.2" x2="381.1" y2="914.8"/>
<line x1="350.8" y1="880.6" x2="350.8" y2="892.3"/>
<line x1="696.7" y1="1017.4" x2="696.7" y2="1029.4"/>
<line x1="666.4" y1="1017.5" x2="666.4" y2="1029.4"/>
<line x1="636.2" y1="1015.5" x2="636.2" y2="1027.4"/>
<line x1="605.9" y1="1011.3" x2="605.9" y2="1023.1"/>
<line x1="575.7" y1="1004.9" x2="575.7" y2="1016.7"/>
<line x1="545.4" y1="996.3" x2="545.4" y2="1008.2"/>
<line x1="515.2" y1="985.6" x2="515.2" y2="997.4"/>
<line x1="485.0" y1="972.7" x2="485.0" y2="984.5"/>
<line x1="454.7" y1="957.6" x2="454.7" y2="969.4"/>
<line x1="424.5" y1="940.4" x2="424.5" y2="952.2"/>
<line x1="394.2" y1="920.9" x2="394.2" y2="932.8"/>
<line x1="364.0" y1="899.3" x2="364.0" y2="911.2"/>
<line x1="333.7" y1="875.6" x2="333.7" y2="887.4"/>
<line x1="709.8" y1="1025.6" x2="709.8" y2="1037.6"/>
<line x1="679.6" y1="1026.6" x2="679.6" y2="1038.7"/>
<line x1="649.3" y1="1025.5" x2="649.3" y2="1037.5"/>
<line x1="619.1" y1="1022.2" x2="619.1" y2="1034.2"/>
<line x1="588.8" y1="1016.7" x2="588.8" y2="1028.8"/>
<line x1="558.6" y1="1009.1" x2="558.6" y2="1021.1"/>
<line x1="528.3" y1="999.3" x2="528.3" y2="1011.3"/>
<line x1="498.1" y1="987.3" x2="498.1" y2="999.3"/>
<line x1="467.9" y1="973.2" x2="467.9" y2="985.2"/>
<line x1="437.6" y1="956.9" x2="437.6" y2="968.9"/>
<line x1="407.4" y1="938.4" x2="407.4" y2="950.4"/>
<line x1="377.1" y1="917.8" x2="377.1" y2="929.7"/>
<line x1="346.9" y1="894.9" x2="346.9" y2="906.9"/>
<line x1="316.6" y1="869.9" x2="316.6" y2="881.9"/>
<line x1="723.0" y1="1033.4" x2="723.0" y2="1045.6"/>
<line x1="692.7" y1="1035.4" x2="692.7" y2="1047.6"/>
<line x1="662.5" y1="1035.2" x2="662.5" y2="1047.4"/>
<line x1="632.2" y1="1032.8" x2="632.2" y2="1045.0"/>
<line x1="602.0" y1="1028.3" x2="602.0" y2="1040.5"/>
<line x1="571.7" y1="1021.6" x2="571.7" y2="1033.8"/>
<line x1="541.5" y1="1012.8" x2="541.5" y2="1024.9"/>
<line x1="511.2" y1="1001.7" x2="511.2" y2="1013.9"/>
<line x1="481.0" y1="988.5" x2="481.0" y2="1000.7"/>
<line x1="450.7" y1="973.2" x2="450.7" y2="985.3"/>
<line x1="420.5" y1="955.6" x2="420.5" y2="967.7"/>
<line x1="390.3" y1="935.9" x2="390.3" y2="948.0"/>
<line x1="360.0" y1="914.0" x2="360.0" y2="926.1"/>
<line x1="329.8" y1="889.9" x2="329.8" y2="902.0"/>
<line x1="299.5" y1="863.7" x2="299.5" y2="875.8"/>
<line x1="736.1" y1="1041.0" x2="736.1" y2="1053.3"/>
<line x1="705.8" y1="1043.9" x2="705.8" y2="1056.2"/>
<line x1="675.6" y1="1044.6" x2="675.6" y2="1056.9"/>
<line x1="645.4" y1="1043.2" x2="645.4" y2="1055.5"/>
<line x1="615.1" y1="1039.6" x2="615.1" y2="1051.9"/>
<line x1="584.9" y1="1033.8" x2="584.9" y2="1046.1"/>
<line x1="554.6" y1="1025.9" x2="554.6" y2="1038.2"/>
<line x1="524.4" y1="1015.8" x2="524.4" y2="1028.1"/>
<line x1="494.1" y1="1003.5" x2="494.1" y2="1015.8"/>
<line x1="463.9" y1="989.1" x2="463.9" y2="1001.4"/>
<line x1="433.6" y1="972.5" x2="433.6" y2="984.8"/>
<line x1="403.4" y1="953.7" x2="403.4" y2="966.0"/>
<line x1="373.2" y1="932.8" x2="373.2" y2="945.0"/>
<line x1="342.9" y1="909.6" x2="342.9" y2="921.9"/>
<line x1="312.7" y1="884.3" x2="312.7" y2="896.6"/>
<line x1="282.4" y1="856.8" x2="282.4" y2="869.1"/>
<line x1="719.0" y1="1052.1" x2="719.0" y2="1064.6"/>
<line x1="688.7" y1="1053.7" x2="688.7" y2="1066.2"/>
<line x1="658.5" y1="1053.2" x2="658.5" y2="1065.7"/>
<line x1="628.3" y1="1050.6" x2="628.3" y2="1063.0"/>
<line x1="598.0" y1="1045.7" x2="598.0" y2="1058.2"/>
<line x1="567.8" y1="1038.7" x2="567.8" y2="1051.2"/>
<line x1="537.5" y1="1029.6" x2="537.5" y2="1042.0"/>
<line x1="507.3" y1="1018.3" x2="507.3" y2="1030.7"/>
<line x1="477.0" y1="1004.8" x2="477.0" y2="1017.2"/>
<line x1="446.8" y1="989.1" x2="446.8" y2="1001.5"/>
<line x1="416.5" y1="971.3" x2="416.5" y2="983.7"/>
<line x1="386.3" y1="951.3" x2="386.3" y2="963.7"/>
<line x1="356.0" y1="929.1" x2="356.0" y2="941.5"/>
<line x1="325.8" y1="904.7" x2="325.8" y2="917.1"/>
<line x1="295.6" y1="878.1" x2="295.6" y2="890.5"/>
<line x1="701.9" y1="1062.5" x2="701.9" y2="1075.2"/>
<line x1="671.6" y1="1063.0" x2="671.6" y2="1075.6"/>
<line x1="641.4" y1="1061.2" x2="641.4" y2="1073.9"/>
<line x1="611.1" y1="1057.4" x2="611.1" y2="1070.0"/>
<line x1="580.9" y1="1051.3" x2="580.9" y2="1063.9"/>
<line x1="550.7" y1="1043.1" x2="550.7" y2="1055.7"/>
<line x1="520.4" y1="1032.7" x2="520.4" y2="1045.3"/>
<line x1="490.2" y1="1020.1" x2="490.2" y2="1032.7"/>
<line x1="459.9" y1="1005.4" x2="459.9" y2="1018.0"/>
<line x1="429.7" y1="988.5" x2="429.7" y2="1001.1"/>
<line x1="399.4" y1="969.4" x2="399.4" y2="982.0"/>
<line x1="369.2" y1="948.2" x2="369.2" y2="960.7"/>
<line x1="338.9" y1="924.8" x2="338.9" y2="937.3"/>
<line x1="308.7" y1="899.1" x2="308.7" y2="911.7"/>
<line x1="684.8" y1="1072.4" x2="684.8" y2="1085.2"/>
<line x1="654.5" y1="1071.6" x2="654.5" y2="1084.4"/>
<line x1="624.3" y1="1068.7" x2="624.3" y2="1081.4"/>
<line x1="594.0" y1="1063.6" x2="594.0" y2="1076.3"/>
<line x1="563.8" y1="1056.3" x2="563.8" y2="1069.0"/>
<line x1="533.6" y1="1046.8" x2="533.6" y2="1059.6"/>
<line x1="503.3" y1="1035.2" x2="503.3" y2="1047.9"/>
<line x1="473.1" y1="1021.4" x2="473.1" y2="1034.1"/>
<line x1="442.8" y1="1005.4" x2="442.8" y2="1018.2"/>
<line x1="412.6" y1="987.3" x2="412.6" y2="1000.0"/>
<line x1="382.3" y1="967.0" x2="382.3" y2="979.7"/>
<line x1="352.1" y1="944.5" x2="352.1" y2="957.2"/>
<line x1="321.8" y1="919.8" x2="321.8" y2="932.5"/>
<line x1="667.7" y1="1081.7" x2="667.7" y2="1094.7"/>
<line x1="637.4" y1="1079.7" x2="637.4" y2="1092.6"/>
<line x1="607.2" y1="1075.5" x2="607.2" y2="1088.4"/>
<line x1="576.9" y1="1069.2" x2="576.9" y2="1082.1"/>
<line x1="546.7" y1="1060.7" x2="546.7" y2="1073.5"/>
<line x1="516.4" y1="1050.0" x2="516.4" y2="1062.8"/>
<line x1="486.2" y1="1037.1" x2="486.2" y2="1050.0"/>
<line x1="456.0" y1="1022.1" x2="456.0" y2="1035.0"/>
<line x1="425.7" y1="1004.9" x2="425.7" y2="1017.7"/>
<line x1="395.5" y1="985.5" x2="395.5" y2="998.4"/>
<line x1="365.2" y1="964.0" x2="365.2" y2="976.8"/>
<line x1="335.0" y1="940.3" x2="335.0" y2="953.1"/>
<line x1="650.6" y1="1090.5" x2="650.6" y2="1103.5"/>
<line x1="620.3" y1="1087.2" x2="620.3" y2="1100.3"/>
<line x1="590.1" y1="1081.8" x2="590.1" y2="1094.8"/>
<line x1="559.8" y1="1074.2" x2="559.8" y2="1087.2"/>
<line x1="529.6" y1="1064.4" x2="529.6" y2="1077.5"/>
<line x1="499.3" y1="1052.5" x2="499.3" y2="1065.5"/>
<line x1="469.1" y1="1038.4" x2="469.1" y2="1051.5"/>
<line x1="438.9" y1="1022.2" x2="438.9" y2="1035.2"/>
<line x1="408.6" y1="1003.8" x2="408.6" y2="1016.7"/>
<line x1="378.4" y1="983.1" x2="378.4" y2="996.1"/>
<line x1="348.1" y1="960.4" x2="348.1" y2="973.3"/>
<line x1="633.5" y1="1098.6" x2="633.5" y2="1111.8"/>
<line x1="603.2" y1="1094.1" x2="603.2" y2="1107.3"/>
<line x1="573.0" y1="1087.4" x2="573.0" y2="1100.6"/>
<line x1="542.7" y1="1078.6" x2="542.7" y2="1091.8"/>
<line x1="512.5" y1="1067.6" x2="512.5" y2="1080.8"/>
<line x1="482.2" y1="1054.5" x2="482.2" y2="1067.7"/>
<line x1="452.0" y1="1039.2" x2="452.0" y2="1052.3"/>
<line x1="421.7" y1="1021.7" x2="421.7" y2="1034.8"/>
<line x1="391.5" y1="1002.0" x2="391.5" y2="1015.2"/>
<line x1="361.3" y1="980.2" x2="361.3" y2="993.3"/>
<line x1="616.4" y1="1106.1" x2="616.4" y2="1119.5"/>
<line x1="586.1" y1="1100.4" x2="586.1" y2="1113.7"/>
<line x1="555.9" y1="1092.5" x2="555.9" y2="1105.8"/>
<line x1="525.6" y1="1082.5" x2="525.6" y2="1095.8"/>
<line x1="495.4" y1="1070.3" x2="495.4" y2="1083.6"/>
<line x1="465.1" y1="1055.9" x2="465.1" y2="1069.2"/>
<line x1="434.9" y1="1039.3" x2="434.9" y2="1052.6"/>
<line x1="404.6" y1="1020.6" x2="404.6" y2="1033.9"/>
<line x1="374.4" y1="999.7" x2="374.4" y2="1013.0"/>
<line x1="599.3" y1="1113.1" x2="599.3" y2="1126.5"/>
<line x1="569.0" y1="1106.1" x2="569.0" y2="1119.6"/>
<line x1="538.8" y1="1097.0" x2="538.8" y2="1110.5"/>
<line x1="508.5" y1="1085.7" x2="508.5" y2="1099.2"/>
<line x1="478.3" y1="1072.3" x2="478.3" y2="1085.7"/>
<line x1="448.0" y1="1056.7" x2="448.0" y2="1070.1"/>
<line x1="417.8" y1="1038.9" x2="417.8" y2="1052.3"/>
<line x1="387.5" y1="1018.9" x2="387.5" y2="1032.3"/>
<line x1="582.1" y1="1119.4" x2="582.1" y2="1133.0"/>
<line x1="551.9" y1="1111.2" x2="551.9" y2="1124.8"/>
<line x1="521.7" y1="1100.9" x2="521.7" y2="1114.5"/>
<line x1="491.4" y1="1088.4" x2="491.4" y2="1102.0"/>
<line x1="461.2" y1="1073.7" x2="461.2" y2="1087.3"/>
<line x1="430.9" y1="1056.8" x2="430.9" y2="1070.4"/>
<line x1="400.7" y1="1037.8" x2="400.7" y2="1051.4"/>
<line x1="565.0" y1="1125.2" x2="565.0" y2="1138.9"/>
<line x1="534.8" y1="1115.8" x2="534.8" y2="1129.5"/>
<line x1="504.6" y1="1104.2" x2="504.6" y2="1117.9"/>
<line x1="474.3" y1="1090.4" x2="474.3" y2="1104.2"/>
<line x1="444.1" y1="1074.5" x2="444.1" y2="1088.3"/>
<line x1="413.8" y1="1056.4" x2="413.8" y2="1070.2"/>
<line x1="547.9" y1="1130.3" x2="547.9" y2="1144.2"/>
<line x1="517.7" y1="1119.7" x2="517.7" y2="1133.6"/>
<line x1="487.4" y1="1106.9" x2="487.4" y2="1120.8"/>
<line x1="457.2" y1="1091.9" x2="457.2" y2="1105.8"/>
<line x1="427.0" y1="1074.8" x2="427.0" y2="1088.6"/>
<line x1="530.8" y1="1134.9" x2="530.8" y2="1149.0"/>
<line x1="500.6" y1="1123.0" x2="500.6" y2="1137.1"/>
<line x1="470.3" y1="1109.0" x2="470.3" y2="1123.0"/>
<line x1="440.1" y1="1092.8" x2="440.1" y2="1106.8"/>
<line x1="513.7" y1="1138.9" x2="513.7" y2="1153.1"/>
<line x1="483.5" y1="1125.8" x2="483.5" y2="1140.0"/>
<line x1="453.2" y1="1110.5" x2="453.2" y2="1124.7"/>
<line x1="496.6" y1="1142.3" x2="496.6" y2="1156.6"/>
<line x1="466.4" y1="1127.9" x2="466.4" y2="1142.3"/>
<line x1="479.5" y1="1145.1" x2="479.5" y2="1159.6"/>
</g>
<g fill="#0c0c30" fill-opacity="0.55">
<circle cx="481.5" cy="1142.5" r="1.3"/>
<circle cx="498.6" cy="1139.7" r="1.3"/>
<circle cx="515.7" cy="1136.3" r="1.3"/>
<circle cx="532.8" cy="1132.2" r="1.3"/>
<circle cx="549.9" cy="1127.6" r="1.3"/>
<circle cx="567.0" cy="1122.4" r="1.3"/>
<circle cx="584.1" cy="1116.6" r="1.3"/>
<circle cx="601.2" cy="1110.2" r="1.3"/>
<circle cx="618.3" cy="1103.2" r="1.3"/>
<circle cx="635.4" cy="1095.6" r="1.3"/>
<circle cx="652.5" cy="1087.5" r="1.3"/>
<circle cx="669.7" cy="1078.7" r="1.3"/>
<circle cx="686.8" cy="1069.3" r="1.3"/>
<circle cx="703.9" cy="1059.4" r="1.3"/>
<circle cx="721.0" cy="1048.9" r="1.3"/>
<circle cx="738.1" cy="1037.7" r="1.3"/>
<circle cx="468.4" cy="1125.5" r="1.3"/>
<circle cx="485.5" cy="1123.3" r="1.3"/>
<circle cx="502.6" cy="1120.5" r="1.3"/>
<circle cx="519.7" cy="1117.1" r="1.3"/>
<circle cx="536.8" cy="1113.1" r="1.3"/>
<circle cx="553.9" cy="1108.5" r="1.3"/>
<circle cx="571.0" cy="1103.4" r="1.3"/>
<circle cx="588.1" cy="1097.6" r="1.3"/>
<circle cx="605.2" cy="1091.3" r="1.3"/>
<circle cx="622.3" cy="1084.3" r="1.3"/>
<circle cx="639.4" cy="1076.8" r="1.3"/>
<circle cx="656.5" cy="1068.7" r="1.3"/>
<circle cx="673.6" cy="1060.0" r="1.3"/>
<circle cx="690.7" cy="1050.7" r="1.3"/>
<circle cx="707.8" cy="1040.8" r="1.3"/>
<circle cx="724.9" cy="1030.3" r="1.3"/>
<circle cx="455.2" cy="1108.2" r="1.3"/>
<circle cx="472.3" cy="1106.6" r="1.3"/>
<circle cx="489.4" cy="1104.4" r="1.3"/>
<circle cx="506.5" cy="1101.7" r="1.3"/>
<circle cx="523.6" cy="1098.3" r="1.3"/>
<circle cx="540.7" cy="1094.4" r="1.3"/>
<circle cx="557.8" cy="1089.9" r="1.3"/>
<circle cx="575.0" cy="1084.8" r="1.3"/>
<circle cx="592.1" cy="1079.1" r="1.3"/>
<circle cx="609.2" cy="1072.8" r="1.3"/>
<circle cx="626.3" cy="1065.9" r="1.3"/>
<circle cx="643.4" cy="1058.4" r="1.3"/>
<circle cx="660.5" cy="1050.3" r="1.3"/>
<circle cx="677.6" cy="1041.6" r="1.3"/>
<circle cx="694.7" cy="1032.4" r="1.3"/>
<circle cx="711.8" cy="1022.5" r="1.3"/>
<circle cx="442.1" cy="1090.5" r="1.3"/>
<circle cx="459.2" cy="1089.6" r="1.3"/>
<circle cx="476.3" cy="1088.1" r="1.3"/>
<circle cx="493.4" cy="1086.0" r="1.3"/>
<circle cx="510.5" cy="1083.3" r="1.3"/>
<circle cx="527.6" cy="1080.0" r="1.3"/>
<circle cx="544.7" cy="1076.1" r="1.3"/>
<circle cx="561.8" cy="1071.6" r="1.3"/>
<circle cx="578.9" cy="1066.6" r="1.3"/>
<circle cx="596.0" cy="1060.9" r="1.3"/>
<circle cx="613.1" cy="1054.6" r="1.3"/>
<circle cx="630.2" cy="1047.8" r="1.3"/>
<circle cx="647.3" cy="1040.4" r="1.3"/>
<circle cx="664.4" cy="1032.3" r="1.3"/>
<circle cx="681.5" cy="1023.7" r="1.3"/>
<circle cx="698.7" cy="1014.5" r="1.3"/>
<circle cx="428.9" cy="1072.6" r="1.3"/>
<circle cx="446.0" cy="1072.3" r="1.3"/>
<circle cx="463.1" cy="1071.4" r="1.3"/>
<circle cx="480.3" cy="1070.0" r="1.3"/>
<circle cx="497.4" cy="1067.9" r="1.3"/>
<circle cx="514.5" cy="1065.3" r="1.3"/>
<circle cx="531.6" cy="1062.0" r="1.3"/>
<circle cx="548.7" cy="1058.2" r="1.3"/>
<circle cx="565.8" cy="1053.7" r="1.3"/>
<circle cx="582.9" cy="1048.7" r="1.3"/>
<circle cx="600.0" cy="1043.1" r="1.3"/>
<circle cx="617.1" cy="1036.9" r="1.3"/>
<circle cx="634.2" cy="1030.1" r="1.3"/>
<circle cx="651.3" cy="1022.7" r="1.3"/>
<circle cx="668.4" cy="1014.7" r="1.3"/>
<circle cx="685.5" cy="1006.2" r="1.3"/>
<circle cx="415.8" cy="1054.4" r="1.3"/>
<circle cx="432.9" cy="1054.7" r="1.3"/>
<circle cx="450.0" cy="1054.5" r="1.3"/>
<circle cx="467.1" cy="1053.7" r="1.3"/>
<circle cx="484.2" cy="1052.3" r="1.3"/>
<circle cx="501.3" cy="1050.2" r="1.3"/>
<circle cx="518.4" cy="1047.6" r="1.3"/>
<circle cx="535.5" cy="1044.4" r="1.3"/>
<circle cx="552.6" cy="1040.7" r="1.3"/>
<circle cx="569.7" cy="1036.3" r="1.3"/>
<circle cx="586.8" cy="1031.3" r="1.3"/>
<circle cx="604.0" cy="1025.7" r="1.3"/>
<circle cx="621.1" cy="1019.6" r="1.3"/>
<circle cx="638.2" cy="1012.8" r="1.3"/>
<circle cx="655.3" cy="1005.5" r="1.3"/>
<circle cx="672.4" cy="997.5" r="1.3"/>
<circle cx="402.7" cy="1035.9" r="1.3"/>
<circle cx="419.8" cy="1036.9" r="1.3"/>
<circle cx="436.9" cy="1037.3" r="1.3"/>
<circle cx="454.0" cy="1037.1" r="1.3"/>
<circle cx="471.1" cy="1036.3" r="1.3"/>
<circle cx="488.2" cy="1034.9" r="1.3"/>
<circle cx="505.3" cy="1033.0" r="1.3"/>
<circle cx="522.4" cy="1030.4" r="1.3"/>
<circle cx="539.5" cy="1027.3" r="1.3"/>
<circle cx="556.6" cy="1023.5" r="1.3"/>
<circle cx="573.7" cy="1019.2" r="1.3"/>
<circle cx="590.8" cy="1014.3" r="1.3"/>
<circle cx="607.9" cy="1008.7" r="1.3"/>
<circle cx="625.0" cy="1002.6" r="1.3"/>
<circle cx="642.1" cy="995.9" r="1.3"/>
<circle cx="659.2" cy="988.6" r="1.3"/>
<circle cx="389.5" cy="1017.0" r="1.3"/>
<circle cx="406.6" cy="1018.7" r="1.3"/>
<circle cx="423.7" cy="1019.7" r="1.3"/>
<circle cx="440.8" cy="1020.2" r="1.3"/>
<circle cx="457.9" cy="1020.0" r="1.3"/>
<circle cx="475.0" cy="1019.3" r="1.3"/>
<circle cx="492.1" cy="1018.0" r="1.3"/>
<circle cx="509.3" cy="1016.1" r="1.3"/>
<circle cx="526.4" cy="1013.6" r="1.3"/>
<circle cx="543.5" cy="1010.5" r="1.3"/>
<circle cx="560.6" cy="1006.8" r="1.3"/>
<circle cx="577.7" cy="1002.5" r="1.3"/>
<circle cx="594.8" cy="997.6" r="1.3"/>
<circle cx="611.9" cy="992.1" r="1.3"/>
<circle cx="629.0" cy="986.1" r="1.3"/>
<circle cx="646.1" cy="979.4" r="1.3"/>
<circle cx="376.4" cy="997.9" r="1.3"/>
<circle cx="393.5" cy="1000.2" r="1.3"/>
<circle cx="410.6" cy="1001.9" r="1.3"/>
<circle cx="427.7" cy="1003.0" r="1.3"/>
<circle cx="444.8" cy="1003.5" r="1.3"/>
<circle cx="461.9" cy="1003.4" r="1.3"/>
<circle cx="479.0" cy="1002.7" r="1.3"/>
<circle cx="496.1" cy="1001.5" r="1.3"/>
<circle cx="513.2" cy="999.6" r="1.3"/>
<circle cx="530.3" cy="997.1" r="1.3"/>
<circle cx="547.4" cy="994.1" r="1.3"/>
<circle cx="564.5" cy="990.4" r="1.3"/>
<circle cx="581.6" cy="986.2" r="1.3"/>
<circle cx="598.7" cy="981.4" r="1.3"/>
<circle cx="615.8" cy="976.0" r="1.3"/>
<circle cx="633.0" cy="969.9" r="1.3"/>
<circle cx="363.2" cy="978.5" r="1.3"/>
<circle cx="380.3" cy="981.4" r="1.3"/>
<circle cx="397.4" cy="983.8" r="1.3"/>
<circle cx="414.6" cy="985.5" r="1.3"/>
<circle cx="431.7" cy="986.7" r="1.3"/>
<circle cx="448.8" cy="987.2" r="1.3"/>
<circle cx="465.9" cy="987.2" r="1.3"/>
<circle cx="483.0" cy="986.5" r="1.3"/>
<circle cx="500.1" cy="985.3" r="1.3"/>
<circle cx="517.2" cy="983.5" r="1.3"/>
<circle cx="534.3" cy="981.1" r="1.3"/>
<circle cx="551.4" cy="978.1" r="1.3"/>
<circle cx="568.5" cy="974.5" r="1.3"/>
<circle cx="585.6" cy="970.3" r="1.3"/>
<circle cx="602.7" cy="965.5" r="1.3"/>
<circle cx="619.8" cy="960.1" r="1.3"/>
<circle cx="350.1" cy="958.8" r="1.3"/>
<circle cx="367.2" cy="962.4" r="1.3"/>
<circle cx="384.3" cy="965.3" r="1.3"/>
<circle cx="401.4" cy="967.7" r="1.3"/>
<circle cx="418.5" cy="969.5" r="1.3"/>
<circle cx="435.6" cy="970.7" r="1.3"/>
<circle cx="452.7" cy="971.3" r="1.3"/>
<circle cx="469.8" cy="971.3" r="1.3"/>
<circle cx="486.9" cy="970.7" r="1.3"/>
<circle cx="504.0" cy="969.6" r="1.3"/>
<circle cx="521.1" cy="967.8" r="1.3"/>
<circle cx="538.3" cy="965.4" r="1.3"/>
<circle cx="555.4" cy="962.5" r="1.3"/>
<circle cx="572.5" cy="958.9" r="1.3"/>
<circle cx="589.6" cy="954.8" r="1.3"/>
<circle cx="606.7" cy="950.1" r="1.3"/>
<circle cx="337.0" cy="938.8" r="1.3"/>
<circle cx="354.1" cy="943.0" r="1.3"/>
<circle cx="371.2" cy="946.6" r="1.3"/>
<circle cx="388.3" cy="949.6" r="1.3"/>
<circle cx="405.4" cy="952.1" r="1.3"/>
<circle cx="422.5" cy="953.9" r="1.3"/>
<circle cx="439.6" cy="955.2" r="1.3"/>
<circle cx="456.7" cy="955.8" r="1.3"/>
<circle cx="473.8" cy="955.9" r="1.3"/>
<circle cx="490.9" cy="955.3" r="1.3"/>
<circle cx="508.0" cy="954.2" r="1.3"/>
<circle cx="525.1" cy="952.5" r="1.3"/>
<circle cx="542.2" cy="950.2" r="1.3"/>
<circle cx="559.3" cy="947.3" r="1.3"/>
<circle cx="576.4" cy="943.8" r="1.3"/>
<circle cx="593.5" cy="939.7" r="1.3"/>
<circle cx="323.8" cy="918.5" r="1.3"/>
<circle cx="340.9" cy="923.3" r="1.3"/>
<circle cx="358.0" cy="927.6" r="1.3"/>
<circle cx="375.1" cy="931.3" r="1.3"/>
<circle cx="392.2" cy="934.3" r="1.3"/>
<circle cx="409.3" cy="936.8" r="1.3"/>
<circle cx="426.4" cy="938.7" r="1.3"/>
<circle cx="443.6" cy="940.0" r="1.3"/>
<circle cx="460.7" cy="940.7" r="1.3"/>
<circle cx="477.8" cy="940.8" r="1.3"/>
<circle cx="494.9" cy="940.3" r="1.3"/>
<circle cx="512.0" cy="939.3" r="1.3"/>
<circle cx="529.1" cy="937.6" r="1.3"/>
<circle cx="546.2" cy="935.3" r="1.3"/>
<circle cx="563.3" cy="932.5" r="1.3"/>
<circle cx="580.4" cy="929.0" r="1.3"/>
<circle cx="310.7" cy="897.9" r="1.3"/>
<circle cx="327.8" cy="903.4" r="1.3"/>
<circle cx="344.9" cy="908.3" r="1.3"/>
<circle cx="362.0" cy="912.6" r="1.3"/>
<circle cx="379.1" cy="916.3" r="1.3"/>
<circle cx="396.2" cy="919.4" r="1.3"/>
<circle cx="413.3" cy="922.0" r="1.3"/>
<circle cx="430.4" cy="923.9" r="1.3"/>
<circle cx="447.5" cy="925.3" r="1.3"/>
<circle cx="464.6" cy="926.0" r="1.3"/>
<circle cx="481.7" cy="926.2" r="1.3"/>
<circle cx="498.8" cy="925.7" r="1.3"/>
<circle cx="515.9" cy="924.7" r="1.3"/>
<circle cx="533.0" cy="923.1" r="1.3"/>
<circle cx="550.1" cy="920.9" r="1.3"/>
<circle cx="567.3" cy="918.1" r="1.3"/>
<circle cx="297.5" cy="877.0" r="1.3"/>
<circle cx="314.6" cy="883.1" r="1.3"/>
<circle cx="331.7" cy="888.7" r="1.3"/>
<circle cx="348.9" cy="893.6" r="1.3"/>
<circle cx="366.0" cy="898.0" r="1.3"/>
<circle cx="383.1" cy="901.8" r="1.3"/>
<circle cx="400.2" cy="904.9" r="1.3"/>
<circle cx="417.3" cy="907.5" r="1.3"/>
<circle cx="434.4" cy="909.5" r="1.3"/>
<circle cx="451.5" cy="910.9" r="1.3"/>
<circle cx="468.6" cy="911.7" r="1.3"/>
<circle cx="485.7" cy="911.9" r="1.3"/>
<circle cx="502.8" cy="911.5" r="1.3"/>
<circle cx="519.9" cy="910.5" r="1.3"/>
<circle cx="537.0" cy="909.0" r="1.3"/>
<circle cx="554.1" cy="906.8" r="1.3"/>
<circle cx="284.4" cy="855.8" r="1.3"/>
<circle cx="301.5" cy="862.5" r="1.3"/>
<circle cx="318.6" cy="868.7" r="1.3"/>
<circle cx="335.7" cy="874.3" r="1.3"/>
<circle cx="352.8" cy="879.4" r="1.3"/>
<circle cx="369.9" cy="883.8" r="1.3"/>
<circle cx="387.0" cy="887.6" r="1.3"/>
<circle cx="404.1" cy="890.8" r="1.3"/>
<circle cx="421.2" cy="893.4" r="1.3"/>
<circle cx="438.3" cy="895.5" r="1.3"/>
<circle cx="455.4" cy="896.9" r="1.3"/>
<circle cx="472.6" cy="897.8" r="1.3"/>
<circle cx="489.7" cy="898.0" r="1.3"/>
<circle cx="506.8" cy="897.7" r="1.3"/>
<circle cx="523.9" cy="896.8" r="1.3"/>
<circle cx="541.0" cy="895.3" r="1.3"/>
</g>
<circle cx="441.3" cy="1193.9" r="1.1" fill="#000" fill-opacity="0.35"/>
<circle cx="791.7" cy="1096.5" r="1.1" fill="#000" fill-opacity="0.2"/>
<circle cx="791.7" cy="824.3" r="1.1" fill="#000" fill-opacity="0.3"/>
<circle cx="397.5" cy="1173.0" r="1.1" fill="#000" fill-opacity="0.35"/>
<circle cx="747.9" cy="1075.6" r="1.1" fill="#000" fill-opacity="0.2"/>
<circle cx="747.9" cy="803.2" r="1.1" fill="#000" fill-opacity="0.3"/>
<circle cx="331.8" cy="1141.8" r="1.1" fill="#000" fill-opacity="0.35"/>
<circle cx="682.2" cy="1044.4" r="1.1" fill="#000" fill-opacity="0.2"/>
<circle cx="682.2" cy="771.6" r="1.1" fill="#000" fill-opacity="0.3"/>
<circle cx="266.1" cy="1110.5" r="1.1" fill="#000" fill-opacity="0.35"/>
<circle cx="616.5" cy="1013.1" r="1.1" fill="#000" fill-opacity="0.2"/>
<circle cx="616.5" cy="739.9" r="1.1" fill="#000" fill-opacity="0.3"/>
<circle cx="222.3" cy="1089.6" r="1.1" fill="#000" fill-opacity="0.35"/>
<circle cx="572.7" cy="992.2" r="1.1" fill="#000" fill-opacity="0.2"/>
<circle cx="572.7" cy="718.8" r="1.1" fill="#000" fill-opacity="0.3"/>
<circle cx="507.7" cy="1198.8" r="1.1" fill="#000" fill-opacity="0.35"/>
<circle cx="235.8" cy="1069.4" r="1.1" fill="#000" fill-opacity="0.2"/>
<circle cx="235.8" cy="795.9" r="1.1" fill="#000" fill-opacity="0.3"/>
<circle cx="566.1" cy="1182.6" r="1.1" fill="#000" fill-opacity="0.35"/>
<circle cx="294.2" cy="1053.1" r="1.1" fill="#000" fill-opacity="0.2"/>
<circle cx="294.2" cy="779.6" r="1.1" fill="#000" fill-opacity="0.3"/>
<circle cx="651.7" cy="1158.8" r="1.1" fill="#000" fill-opacity="0.35"/>
<circle cx="379.8" cy="1029.4" r="1.1" fill="#000" fill-opacity="0.2"/>
<circle cx="379.8" cy="755.9" r="1.1" fill="#000" fill-opacity="0.3"/>
<circle cx="737.2" cy="1135.0" r="1.1" fill="#000" fill-opacity="0.35"/>
<circle cx="465.3" cy="1005.6" r="1.1" fill="#000" fill-opacity="0.2"/>
<circle cx="465.3" cy="732.1" r="1.1" fill="#000" fill-opacity="0.3"/>
<circle cx="795.6" cy="1118.8" r="1.1" fill="#000" fill-opacity="0.35"/>
<circle cx="523.7" cy="989.3" r="1.1" fill="#000" fill-opacity="0.2"/>
<circle cx="523.7" cy="715.8" r="1.1" fill="#000" fill-opacity="0.3"/>
<circle cx="201.2" cy="1074.1" r="1.1" fill="#000" fill-opacity="0.35"/>
<circle cx="813.6" cy="1106.9" r="1.1" fill="#000" fill-opacity="0.3"/>
<circle cx="550.8" cy="981.8" r="1.1" fill="#000" fill-opacity="0.15"/>
<circle cx="201.2" cy="1005.7" r="1.1" fill="#000" fill-opacity="0.35"/>
<circle cx="813.6" cy="1038.9" r="1.1" fill="#000" fill-opacity="0.3"/>
<circle cx="550.8" cy="913.4" r="1.1" fill="#000" fill-opacity="0.15"/>
<circle cx="201.2" cy="937.4" r="1.1" fill="#000" fill-opacity="0.35"/>
<circle cx="813.6" cy="970.9" r="1.1" fill="#000" fill-opacity="0.3"/>
<circle cx="550.8" cy="845.1" r="1.1" fill="#000" fill-opacity="0.15"/>
<circle cx="201.2" cy="869.0" r="1.1" fill="#000" fill-opacity="0.35"/>
<circle cx="813.6" cy="902.8" r="1.1" fill="#000" fill-opacity="0.3"/>
<circle cx="550.8" cy="776.7" r="1.1" fill="#000" fill-opacity="0.15"/>
<circle cx="201.2" cy="800.6" r="1.1" fill="#000" fill-opacity="0.35"/>
<circle cx="813.6" cy="834.8" r="1.1" fill="#000" fill-opacity="0.3"/>
<circle cx="550.8" cy="708.3" r="1.1" fill="#000" fill-opacity="0.15"/>
<rect x="382.0" y="1201.9" width="52.8" height="21.7" fill="#fff"/>
<text x="434.7" y="1223.1" font-size="30.5" text-anchor="end" font-weight="bold" stroke="#0a0a0a" stroke-width="0.45">0.13</text>
<rect x="338.1" y="1181.1" width="52.8" height="21.7" fill="#fff"/>
<text x="390.9" y="1202.2" font-size="30.5" text-anchor="end" font-weight="bold" stroke="#0a0a0a" stroke-width="0.45">0.20</text>
<rect x="272.4" y="1149.8" width="52.8" height="21.7" fill="#fff"/>
<text x="325.2" y="1171" font-size="30.5" text-anchor="end" font-weight="bold" stroke="#0a0a0a" stroke-width="0.45">0.30</text>
<rect x="206.7" y="1118.5" width="52.8" height="21.7" fill="#fff"/>
<text x="259.5" y="1139.7" font-size="30.5" text-anchor="end" font-weight="bold" stroke="#0a0a0a" stroke-width="0.45">0.40</text>
<rect x="162.9" y="1097.7" width="52.8" height="21.7" fill="#fff"/>
<text x="215.7" y="1118.8" font-size="30.5" text-anchor="end" font-weight="bold" stroke="#0a0a0a" stroke-width="0.45">0.46</text>
<text x="509" y="1228" font-size="30.5" text-anchor="start" font-weight="bold" stroke="#0a0a0a" stroke-width="0.45">186</text>
<text x="567.4" y="1211.8" font-size="30.5" text-anchor="start" font-weight="bold" stroke="#0a0a0a" stroke-width="0.45">200</text>
<text x="653" y="1188" font-size="30.5" text-anchor="start" font-weight="bold" stroke="#0a0a0a" stroke-width="0.45">220</text>
<text x="738.5" y="1164.2" font-size="30.5" text-anchor="start" font-weight="bold" stroke="#0a0a0a" stroke-width="0.45">240</text>
<text x="796.9" y="1148" font-size="30.5" text-anchor="start" font-weight="bold" stroke="#0a0a0a" stroke-width="0.45">254</text>
<text x="195.1" y="1083.1" font-size="30.5" text-anchor="end" font-weight="bold" stroke="#0a0a0a" stroke-width="0.45">0.2</text>
<text x="195.1" y="1014.7" font-size="30.5" text-anchor="end" font-weight="bold" stroke="#0a0a0a" stroke-width="0.45">0.25</text>
<text x="195.1" y="946.3" font-size="30.5" text-anchor="end" font-weight="bold" stroke="#0a0a0a" stroke-width="0.45">0.3</text>
<text x="195.1" y="877.9" font-size="30.5" text-anchor="end" font-weight="bold" stroke="#0a0a0a" stroke-width="0.45">0.35</text>
<text x="195.1" y="809.6" font-size="30.5" text-anchor="end" font-weight="bold" stroke="#0a0a0a" stroke-width="0.45">0.4</text>
<text x="42" y="943.6" font-size="38.5" text-anchor="middle" font-weight="bold" stroke="#0a0a0a" stroke-width="0.45">(b)</text>
<text x="125.6" y="942.7" font-size="30" text-anchor="middle" font-weight="bold" stroke="#0a0a0a" stroke-width="0.45" transform="rotate(-90 125.6 942.7)">Ra</text>
<text x="329" y="1240.7" font-size="26.5" text-anchor="middle" font-weight="bold" stroke="#0a0a0a" stroke-width="0.45">f</text>
<text x="642.4" y="1247.5" font-size="29.5" text-anchor="middle" font-weight="bold" stroke="#0a0a0a" stroke-width="0.45" letter-spacing="1">Vc</text>
<g shape-rendering="geometricPrecision">
<rect x="951.2" y="717.9" width="527.8" height="481.4" fill="#282e7a"/>
<path d="M951.2 1169.2L951.2 1185.9L984.2 1179.7L1017.2 1174.6L1050.2 1170.7L1070.5 1169.2L1083.2 1168.3L1116.1 1167.7L1145.8 1169.2L1149.1 1169.4L1182.1 1174.2L1215.1 1182.9L1248.1 1197.1L1251.9 1199.3L1281.1 1199.3L1314.1 1199.3L1347 1199.3L1380 1199.3L1413 1199.3L1446 1199.3L1479 1199.3L1479 1169.2L1479 1139.1L1479 1109L1479 1079L1479 1048.9L1479 1018.8L1479 988.7L1479 958.6L1479 928.5L1479 898.4L1479 868.3L1479 838.2L1479 808.2L1479 778.1L1479 748L1479 717.9L1446 717.9L1413 717.9L1380 717.9L1347 717.9L1314.1 717.9L1281.1 717.9L1248.1 717.9L1215.1 717.9L1182.1 717.9L1149.1 717.9L1116.1 717.9L1083.2 717.9L1050.2 717.9L1017.2 717.9L984.2 717.9L951.2 717.9L951.2 748L951.2 778.1L951.2 808.2L951.2 838.2L951.2 868.3L951.2 898.4L951.2 928.5L951.2 958.6L951.2 988.7L951.2 1018.8L951.2 1048.9L951.2 1079L951.2 1109L951.2 1139.1Z" fill="#2c3593" stroke="#2c3593" stroke-width="0.6" fill-rule="evenodd"/>
<path d="M1435.6 1199.3L1446 1199.3L1479 1199.3L1479 1169.2L1479 1139.1L1479 1109L1479 1079L1479 1048.9L1479 1018.8L1479 988.7L1479 958.6L1479 928.5L1479 898.4L1479 868.3L1479 838.2L1479 808.2L1479 778.1L1479 748L1479 717.9L1446 717.9L1413 717.9L1380 717.9L1347 717.9L1314.1 717.9L1281.1 717.9L1248.1 717.9L1215.1 717.9L1182.1 717.9L1149.1 717.9L1116.1 717.9L1083.2 717.9L1050.2 717.9L1017.2 717.9L984.2 717.9L951.2 717.9L951.2 748L951.2 778.1L951.2 808.2L951.2 838.2L951.2 868.3L951.2 898.4L951.2 928.5L951.2 958.6L951.2 988.7L951.2 1018.8L951.2 1048.9L951.2 1079L951.2 1109L951.2 1114.3L969.2 1109L984.2 1104.5L1017.2 1095.3L1050.2 1086.6L1082.3 1079L1083.2 1078.7L1116.1 1071.9L1149.1 1066.2L1182.1 1061.8L1215.1 1059.1L1248.1 1058.6L1281.1 1061L1314.1 1067.4L1345.8 1079L1347 1079.5L1380 1101.5L1387.8 1109L1411.3 1139.1L1413 1142L1425.7 1169.2Z" fill="#3c4cac" stroke="#3c4cac" stroke-width="0.6" fill-rule="evenodd"/>
<path d="M951.2 1018.8L951.2 1046.7L984.2 1033.9L1017.2 1021.1L1023.6 1018.8L1050.2 1008.8L1083.2 996.7L1106 988.7L1116.1 985L1149.1 973.8L1182.1 963.1L1197.2 958.6L1215.1 953L1248.1 943.8L1281.1 935.4L1312.4 928.5L1314.1 928.1L1347 922.6L1380 919L1413 918.2L1446 921.4L1471.6 928.5L1479 931.2L1479 928.5L1479 898.4L1479 868.3L1479 838.2L1479 808.2L1479 778.1L1479 748L1479 717.9L1446 717.9L1413 717.9L1380 717.9L1347 717.9L1314.1 717.9L1281.1 717.9L1248.1 717.9L1215.1 717.9L1182.1 717.9L1149.1 717.9L1116.1 717.9L1083.2 717.9L1050.2 717.9L1017.2 717.9L984.2 717.9L951.2 717.9L951.2 748L951.2 778.1L951.2 808.2L951.2 838.2L951.2 868.3L951.2 898.4L951.2 928.5L951.2 958.6L951.2 988.7Z" fill="#61cbf0" stroke="#61cbf0" stroke-width="0.6" fill-rule="evenodd"/>
<path d="M951.2 958.6L951.2 982.6L984.2 967L1002.3 958.6L1017.2 951.5L1050.2 936L1066.3 928.5L1083.2 920.5L1116.1 905L1130.5 898.4L1149.1 889.6L1182.1 874.2L1194.9 868.3L1215.1 858.8L1248.1 843.5L1259.8 838.2L1281.1 828.3L1314.1 813.1L1325.2 808.2L1347 798L1380 783L1391.4 778.1L1413 768.2L1446 753.5L1459 748L1479 739L1479 717.9L1446 717.9L1413 717.9L1380 717.9L1347 717.9L1314.1 717.9L1281.1 717.9L1248.1 717.9L1215.1 717.9L1182.1 717.9L1149.1 717.9L1116.1 717.9L1083.2 717.9L1050.2 717.9L1017.2 717.9L984.2 717.9L951.2 717.9L951.2 748L951.2 778.1L951.2 808.2L951.2 838.2L951.2 868.3L951.2 898.4L951.2 928.5Z" fill="#80cd80" stroke="#80cd80" stroke-width="0.6" fill-rule="evenodd"/>
<path d="M951.2 898.4L951.2 921.3L984.2 903.4L993.5 898.4L1017.2 885.5L1048.2 868.3L1050.2 867.2L1083.2 849L1102.4 838.2L1116.1 830.4L1149.1 811.6L1155.2 808.2L1182.1 792.5L1206.9 778.1L1215.1 773.1L1248.1 753.4L1257.2 748L1281.1 733.3L1305.9 717.9L1281.1 717.9L1248.1 717.9L1215.1 717.9L1182.1 717.9L1149.1 717.9L1116.1 717.9L1083.2 717.9L1050.2 717.9L1017.2 717.9L984.2 717.9L951.2 717.9L951.2 748L951.2 778.1L951.2 808.2L951.2 838.2L951.2 868.3Z" fill="#cde32e" stroke="#cde32e" stroke-width="0.6" fill-rule="evenodd"/>
<path d="M951.2 838.2L951.2 862.5L984.2 842.7L991.6 838.2L1017.2 822.6L1040.6 808.2L1050.2 802.1L1083.2 781.4L1088.4 778.1L1116.1 760.3L1135.1 748L1149.1 738.7L1180.2 717.9L1149.1 717.9L1116.1 717.9L1083.2 717.9L1050.2 717.9L1017.2 717.9L984.2 717.9L951.2 717.9L951.2 748L951.2 778.1L951.2 808.2Z" fill="#f2821c" stroke="#f2821c" stroke-width="0.6" fill-rule="evenodd"/>
<path d="M951.2 778.1L951.2 806L984.2 784.4L993.9 778.1L1017.2 762.5L1038.7 748L1050.2 740.1L1082.1 717.9L1050.2 717.9L1017.2 717.9L984.2 717.9L951.2 717.9L951.2 748Z" fill="#ec2824" stroke="#ec2824" stroke-width="0.6" fill-rule="evenodd"/>
<path d="M951.2 748L951.2 751.5L956.3 748L984.2 728.4L999 717.9L984.2 717.9L951.2 717.9Z" fill="#7d1a1e" stroke="#7d1a1e" stroke-width="0.6" fill-rule="evenodd"/>
</g>
<path d="M951.2 717.9H1479V1199.3" fill="none" stroke="#223" stroke-opacity="0.5" stroke-width="0.9"/>
<path d="M951.2 717.9V1199.3H1479" fill="none" stroke="#223" stroke-opacity="0.12" stroke-width="0.8"/>
<circle cx="951.2" cy="1195.3" r="1" fill="#000" fill-opacity="0.35"/>
<circle cx="951.2" cy="721.9" r="1" fill="#000" fill-opacity="0.35"/>
<circle cx="1063.6" cy="1195.3" r="1" fill="#000" fill-opacity="0.35"/>
<circle cx="1063.6" cy="721.9" r="1" fill="#000" fill-opacity="0.35"/>
<circle cx="1228.3" cy="1195.3" r="1" fill="#000" fill-opacity="0.35"/>
<circle cx="1228.3" cy="721.9" r="1" fill="#000" fill-opacity="0.35"/>
<circle cx="1393.2" cy="1195.3" r="1" fill="#000" fill-opacity="0.35"/>
<circle cx="1393.2" cy="721.9" r="1" fill="#000" fill-opacity="0.35"/>
<circle cx="955.2" cy="796" r="1" fill="#000" fill-opacity="0.35"/>
<circle cx="1475" cy="796" r="1" fill="#000" fill-opacity="0.35"/>
<circle cx="955.2" cy="947.3" r="1" fill="#000" fill-opacity="0.35"/>
<circle cx="1475" cy="947.3" r="1" fill="#000" fill-opacity="0.35"/>
<circle cx="955.2" cy="1098.6" r="1" fill="#000" fill-opacity="0.35"/>
<circle cx="1475" cy="1098.6" r="1" fill="#000" fill-opacity="0.35"/>
<circle cx="955.2" cy="1199.3" r="1" fill="#000" fill-opacity="0.35"/>
<circle cx="1475" cy="1199.3" r="1" fill="#000" fill-opacity="0.35"/>
<g shape-rendering="crispEdges">
<rect x="1499.6" y="718.00" width="26.9" height="481.80" fill="#831b1f"/>
<rect x="1499.6" y="725.53" width="26.9" height="474.27" fill="#8f1c20"/>
<rect x="1499.6" y="733.06" width="26.9" height="466.74" fill="#9a1d21"/>
<rect x="1499.6" y="740.58" width="26.9" height="459.22" fill="#a61e23"/>
<rect x="1499.6" y="748.11" width="26.9" height="451.69" fill="#b42024"/>
<rect x="1499.6" y="755.64" width="26.9" height="444.16" fill="#c32225"/>
<rect x="1499.6" y="763.17" width="26.9" height="436.63" fill="#d22525"/>
<rect x="1499.6" y="770.70" width="26.9" height="429.10" fill="#dc2626"/>
<rect x="1499.6" y="778.23" width="26.9" height="421.57" fill="#e12825"/>
<rect x="1499.6" y="785.75" width="26.9" height="414.05" fill="#e62925"/>
<rect x="1499.6" y="793.28" width="26.9" height="406.52" fill="#ea2a24"/>
<rect x="1499.6" y="800.81" width="26.9" height="398.99" fill="#ed3123"/>
<rect x="1499.6" y="808.34" width="26.9" height="391.46" fill="#ee3d21"/>
<rect x="1499.6" y="815.87" width="26.9" height="383.93" fill="#ef491f"/>
<rect x="1499.6" y="823.39" width="26.9" height="376.41" fill="#f0571e"/>
<rect x="1499.6" y="830.92" width="26.9" height="368.88" fill="#f1661d"/>
<rect x="1499.6" y="838.45" width="26.9" height="361.35" fill="#f2761c"/>
<rect x="1499.6" y="845.98" width="26.9" height="353.82" fill="#f2851c"/>
<rect x="1499.6" y="853.51" width="26.9" height="346.29" fill="#f2931a"/>
<rect x="1499.6" y="861.03" width="26.9" height="338.77" fill="#f1a019"/>
<rect x="1499.6" y="868.56" width="26.9" height="331.24" fill="#f0b41a"/>
<rect x="1499.6" y="876.09" width="26.9" height="323.71" fill="#efcb1d"/>
<rect x="1499.6" y="883.62" width="26.9" height="316.18" fill="#efe220"/>
<rect x="1499.6" y="891.15" width="26.9" height="308.65" fill="#eaed24"/>
<rect x="1499.6" y="898.67" width="26.9" height="301.12" fill="#e0e927"/>
<rect x="1499.6" y="906.20" width="26.9" height="293.60" fill="#d7e62a"/>
<rect x="1499.6" y="913.73" width="26.9" height="286.07" fill="#cee32e"/>
<rect x="1499.6" y="921.26" width="26.9" height="278.54" fill="#c2e035"/>
<rect x="1499.6" y="928.79" width="26.9" height="271.01" fill="#b6dd3d"/>
<rect x="1499.6" y="936.32" width="26.9" height="263.48" fill="#aada45"/>
<rect x="1499.6" y="943.84" width="26.9" height="255.96" fill="#9fd74c"/>
<rect x="1499.6" y="951.37" width="26.9" height="248.43" fill="#96d459"/>
<rect x="1499.6" y="958.90" width="26.9" height="240.90" fill="#8ed266"/>
<rect x="1499.6" y="966.43" width="26.9" height="233.37" fill="#86cf74"/>
<rect x="1499.6" y="973.96" width="26.9" height="225.84" fill="#7ecd81"/>
<rect x="1499.6" y="981.48" width="26.9" height="218.32" fill="#7cce91"/>
<rect x="1499.6" y="989.01" width="26.9" height="210.79" fill="#7acfa0"/>
<rect x="1499.6" y="996.54" width="26.9" height="203.26" fill="#78cfb0"/>
<rect x="1499.6" y="1004.07" width="26.9" height="195.73" fill="#76d0bf"/>
<rect x="1499.6" y="1011.60" width="26.9" height="188.20" fill="#72cfcc"/>
<rect x="1499.6" y="1019.12" width="26.9" height="180.67" fill="#6eced8"/>
<rect x="1499.6" y="1026.65" width="26.9" height="173.15" fill="#69cce1"/>
<rect x="1499.6" y="1034.18" width="26.9" height="165.62" fill="#64c9e8"/>
<rect x="1499.6" y="1041.71" width="26.9" height="158.09" fill="#5fc6ee"/>
<rect x="1499.6" y="1049.24" width="26.9" height="150.56" fill="#5ab3e5"/>
<rect x="1499.6" y="1056.77" width="26.9" height="143.03" fill="#569fdb"/>
<rect x="1499.6" y="1064.29" width="26.9" height="135.51" fill="#518ed3"/>
<rect x="1499.6" y="1071.82" width="26.9" height="127.98" fill="#4d83cd"/>
<rect x="1499.6" y="1079.35" width="26.9" height="120.45" fill="#4978c7"/>
<rect x="1499.6" y="1086.88" width="26.9" height="112.92" fill="#466dc1"/>
<rect x="1499.6" y="1094.41" width="26.9" height="105.39" fill="#4364bb"/>
<rect x="1499.6" y="1101.93" width="26.9" height="97.87" fill="#405bb5"/>
<rect x="1499.6" y="1109.46" width="26.9" height="90.34" fill="#3e52af"/>
<rect x="1499.6" y="1116.99" width="26.9" height="82.81" fill="#3b4bab"/>
<rect x="1499.6" y="1124.52" width="26.9" height="75.28" fill="#3948a8"/>
<rect x="1499.6" y="1132.05" width="26.9" height="67.75" fill="#3745a6"/>
<rect x="1499.6" y="1139.58" width="26.9" height="60.22" fill="#3441a3"/>
<rect x="1499.6" y="1147.10" width="26.9" height="52.70" fill="#323ea0"/>
<rect x="1499.6" y="1154.63" width="26.9" height="45.17" fill="#313c9d"/>
<rect x="1499.6" y="1162.16" width="26.9" height="37.64" fill="#2f3999"/>
<rect x="1499.6" y="1169.69" width="26.9" height="30.11" fill="#2d3695"/>
<rect x="1499.6" y="1177.22" width="26.9" height="22.58" fill="#2c3491"/>
<rect x="1499.6" y="1184.74" width="26.9" height="15.06" fill="#2a3187"/>
<rect x="1499.6" y="1192.27" width="26.9" height="7.53" fill="#292e7d"/>
</g>
<rect x="1499.6" y="718" width="26.9" height="481.8" fill="none" stroke="#333" stroke-opacity="0.3" stroke-width="0.8"/>
<circle cx="1504.6" cy="718" r="1" fill="#000" fill-opacity="0.3"/>
<circle cx="1522.5" cy="718" r="1" fill="#000" fill-opacity="0.3"/>
<circle cx="1504.6" cy="783.8" r="1" fill="#000" fill-opacity="0.3"/>
<circle cx="1522.5" cy="783.8" r="1" fill="#000" fill-opacity="0.3"/>
<circle cx="1504.6" cy="850.2" r="1" fill="#000" fill-opacity="0.3"/>
<circle cx="1522.5" cy="850.2" r="1" fill="#000" fill-opacity="0.3"/>
<circle cx="1504.6" cy="916" r="1" fill="#000" fill-opacity="0.3"/>
<circle cx="1522.5" cy="916" r="1" fill="#000" fill-opacity="0.3"/>
<circle cx="1504.6" cy="982" r="1" fill="#000" fill-opacity="0.3"/>
<circle cx="1522.5" cy="982" r="1" fill="#000" fill-opacity="0.3"/>
<circle cx="1504.6" cy="1046.8" r="1" fill="#000" fill-opacity="0.3"/>
<circle cx="1522.5" cy="1046.8" r="1" fill="#000" fill-opacity="0.3"/>
<circle cx="1504.6" cy="1112.8" r="1" fill="#000" fill-opacity="0.3"/>
<circle cx="1522.5" cy="1112.8" r="1" fill="#000" fill-opacity="0.3"/>
<circle cx="1504.6" cy="1179.9" r="1" fill="#000" fill-opacity="0.3"/>
<circle cx="1522.5" cy="1179.9" r="1" fill="#000" fill-opacity="0.3"/>
<text x="950.6" y="1227.5" font-size="26.5" text-anchor="middle" font-weight="bold" stroke="#0a0a0a" stroke-width="0.45" letter-spacing="0.3">186</text>
<text x="1063" y="1227.5" font-size="26.5" text-anchor="middle" font-weight="bold" stroke="#0a0a0a" stroke-width="0.45" letter-spacing="0.3">200</text>
<text x="1227.7" y="1227.5" font-size="26.5" text-anchor="middle" font-weight="bold" stroke="#0a0a0a" stroke-width="0.45" letter-spacing="0.3">220</text>
<text x="1392.6" y="1227.5" font-size="26.5" text-anchor="middle" font-weight="bold" stroke="#0a0a0a" stroke-width="0.45" letter-spacing="0.3">240</text>
<text x="947.7" y="804.9" font-size="26.5" text-anchor="end" font-weight="bold" stroke="#0a0a0a" stroke-width="0.45" letter-spacing="0.7">0.40</text>
<text x="947.7" y="956.2" font-size="26.5" text-anchor="end" font-weight="bold" stroke="#0a0a0a" stroke-width="0.45" letter-spacing="0.7">0.30</text>
<text x="947.7" y="1107.5" font-size="26.5" text-anchor="end" font-weight="bold" stroke="#0a0a0a" stroke-width="0.45" letter-spacing="0.7">0.20</text>
<text x="947.7" y="1208.2" font-size="26.5" text-anchor="end" font-weight="bold" stroke="#0a0a0a" stroke-width="0.45" letter-spacing="0.7">0.13</text>
<text x="1530.1" y="727" font-size="26.5" text-anchor="start" font-weight="bold" stroke="#0a0a0a" stroke-width="0.45" letter-spacing="0.2">0.36</text>
<text x="1530.1" y="792.8" font-size="26.5" text-anchor="start" font-weight="bold" stroke="#0a0a0a" stroke-width="0.45" letter-spacing="0.2">0.34</text>
<text x="1530.1" y="859.2" font-size="26.5" text-anchor="start" font-weight="bold" stroke="#0a0a0a" stroke-width="0.45" letter-spacing="0.2">0.32</text>
<text x="1530.1" y="925" font-size="26.5" text-anchor="start" font-weight="bold" stroke="#0a0a0a" stroke-width="0.45" letter-spacing="0.2">0.3</text>
<text x="1530.1" y="991" font-size="26.5" text-anchor="start" font-weight="bold" stroke="#0a0a0a" stroke-width="0.45" letter-spacing="0.2">0.28</text>
<text x="1530.1" y="1055.8" font-size="26.5" text-anchor="start" font-weight="bold" stroke="#0a0a0a" stroke-width="0.45" letter-spacing="0.2">0.26</text>
<text x="1530.1" y="1121.8" font-size="26.5" text-anchor="start" font-weight="bold" stroke="#0a0a0a" stroke-width="0.45" letter-spacing="0.2">0.24</text>
<text x="1530.1" y="1188.9" font-size="26.5" text-anchor="start" font-weight="bold" stroke="#0a0a0a" stroke-width="0.45" letter-spacing="0.2">0.22</text>
<text x="884" y="958.8" font-size="26.5" text-anchor="middle" font-weight="bold" stroke="#0a0a0a" stroke-width="0.45" transform="rotate(-90 884 958.8)">f</text>
<text x="1213.1" y="1253.5" font-size="26.5" text-anchor="middle" font-weight="bold" stroke="#0a0a0a" stroke-width="0.45" letter-spacing="1">Vc</text>
<g>
<line x1="433.1" y1="1836.3" x2="773.8" y2="1741.8" stroke="#000" stroke-opacity="0.05" stroke-width="0.7"/>
<line x1="773.8" y1="1741.8" x2="773.8" y2="1471.7" stroke="#000" stroke-opacity="0.05" stroke-width="0.7"/>
<line x1="389.3" y1="1815.9" x2="730" y2="1721.4" stroke="#000" stroke-opacity="0.05" stroke-width="0.7"/>
<line x1="730" y1="1721.4" x2="730" y2="1450.7" stroke="#000" stroke-opacity="0.05" stroke-width="0.7"/>
<line x1="323.6" y1="1785.2" x2="664.3" y2="1690.8" stroke="#000" stroke-opacity="0.05" stroke-width="0.7"/>
<line x1="664.3" y1="1690.8" x2="664.3" y2="1419.3" stroke="#000" stroke-opacity="0.05" stroke-width="0.7"/>
<line x1="257.9" y1="1754.6" x2="598.6" y2="1660.1" stroke="#000" stroke-opacity="0.05" stroke-width="0.7"/>
<line x1="598.6" y1="1660.1" x2="598.6" y2="1388" stroke="#000" stroke-opacity="0.05" stroke-width="0.7"/>
<line x1="214.1" y1="1734.2" x2="554.8" y2="1639.7" stroke="#000" stroke-opacity="0.05" stroke-width="0.7"/>
<line x1="554.8" y1="1639.7" x2="554.8" y2="1367" stroke="#000" stroke-opacity="0.05" stroke-width="0.7"/>
<line x1="219.2" y1="1716.5" x2="482" y2="1839" stroke="#000" stroke-opacity="0.05" stroke-width="0.7"/>
<line x1="219.2" y1="1716.5" x2="219.2" y2="1446" stroke="#000" stroke-opacity="0.05" stroke-width="0.7"/>
<line x1="277.4" y1="1700.4" x2="540.2" y2="1822.9" stroke="#000" stroke-opacity="0.05" stroke-width="0.7"/>
<line x1="277.4" y1="1700.4" x2="277.4" y2="1429.4" stroke="#000" stroke-opacity="0.05" stroke-width="0.7"/>
<line x1="362.6" y1="1676.8" x2="625.4" y2="1799.2" stroke="#000" stroke-opacity="0.05" stroke-width="0.7"/>
<line x1="362.6" y1="1676.8" x2="362.6" y2="1405.2" stroke="#000" stroke-opacity="0.05" stroke-width="0.7"/>
<line x1="447.7" y1="1653.1" x2="710.5" y2="1775.6" stroke="#000" stroke-opacity="0.05" stroke-width="0.7"/>
<line x1="447.7" y1="1653.1" x2="447.7" y2="1380.9" stroke="#000" stroke-opacity="0.05" stroke-width="0.7"/>
<line x1="505.9" y1="1637" x2="768.7" y2="1759.5" stroke="#000" stroke-opacity="0.05" stroke-width="0.7"/>
<line x1="505.9" y1="1637" x2="505.9" y2="1364.3" stroke="#000" stroke-opacity="0.05" stroke-width="0.7"/>
<line x1="192.2" y1="1724" x2="532.9" y2="1629.5" stroke="#000" stroke-opacity="0.05" stroke-width="0.7"/>
<line x1="532.9" y1="1629.5" x2="795.7" y2="1752" stroke="#000" stroke-opacity="0.05" stroke-width="0.7"/>
<line x1="192.2" y1="1633.9" x2="532.9" y2="1538.5" stroke="#000" stroke-opacity="0.05" stroke-width="0.7"/>
<line x1="532.9" y1="1538.5" x2="795.7" y2="1662" stroke="#000" stroke-opacity="0.05" stroke-width="0.7"/>
<line x1="192.2" y1="1543.8" x2="532.9" y2="1447.6" stroke="#000" stroke-opacity="0.05" stroke-width="0.7"/>
<line x1="532.9" y1="1447.6" x2="795.7" y2="1572.1" stroke="#000" stroke-opacity="0.05" stroke-width="0.7"/>
<line x1="192.2" y1="1453.7" x2="532.9" y2="1356.6" stroke="#000" stroke-opacity="0.05" stroke-width="0.7"/>
<line x1="532.9" y1="1356.6" x2="795.7" y2="1482.1" stroke="#000" stroke-opacity="0.05" stroke-width="0.7"/>
<line x1="192.2" y1="1724" x2="455" y2="1846.5" stroke="#000" stroke-opacity="0.21" stroke-width="0.8"/>
<line x1="455" y1="1846.5" x2="795.7" y2="1752" stroke="#000" stroke-opacity="0.21" stroke-width="0.8"/>
<line x1="192.2" y1="1724" x2="192.2" y2="1453.7" stroke="#000" stroke-opacity="0.21" stroke-width="0.8"/>
<line x1="192.2" y1="1453.7" x2="532.9" y2="1356.6" stroke="#000" stroke-opacity="0.168" stroke-width="0.8"/>
<line x1="532.9" y1="1356.6" x2="795.7" y2="1482.1" stroke="#000" stroke-opacity="0.168" stroke-width="0.8"/>
<line x1="795.7" y1="1752" x2="795.7" y2="1482.1" stroke="#000" stroke-opacity="0.105" stroke-width="0.8"/>
<line x1="532.9" y1="1629.5" x2="532.9" y2="1356.6" stroke="#000" stroke-opacity="0.06999999999999999" stroke-width="0.8"/>
<line x1="192.2" y1="1724" x2="532.9" y2="1629.5" stroke="#000" stroke-opacity="0.06999999999999999" stroke-width="0.8"/>
<line x1="532.9" y1="1629.5" x2="795.7" y2="1752" stroke="#000" stroke-opacity="0.06999999999999999" stroke-width="0.8"/>
</g>
<polyline points="418.9,1810.0 429.6,1809.8 447.1,1810.5 461.0,1810.9 479.3,1812.8 486.7,1813.5 506.6,1817.8" fill="none" stroke="#2e3796" stroke-opacity="0.16" stroke-width="0.8" stroke-dasharray="1 2"/>
<g fill="#2e3796" fill-opacity="0.42">
<circle cx="418.9" cy="1810.0" r="1.05"/>
<circle cx="429.6" cy="1809.8" r="1.05"/>
<circle cx="447.1" cy="1810.5" r="1.05"/>
<circle cx="461.0" cy="1810.9" r="1.05"/>
<circle cx="479.3" cy="1812.8" r="1.05"/>
<circle cx="486.7" cy="1813.5" r="1.05"/>
<circle cx="506.6" cy="1817.8" r="1.05"/>
</g>
<polyline points="359.4,1782.2 380.5,1779.4 401.5,1776.5 417.0,1774.2 422.3,1773.5 443.2,1770.6 463.9,1767.6 484.2,1764.4 492.8,1763.0 504.6,1761.2 524.7,1758.0 544.5,1754.5 563.9,1750.9 582.8,1747.1 595.9,1744.2 601.4,1743.0 619.5,1738.8 637.0,1734.3 653.7,1729.4 669.6,1724.2" fill="none" stroke="#4c80cb" stroke-opacity="0.16" stroke-width="0.8" stroke-dasharray="1 2"/>
<g fill="#4c80cb" fill-opacity="0.42">
<circle cx="359.4" cy="1782.2" r="1.05"/>
<circle cx="380.5" cy="1779.4" r="1.05"/>
<circle cx="401.5" cy="1776.5" r="1.05"/>
<circle cx="417.0" cy="1774.2" r="1.05"/>
<circle cx="422.3" cy="1773.5" r="1.05"/>
<circle cx="443.2" cy="1770.6" r="1.05"/>
<circle cx="463.9" cy="1767.6" r="1.05"/>
<circle cx="484.2" cy="1764.4" r="1.05"/>
<circle cx="492.8" cy="1763.0" r="1.05"/>
<circle cx="504.6" cy="1761.2" r="1.05"/>
<circle cx="524.7" cy="1758.0" r="1.05"/>
<circle cx="544.5" cy="1754.5" r="1.05"/>
<circle cx="563.9" cy="1750.9" r="1.05"/>
<circle cx="582.8" cy="1747.1" r="1.05"/>
<circle cx="595.9" cy="1744.2" r="1.05"/>
<circle cx="601.4" cy="1743.0" r="1.05"/>
<circle cx="619.5" cy="1738.8" r="1.05"/>
<circle cx="637.0" cy="1734.3" r="1.05"/>
<circle cx="653.7" cy="1729.4" r="1.05"/>
<circle cx="669.6" cy="1724.2" r="1.05"/>
</g>
<polyline points="321.4,1764.5 341.1,1761.0 360.6,1757.5 379.9,1753.8 398.1,1750.2 399.0,1750.0 418.0,1746.2 436.8,1742.3 455.3,1738.3 473.6,1734.1 491.6,1729.8 509.3,1725.4 526.7,1720.9 543.8,1716.2 560.6,1711.3 577.0,1706.4 593.1,1701.2 608.9,1695.9" fill="none" stroke="#7dcd8c" stroke-opacity="0.16" stroke-width="0.8" stroke-dasharray="1 2"/>
<g fill="#7dcd8c" fill-opacity="0.42">
<circle cx="321.4" cy="1764.5" r="1.05"/>
<circle cx="341.1" cy="1761.0" r="1.05"/>
<circle cx="360.6" cy="1757.5" r="1.05"/>
<circle cx="379.9" cy="1753.8" r="1.05"/>
<circle cx="398.1" cy="1750.2" r="1.05"/>
<circle cx="399.0" cy="1750.0" r="1.05"/>
<circle cx="418.0" cy="1746.2" r="1.05"/>
<circle cx="436.8" cy="1742.3" r="1.05"/>
<circle cx="455.3" cy="1738.3" r="1.05"/>
<circle cx="473.6" cy="1734.1" r="1.05"/>
<circle cx="491.6" cy="1729.8" r="1.05"/>
<circle cx="509.3" cy="1725.4" r="1.05"/>
<circle cx="526.7" cy="1720.9" r="1.05"/>
<circle cx="543.8" cy="1716.2" r="1.05"/>
<circle cx="560.6" cy="1711.3" r="1.05"/>
<circle cx="577.0" cy="1706.4" r="1.05"/>
<circle cx="593.1" cy="1701.2" r="1.05"/>
<circle cx="608.9" cy="1695.9" r="1.05"/>
</g>
<polyline points="291.0,1750.4 293.8,1749.8 310.0,1746.6 328.9,1742.7 347.5,1738.7 366.0,1734.7 384.3,1730.5 402.4,1726.3 420.2,1721.9 437.9,1717.5 455.3,1712.9 472.5,1708.3 489.4,1703.5 506.2,1698.7 522.7,1693.7 538.9,1688.6 554.8,1683.3 570.5,1678.0" fill="none" stroke="#eee521" stroke-opacity="0.16" stroke-width="0.8" stroke-dasharray="1 2"/>
<g fill="#eee521" fill-opacity="0.42">
<circle cx="291.0" cy="1750.4" r="1.05"/>
<circle cx="293.8" cy="1749.8" r="1.05"/>
<circle cx="310.0" cy="1746.6" r="1.05"/>
<circle cx="328.9" cy="1742.7" r="1.05"/>
<circle cx="347.5" cy="1738.7" r="1.05"/>
<circle cx="366.0" cy="1734.7" r="1.05"/>
<circle cx="384.3" cy="1730.5" r="1.05"/>
<circle cx="402.4" cy="1726.3" r="1.05"/>
<circle cx="420.2" cy="1721.9" r="1.05"/>
<circle cx="437.9" cy="1717.5" r="1.05"/>
<circle cx="455.3" cy="1712.9" r="1.05"/>
<circle cx="472.5" cy="1708.3" r="1.05"/>
<circle cx="489.4" cy="1703.5" r="1.05"/>
<circle cx="506.2" cy="1698.7" r="1.05"/>
<circle cx="522.7" cy="1693.7" r="1.05"/>
<circle cx="538.9" cy="1688.6" r="1.05"/>
<circle cx="554.8" cy="1683.3" r="1.05"/>
<circle cx="570.5" cy="1678.0" r="1.05"/>
</g>
<polyline points="265.1,1738.3 283.6,1734.2 302.0,1730.2 320.3,1726.0 338.3,1721.8 356.2,1717.4 373.9,1713.0 391.5,1708.5 408.8,1703.9 425.9,1699.3 442.9,1694.5 459.6,1689.6 476.1,1684.6 492.4,1679.6 508.5,1674.4 524.4,1669.1 540.0,1663.8" fill="none" stroke="#e82924" stroke-opacity="0.16" stroke-width="0.8" stroke-dasharray="1 2"/>
<g fill="#e82924" fill-opacity="0.42">
<circle cx="265.1" cy="1738.3" r="1.05"/>
<circle cx="283.6" cy="1734.2" r="1.05"/>
<circle cx="302.0" cy="1730.2" r="1.05"/>
<circle cx="320.3" cy="1726.0" r="1.05"/>
<circle cx="338.3" cy="1721.8" r="1.05"/>
<circle cx="356.2" cy="1717.4" r="1.05"/>
<circle cx="373.9" cy="1713.0" r="1.05"/>
<circle cx="391.5" cy="1708.5" r="1.05"/>
<circle cx="408.8" cy="1703.9" r="1.05"/>
<circle cx="425.9" cy="1699.3" r="1.05"/>
<circle cx="442.9" cy="1694.5" r="1.05"/>
<circle cx="459.6" cy="1689.6" r="1.05"/>
<circle cx="476.1" cy="1684.6" r="1.05"/>
<circle cx="492.4" cy="1679.6" r="1.05"/>
<circle cx="508.5" cy="1674.4" r="1.05"/>
<circle cx="524.4" cy="1669.1" r="1.05"/>
<circle cx="540.0" cy="1663.8" r="1.05"/>
</g>
<g stroke-linejoin="round">
<polygon points="520.5,1444.9 537.6,1441.9 524.4,1417.7 507.4,1420.6" fill="#e12825" stroke="#e12825" stroke-width="0.7"/>
<polygon points="533.7,1468.0 550.7,1464.8 537.6,1441.9 520.5,1444.9" fill="#f0571e" stroke="#f0571e" stroke-width="0.7"/>
<polygon points="503.5,1448.2 520.5,1444.9 507.4,1420.6 490.4,1423.8" fill="#dc2626" stroke="#dc2626" stroke-width="0.7"/>
<polygon points="546.8,1489.8 563.9,1486.5 550.7,1464.8 533.7,1468.0" fill="#f1a019" stroke="#f1a019" stroke-width="0.7"/>
<polygon points="516.7,1471.4 533.7,1468.0 520.5,1444.9 503.5,1448.2" fill="#ef491f" stroke="#ef491f" stroke-width="0.7"/>
<polygon points="486.5,1451.7 503.5,1448.2 490.4,1423.8 473.3,1427.2" fill="#dc2626" stroke="#dc2626" stroke-width="0.7"/>
<polygon points="560.0,1510.3 577.0,1506.9 563.9,1486.5 546.8,1489.8" fill="#e0e927" stroke="#e0e927" stroke-width="0.7"/>
<polygon points="529.8,1493.3 546.8,1489.8 533.7,1468.0 516.7,1471.4" fill="#f1a019" stroke="#f1a019" stroke-width="0.7"/>
<polygon points="499.6,1475.0 516.7,1471.4 503.5,1448.2 486.5,1451.7" fill="#ef491f" stroke="#ef491f" stroke-width="0.7"/>
<polygon points="469.4,1455.5 486.5,1451.7 473.3,1427.2 456.3,1430.8" fill="#dc2626" stroke="#dc2626" stroke-width="0.7"/>
<polygon points="573.1,1529.7 590.1,1526.1 577.0,1506.9 560.0,1510.3" fill="#aada45" stroke="#aada45" stroke-width="0.7"/>
<polygon points="542.9,1514.0 560.0,1510.3 546.8,1489.8 529.8,1493.3" fill="#e0e927" stroke="#e0e927" stroke-width="0.7"/>
<polygon points="512.8,1497.1 529.8,1493.3 516.7,1471.4 499.6,1475.0" fill="#f2931a" stroke="#f2931a" stroke-width="0.7"/>
<polygon points="482.6,1479.0 499.6,1475.0 486.5,1451.7 469.4,1455.5" fill="#ef491f" stroke="#ef491f" stroke-width="0.7"/>
<polygon points="452.4,1459.6 469.4,1455.5 456.3,1430.8 439.3,1434.8" fill="#d22525" stroke="#d22525" stroke-width="0.7"/>
<polygon points="586.2,1547.8 603.3,1544.1 590.1,1526.1 573.1,1529.7" fill="#86cf74" stroke="#86cf74" stroke-width="0.7"/>
<polygon points="556.1,1533.5 573.1,1529.7 560.0,1510.3 542.9,1514.0" fill="#b6dd3d" stroke="#b6dd3d" stroke-width="0.7"/>
<polygon points="525.9,1518.0 542.9,1514.0 529.8,1493.3 512.8,1497.1" fill="#eaed24" stroke="#eaed24" stroke-width="0.7"/>
<polygon points="495.7,1501.2 512.8,1497.1 499.6,1475.0 482.6,1479.0" fill="#f2931a" stroke="#f2931a" stroke-width="0.7"/>
<polygon points="465.5,1483.2 482.6,1479.0 469.4,1455.5 452.4,1459.6" fill="#ee3d21" stroke="#ee3d21" stroke-width="0.7"/>
<polygon points="435.4,1464.0 452.4,1459.6 439.3,1434.8 422.2,1439.0" fill="#d22525" stroke="#d22525" stroke-width="0.7"/>
<polygon points="599.4,1564.6 616.4,1560.8 603.3,1544.1 586.2,1547.8" fill="#7acfa0" stroke="#7acfa0" stroke-width="0.7"/>
<polygon points="569.2,1551.7 586.2,1547.8 573.1,1529.7 556.1,1533.5" fill="#8ed266" stroke="#8ed266" stroke-width="0.7"/>
<polygon points="539.0,1537.6 556.1,1533.5 542.9,1514.0 525.9,1518.0" fill="#b6dd3d" stroke="#b6dd3d" stroke-width="0.7"/>
<polygon points="508.9,1522.2 525.9,1518.0 512.8,1497.1 495.7,1501.2" fill="#eaed24" stroke="#eaed24" stroke-width="0.7"/>
<polygon points="478.7,1505.6 495.7,1501.2 482.6,1479.0 465.5,1483.2" fill="#f2931a" stroke="#f2931a" stroke-width="0.7"/>
<polygon points="448.5,1487.7 465.5,1483.2 452.4,1459.6 435.4,1464.0" fill="#ee3d21" stroke="#ee3d21" stroke-width="0.7"/>
<polygon points="418.3,1468.6 435.4,1464.0 422.2,1439.0 405.2,1443.5" fill="#d22525" stroke="#d22525" stroke-width="0.7"/>
<polygon points="612.5,1580.3 629.6,1576.3 616.4,1560.8 599.4,1564.6" fill="#6eced8" stroke="#6eced8" stroke-width="0.7"/>
<polygon points="582.4,1568.7 599.4,1564.6 586.2,1547.8 569.2,1551.7" fill="#7acfa0" stroke="#7acfa0" stroke-width="0.7"/>
<polygon points="552.2,1555.9 569.2,1551.7 556.1,1533.5 539.0,1537.6" fill="#8ed266" stroke="#8ed266" stroke-width="0.7"/>
<polygon points="522.0,1541.9 539.0,1537.6 525.9,1518.0 508.9,1522.2" fill="#b6dd3d" stroke="#b6dd3d" stroke-width="0.7"/>
<polygon points="491.8,1526.7 508.9,1522.2 495.7,1501.2 478.7,1505.6" fill="#eaed24" stroke="#eaed24" stroke-width="0.7"/>
<polygon points="461.7,1510.2 478.7,1505.6 465.5,1483.2 448.5,1487.7" fill="#f2931a" stroke="#f2931a" stroke-width="0.7"/>
<polygon points="431.5,1492.5 448.5,1487.7 435.4,1464.0 418.3,1468.6" fill="#ee3d21" stroke="#ee3d21" stroke-width="0.7"/>
<polygon points="401.3,1473.5 418.3,1468.6 405.2,1443.5 388.2,1448.3" fill="#d22525" stroke="#d22525" stroke-width="0.7"/>
<polygon points="625.7,1594.7 642.7,1590.6 629.6,1576.3 612.5,1580.3" fill="#5fc6ee" stroke="#5fc6ee" stroke-width="0.7"/>
<polygon points="595.5,1584.5 612.5,1580.3 599.4,1564.6 582.4,1568.7" fill="#6eced8" stroke="#6eced8" stroke-width="0.7"/>
<polygon points="565.3,1573.1 582.4,1568.7 569.2,1551.7 552.2,1555.9" fill="#7acfa0" stroke="#7acfa0" stroke-width="0.7"/>
<polygon points="535.1,1560.4 552.2,1555.9 539.0,1537.6 522.0,1541.9" fill="#8ed266" stroke="#8ed266" stroke-width="0.7"/>
<polygon points="505.0,1546.6 522.0,1541.9 508.9,1522.2 491.8,1526.7" fill="#b6dd3d" stroke="#b6dd3d" stroke-width="0.7"/>
<polygon points="474.8,1531.4 491.8,1526.7 478.7,1505.6 461.7,1510.2" fill="#eaed24" stroke="#eaed24" stroke-width="0.7"/>
<polygon points="444.6,1515.1 461.7,1510.2 448.5,1487.7 431.5,1492.5" fill="#f2931a" stroke="#f2931a" stroke-width="0.7"/>
<polygon points="414.4,1497.5 431.5,1492.5 418.3,1468.6 401.3,1473.5" fill="#ee3d21" stroke="#ee3d21" stroke-width="0.7"/>
<polygon points="384.3,1478.6 401.3,1473.5 388.2,1448.3 371.1,1453.3" fill="#d22525" stroke="#d22525" stroke-width="0.7"/>
<polygon points="638.8,1607.9 655.8,1603.6 642.7,1590.6 625.7,1594.7" fill="#569fdb" stroke="#569fdb" stroke-width="0.7"/>
<polygon points="608.6,1599.0 625.7,1594.7 612.5,1580.3 595.5,1584.5" fill="#64c9e8" stroke="#64c9e8" stroke-width="0.7"/>
<polygon points="578.5,1589.0 595.5,1584.5 582.4,1568.7 565.3,1573.1" fill="#72cfcc" stroke="#72cfcc" stroke-width="0.7"/>
<polygon points="548.3,1577.7 565.3,1573.1 552.2,1555.9 535.1,1560.4" fill="#7acfa0" stroke="#7acfa0" stroke-width="0.7"/>
<polygon points="518.1,1565.2 535.1,1560.4 522.0,1541.9 505.0,1546.6" fill="#8ed266" stroke="#8ed266" stroke-width="0.7"/>
<polygon points="487.9,1551.4 505.0,1546.6 491.8,1526.7 474.8,1531.4" fill="#b6dd3d" stroke="#b6dd3d" stroke-width="0.7"/>
<polygon points="457.8,1536.5 474.8,1531.4 461.7,1510.2 444.6,1515.1" fill="#eaed24" stroke="#eaed24" stroke-width="0.7"/>
<polygon points="427.6,1520.2 444.6,1515.1 431.5,1492.5 414.4,1497.5" fill="#f2931a" stroke="#f2931a" stroke-width="0.7"/>
<polygon points="397.4,1502.8 414.4,1497.5 401.3,1473.5 384.3,1478.6" fill="#ee3d21" stroke="#ee3d21" stroke-width="0.7"/>
<polygon points="367.2,1484.1 384.3,1478.6 371.1,1453.3 354.1,1458.6" fill="#d22525" stroke="#d22525" stroke-width="0.7"/>
<polygon points="651.9,1619.8 669.0,1615.4 655.8,1603.6 638.8,1607.9" fill="#4d83cd" stroke="#4d83cd" stroke-width="0.7"/>
<polygon points="621.8,1612.4 638.8,1607.9 625.7,1594.7 608.6,1599.0" fill="#569fdb" stroke="#569fdb" stroke-width="0.7"/>
<polygon points="591.6,1603.7 608.6,1599.0 595.5,1584.5 578.5,1589.0" fill="#64c9e8" stroke="#64c9e8" stroke-width="0.7"/>
<polygon points="561.4,1593.8 578.5,1589.0 565.3,1573.1 548.3,1577.7" fill="#72cfcc" stroke="#72cfcc" stroke-width="0.7"/>
<polygon points="531.2,1582.6 548.3,1577.7 535.1,1560.4 518.1,1565.2" fill="#7acfa0" stroke="#7acfa0" stroke-width="0.7"/>
<polygon points="501.1,1570.2 518.1,1565.2 505.0,1546.6 487.9,1551.4" fill="#8ed266" stroke="#8ed266" stroke-width="0.7"/>
<polygon points="470.9,1556.6 487.9,1551.4 474.8,1531.4 457.8,1536.5" fill="#b6dd3d" stroke="#b6dd3d" stroke-width="0.7"/>
<polygon points="440.7,1541.7 457.8,1536.5 444.6,1515.1 427.6,1520.2" fill="#eaed24" stroke="#eaed24" stroke-width="0.7"/>
<polygon points="410.5,1525.7 427.6,1520.2 414.4,1497.5 397.4,1502.8" fill="#f2931a" stroke="#f2931a" stroke-width="0.7"/>
<polygon points="380.4,1508.3 397.4,1502.8 384.3,1478.6 367.2,1484.1" fill="#ef491f" stroke="#ef491f" stroke-width="0.7"/>
<polygon points="350.2,1489.8 367.2,1484.1 354.1,1458.6 337.1,1464.1" fill="#dc2626" stroke="#dc2626" stroke-width="0.7"/>
<polygon points="665.1,1630.6 682.1,1626.0 669.0,1615.4 651.9,1619.8" fill="#466dc1" stroke="#466dc1" stroke-width="0.7"/>
<polygon points="634.9,1624.5 651.9,1619.8 638.8,1607.9 621.8,1612.4" fill="#4d83cd" stroke="#4d83cd" stroke-width="0.7"/>
<polygon points="604.7,1617.1 621.8,1612.4 608.6,1599.0 591.6,1603.7" fill="#569fdb" stroke="#569fdb" stroke-width="0.7"/>
<polygon points="574.6,1608.6 591.6,1603.7 578.5,1589.0 561.4,1593.8" fill="#64c9e8" stroke="#64c9e8" stroke-width="0.7"/>
<polygon points="544.4,1598.8 561.4,1593.8 548.3,1577.7 531.2,1582.6" fill="#6eced8" stroke="#6eced8" stroke-width="0.7"/>
<polygon points="514.2,1587.8 531.2,1582.6 518.1,1565.2 501.1,1570.2" fill="#7acfa0" stroke="#7acfa0" stroke-width="0.7"/>
<polygon points="484.0,1575.5 501.1,1570.2 487.9,1551.4 470.9,1556.6" fill="#8ed266" stroke="#8ed266" stroke-width="0.7"/>
<polygon points="453.9,1562.0 470.9,1556.6 457.8,1536.5 440.7,1541.7" fill="#b6dd3d" stroke="#b6dd3d" stroke-width="0.7"/>
<polygon points="423.7,1547.3 440.7,1541.7 427.6,1520.2 410.5,1525.7" fill="#e0e927" stroke="#e0e927" stroke-width="0.7"/>
<polygon points="393.5,1531.3 410.5,1525.7 397.4,1502.8 380.4,1508.3" fill="#f1a019" stroke="#f1a019" stroke-width="0.7"/>
<polygon points="363.3,1514.1 380.4,1508.3 367.2,1484.1 350.2,1489.8" fill="#ef491f" stroke="#ef491f" stroke-width="0.7"/>
<polygon points="333.2,1495.7 350.2,1489.8 337.1,1464.1 320.0,1469.9" fill="#dc2626" stroke="#dc2626" stroke-width="0.7"/>
<polygon points="678.2,1640.1 695.3,1635.4 682.1,1626.0 665.1,1630.6" fill="#4364bb" stroke="#4364bb" stroke-width="0.7"/>
<polygon points="648.1,1635.3 665.1,1630.6 651.9,1619.8 634.9,1624.5" fill="#466dc1" stroke="#466dc1" stroke-width="0.7"/>
<polygon points="617.9,1629.4 634.9,1624.5 621.8,1612.4 604.7,1617.1" fill="#4d83cd" stroke="#4d83cd" stroke-width="0.7"/>
<polygon points="587.7,1622.2 604.7,1617.1 591.6,1603.7 574.6,1608.6" fill="#569fdb" stroke="#569fdb" stroke-width="0.7"/>
<polygon points="557.5,1613.8 574.6,1608.6 561.4,1593.8 544.4,1598.8" fill="#5fc6ee" stroke="#5fc6ee" stroke-width="0.7"/>
<polygon points="527.4,1604.1 544.4,1598.8 531.2,1582.6 514.2,1587.8" fill="#6eced8" stroke="#6eced8" stroke-width="0.7"/>
<polygon points="497.2,1593.2 514.2,1587.8 501.1,1570.2 484.0,1575.5" fill="#7acfa0" stroke="#7acfa0" stroke-width="0.7"/>
<polygon points="467.0,1581.1 484.0,1575.5 470.9,1556.6 453.9,1562.0" fill="#86cf74" stroke="#86cf74" stroke-width="0.7"/>
<polygon points="436.8,1567.7 453.9,1562.0 440.7,1541.7 423.7,1547.3" fill="#aada45" stroke="#aada45" stroke-width="0.7"/>
<polygon points="406.7,1553.1 423.7,1547.3 410.5,1525.7 393.5,1531.3" fill="#e0e927" stroke="#e0e927" stroke-width="0.7"/>
<polygon points="376.5,1537.3 393.5,1531.3 380.4,1508.3 363.3,1514.1" fill="#f1a019" stroke="#f1a019" stroke-width="0.7"/>
<polygon points="346.3,1520.2 363.3,1514.1 350.2,1489.8 333.2,1495.7" fill="#ef491f" stroke="#ef491f" stroke-width="0.7"/>
<polygon points="316.1,1501.9 333.2,1495.7 320.0,1469.9 303.0,1476.0" fill="#e12825" stroke="#e12825" stroke-width="0.7"/>
<polygon points="691.4,1648.4 708.4,1643.6 695.3,1635.4 678.2,1640.1" fill="#405bb5" stroke="#405bb5" stroke-width="0.7"/>
<polygon points="661.2,1645.0 678.2,1640.1 665.1,1630.6 648.1,1635.3" fill="#4364bb" stroke="#4364bb" stroke-width="0.7"/>
<polygon points="631.0,1640.4 648.1,1635.3 634.9,1624.5 617.9,1629.4" fill="#466dc1" stroke="#466dc1" stroke-width="0.7"/>
<polygon points="600.8,1634.6 617.9,1629.4 604.7,1617.1 587.7,1622.2" fill="#4d83cd" stroke="#4d83cd" stroke-width="0.7"/>
<polygon points="570.7,1627.5 587.7,1622.2 574.6,1608.6 557.5,1613.8" fill="#569fdb" stroke="#569fdb" stroke-width="0.7"/>
<polygon points="540.5,1619.2 557.5,1613.8 544.4,1598.8 527.4,1604.1" fill="#5fc6ee" stroke="#5fc6ee" stroke-width="0.7"/>
<polygon points="510.3,1609.7 527.4,1604.1 514.2,1587.8 497.2,1593.2" fill="#6eced8" stroke="#6eced8" stroke-width="0.7"/>
<polygon points="480.1,1598.9 497.2,1593.2 484.0,1575.5 467.0,1581.1" fill="#78cfb0" stroke="#78cfb0" stroke-width="0.7"/>
<polygon points="450.0,1586.9 467.0,1581.1 453.9,1562.0 436.8,1567.7" fill="#86cf74" stroke="#86cf74" stroke-width="0.7"/>
<polygon points="419.8,1573.7 436.8,1567.7 423.7,1547.3 406.7,1553.1" fill="#aada45" stroke="#aada45" stroke-width="0.7"/>
<polygon points="389.6,1559.2 406.7,1553.1 393.5,1531.3 376.5,1537.3" fill="#e0e927" stroke="#e0e927" stroke-width="0.7"/>
<polygon points="359.4,1543.5 376.5,1537.3 363.3,1514.1 346.3,1520.2" fill="#f1a019" stroke="#f1a019" stroke-width="0.7"/>
<polygon points="329.3,1526.6 346.3,1520.2 333.2,1495.7 316.1,1501.9" fill="#f0571e" stroke="#f0571e" stroke-width="0.7"/>
<polygon points="299.1,1508.4 316.1,1501.9 303.0,1476.0 286.0,1482.4" fill="#e12825" stroke="#e12825" stroke-width="0.7"/>
<polygon points="704.5,1655.5 721.5,1650.5 708.4,1643.6 691.4,1648.4" fill="#405bb5" stroke="#405bb5" stroke-width="0.7"/>
<polygon points="674.3,1653.4 691.4,1648.4 678.2,1640.1 661.2,1645.0" fill="#405bb5" stroke="#405bb5" stroke-width="0.7"/>
<polygon points="644.2,1650.2 661.2,1645.0 648.1,1635.3 631.0,1640.4" fill="#4364bb" stroke="#4364bb" stroke-width="0.7"/>
<polygon points="614.0,1645.7 631.0,1640.4 617.9,1629.4 600.8,1634.6" fill="#466dc1" stroke="#466dc1" stroke-width="0.7"/>
<polygon points="583.8,1640.0 600.8,1634.6 587.7,1622.2 570.7,1627.5" fill="#4d83cd" stroke="#4d83cd" stroke-width="0.7"/>
<polygon points="553.6,1633.1 570.7,1627.5 557.5,1613.8 540.5,1619.2" fill="#569fdb" stroke="#569fdb" stroke-width="0.7"/>
<polygon points="523.5,1624.9 540.5,1619.2 527.4,1604.1 510.3,1609.7" fill="#5fc6ee" stroke="#5fc6ee" stroke-width="0.7"/>
<polygon points="493.3,1615.5 510.3,1609.7 497.2,1593.2 480.1,1598.9" fill="#6eced8" stroke="#6eced8" stroke-width="0.7"/>
<polygon points="463.1,1604.9 480.1,1598.9 467.0,1581.1 450.0,1586.9" fill="#78cfb0" stroke="#78cfb0" stroke-width="0.7"/>
<polygon points="432.9,1593.0 450.0,1586.9 436.8,1567.7 419.8,1573.7" fill="#86cf74" stroke="#86cf74" stroke-width="0.7"/>
<polygon points="402.8,1579.9 419.8,1573.7 406.7,1553.1 389.6,1559.2" fill="#aada45" stroke="#aada45" stroke-width="0.7"/>
<polygon points="372.6,1565.6 389.6,1559.2 376.5,1537.3 359.4,1543.5" fill="#d7e62a" stroke="#d7e62a" stroke-width="0.7"/>
<polygon points="342.4,1550.0 359.4,1543.5 346.3,1520.2 329.3,1526.6" fill="#f0b41a" stroke="#f0b41a" stroke-width="0.7"/>
<polygon points="312.2,1533.2 329.3,1526.6 316.1,1501.9 299.1,1508.4" fill="#f1661d" stroke="#f1661d" stroke-width="0.7"/>
<polygon points="282.1,1515.2 299.1,1508.4 286.0,1482.4 268.9,1489.0" fill="#e62925" stroke="#e62925" stroke-width="0.7"/>
<polygon points="717.6,1661.3 734.7,1656.2 721.5,1650.5 704.5,1655.5" fill="#405bb5" stroke="#405bb5" stroke-width="0.7"/>
<polygon points="687.5,1660.7 704.5,1655.5 691.4,1648.4 674.3,1653.4" fill="#405bb5" stroke="#405bb5" stroke-width="0.7"/>
<polygon points="657.3,1658.8 674.3,1653.4 661.2,1645.0 644.2,1650.2" fill="#405bb5" stroke="#405bb5" stroke-width="0.7"/>
<polygon points="627.1,1655.7 644.2,1650.2 631.0,1640.4 614.0,1645.7" fill="#4364bb" stroke="#4364bb" stroke-width="0.7"/>
<polygon points="596.9,1651.3 614.0,1645.7 600.8,1634.6 583.8,1640.0" fill="#466dc1" stroke="#466dc1" stroke-width="0.7"/>
<polygon points="566.8,1645.7 583.8,1640.0 570.7,1627.5 553.6,1633.1" fill="#4978c7" stroke="#4978c7" stroke-width="0.7"/>
<polygon points="536.6,1638.9 553.6,1633.1 540.5,1619.2 523.5,1624.9" fill="#518ed3" stroke="#518ed3" stroke-width="0.7"/>
<polygon points="506.4,1630.9 523.5,1624.9 510.3,1609.7 493.3,1615.5" fill="#5ab3e5" stroke="#5ab3e5" stroke-width="0.7"/>
<polygon points="476.2,1621.6 493.3,1615.5 480.1,1598.9 463.1,1604.9" fill="#69cce1" stroke="#69cce1" stroke-width="0.7"/>
<polygon points="446.1,1611.1 463.1,1604.9 450.0,1586.9 432.9,1593.0" fill="#76d0bf" stroke="#76d0bf" stroke-width="0.7"/>
<polygon points="415.9,1599.4 432.9,1593.0 419.8,1573.7 402.8,1579.9" fill="#7ecd81" stroke="#7ecd81" stroke-width="0.7"/>
<polygon points="385.7,1586.4 402.8,1579.9 389.6,1559.2 372.6,1565.6" fill="#9fd74c" stroke="#9fd74c" stroke-width="0.7"/>
<polygon points="355.5,1572.2 372.6,1565.6 359.4,1543.5 342.4,1550.0" fill="#cee32e" stroke="#cee32e" stroke-width="0.7"/>
<polygon points="325.4,1556.8 342.4,1550.0 329.3,1526.6 312.2,1533.2" fill="#efcb1d" stroke="#efcb1d" stroke-width="0.7"/>
<polygon points="295.2,1540.1 312.2,1533.2 299.1,1508.4 282.1,1515.2" fill="#f1661d" stroke="#f1661d" stroke-width="0.7"/>
<polygon points="265.0,1522.2 282.1,1515.2 268.9,1489.0 251.9,1495.9" fill="#ea2a24" stroke="#ea2a24" stroke-width="0.7"/>
<polygon points="700.6,1666.7 717.6,1661.3 704.5,1655.5 687.5,1660.7" fill="#405bb5" stroke="#405bb5" stroke-width="0.7"/>
<polygon points="670.4,1666.1 687.5,1660.7 674.3,1653.4 657.3,1658.8" fill="#405bb5" stroke="#405bb5" stroke-width="0.7"/>
<polygon points="640.3,1664.4 657.3,1658.8 644.2,1650.2 627.1,1655.7" fill="#405bb5" stroke="#405bb5" stroke-width="0.7"/>
<polygon points="610.1,1661.4 627.1,1655.7 614.0,1645.7 596.9,1651.3" fill="#405bb5" stroke="#405bb5" stroke-width="0.7"/>
<polygon points="579.9,1657.2 596.9,1651.3 583.8,1640.0 566.8,1645.7" fill="#4364bb" stroke="#4364bb" stroke-width="0.7"/>
<polygon points="549.7,1651.7 566.8,1645.7 553.6,1633.1 536.6,1638.9" fill="#4978c7" stroke="#4978c7" stroke-width="0.7"/>
<polygon points="519.6,1645.0 536.6,1638.9 523.5,1624.9 506.4,1630.9" fill="#518ed3" stroke="#518ed3" stroke-width="0.7"/>
<polygon points="489.4,1637.1 506.4,1630.9 493.3,1615.5 476.2,1621.6" fill="#5ab3e5" stroke="#5ab3e5" stroke-width="0.7"/>
<polygon points="459.2,1628.0 476.2,1621.6 463.1,1604.9 446.1,1611.1" fill="#69cce1" stroke="#69cce1" stroke-width="0.7"/>
<polygon points="429.0,1617.6 446.1,1611.1 432.9,1593.0 415.9,1599.4" fill="#76d0bf" stroke="#76d0bf" stroke-width="0.7"/>
<polygon points="398.9,1606.0 415.9,1599.4 402.8,1579.9 385.7,1586.4" fill="#7cce91" stroke="#7cce91" stroke-width="0.7"/>
<polygon points="368.7,1593.1 385.7,1586.4 372.6,1565.6 355.5,1572.2" fill="#96d459" stroke="#96d459" stroke-width="0.7"/>
<polygon points="338.5,1579.1 355.5,1572.2 342.4,1550.0 325.4,1556.8" fill="#cee32e" stroke="#cee32e" stroke-width="0.7"/>
<polygon points="308.3,1563.8 325.4,1556.8 312.2,1533.2 295.2,1540.1" fill="#efcb1d" stroke="#efcb1d" stroke-width="0.7"/>
<polygon points="278.2,1547.2 295.2,1540.1 282.1,1515.2 265.0,1522.2" fill="#f2761c" stroke="#f2761c" stroke-width="0.7"/>
<polygon points="683.6,1672.3 700.6,1666.7 687.5,1660.7 670.4,1666.1" fill="#405bb5" stroke="#405bb5" stroke-width="0.7"/>
<polygon points="653.4,1671.9 670.4,1666.1 657.3,1658.8 640.3,1664.4" fill="#3e52af" stroke="#3e52af" stroke-width="0.7"/>
<polygon points="623.2,1670.2 640.3,1664.4 627.1,1655.7 610.1,1661.4" fill="#405bb5" stroke="#405bb5" stroke-width="0.7"/>
<polygon points="593.1,1667.4 610.1,1661.4 596.9,1651.3 579.9,1657.2" fill="#405bb5" stroke="#405bb5" stroke-width="0.7"/>
<polygon points="562.9,1663.3 579.9,1657.2 566.8,1645.7 549.7,1651.7" fill="#4364bb" stroke="#4364bb" stroke-width="0.7"/>
<polygon points="532.7,1658.0 549.7,1651.7 536.6,1638.9 519.6,1645.0" fill="#466dc1" stroke="#466dc1" stroke-width="0.7"/>
<polygon points="502.5,1651.4 519.6,1645.0 506.4,1630.9 489.4,1637.1" fill="#4d83cd" stroke="#4d83cd" stroke-width="0.7"/>
<polygon points="472.4,1643.6 489.4,1637.1 476.2,1621.6 459.2,1628.0" fill="#569fdb" stroke="#569fdb" stroke-width="0.7"/>
<polygon points="442.2,1634.6 459.2,1628.0 446.1,1611.1 429.0,1617.6" fill="#64c9e8" stroke="#64c9e8" stroke-width="0.7"/>
<polygon points="412.0,1624.4 429.0,1617.6 415.9,1599.4 398.9,1606.0" fill="#72cfcc" stroke="#72cfcc" stroke-width="0.7"/>
<polygon points="381.8,1612.9 398.9,1606.0 385.7,1586.4 368.7,1593.1" fill="#7cce91" stroke="#7cce91" stroke-width="0.7"/>
<polygon points="351.7,1600.2 368.7,1593.1 355.5,1572.2 338.5,1579.1" fill="#96d459" stroke="#96d459" stroke-width="0.7"/>
<polygon points="321.5,1586.2 338.5,1579.1 325.4,1556.8 308.3,1563.8" fill="#c2e035" stroke="#c2e035" stroke-width="0.7"/>
<polygon points="291.3,1571.1 308.3,1563.8 295.2,1540.1 278.2,1547.2" fill="#efe220" stroke="#efe220" stroke-width="0.7"/>
<polygon points="666.5,1678.2 683.6,1672.3 670.4,1666.1 653.4,1671.9" fill="#3e52af" stroke="#3e52af" stroke-width="0.7"/>
<polygon points="636.4,1677.9 653.4,1671.9 640.3,1664.4 623.2,1670.2" fill="#3e52af" stroke="#3e52af" stroke-width="0.7"/>
<polygon points="606.2,1676.4 623.2,1670.2 610.1,1661.4 593.1,1667.4" fill="#3e52af" stroke="#3e52af" stroke-width="0.7"/>
<polygon points="576.0,1673.6 593.1,1667.4 579.9,1657.2 562.9,1663.3" fill="#405bb5" stroke="#405bb5" stroke-width="0.7"/>
<polygon points="545.8,1669.7 562.9,1663.3 549.7,1651.7 532.7,1658.0" fill="#405bb5" stroke="#405bb5" stroke-width="0.7"/>
<polygon points="515.7,1664.5 532.7,1658.0 519.6,1645.0 502.5,1651.4" fill="#466dc1" stroke="#466dc1" stroke-width="0.7"/>
<polygon points="485.5,1658.0 502.5,1651.4 489.4,1637.1 472.4,1643.6" fill="#4978c7" stroke="#4978c7" stroke-width="0.7"/>
<polygon points="455.3,1650.4 472.4,1643.6 459.2,1628.0 442.2,1634.6" fill="#569fdb" stroke="#569fdb" stroke-width="0.7"/>
<polygon points="425.1,1641.5 442.2,1634.6 429.0,1617.6 412.0,1624.4" fill="#5fc6ee" stroke="#5fc6ee" stroke-width="0.7"/>
<polygon points="395.0,1631.4 412.0,1624.4 398.9,1606.0 381.8,1612.9" fill="#6eced8" stroke="#6eced8" stroke-width="0.7"/>
<polygon points="364.8,1620.0 381.8,1612.9 368.7,1593.1 351.7,1600.2" fill="#7acfa0" stroke="#7acfa0" stroke-width="0.7"/>
<polygon points="334.6,1607.4 351.7,1600.2 338.5,1579.1 321.5,1586.2" fill="#8ed266" stroke="#8ed266" stroke-width="0.7"/>
<polygon points="304.4,1593.6 321.5,1586.2 308.3,1563.8 291.3,1571.1" fill="#b6dd3d" stroke="#b6dd3d" stroke-width="0.7"/>
<polygon points="649.5,1684.3 666.5,1678.2 653.4,1671.9 636.4,1677.9" fill="#3e52af" stroke="#3e52af" stroke-width="0.7"/>
<polygon points="619.3,1684.2 636.4,1677.9 623.2,1670.2 606.2,1676.4" fill="#3b4bab" stroke="#3b4bab" stroke-width="0.7"/>
<polygon points="589.2,1682.8 606.2,1676.4 593.1,1667.4 576.0,1673.6" fill="#3b4bab" stroke="#3b4bab" stroke-width="0.7"/>
<polygon points="559.0,1680.2 576.0,1673.6 562.9,1663.3 545.8,1669.7" fill="#3e52af" stroke="#3e52af" stroke-width="0.7"/>
<polygon points="528.8,1676.3 545.8,1669.7 532.7,1658.0 515.7,1664.5" fill="#405bb5" stroke="#405bb5" stroke-width="0.7"/>
<polygon points="498.6,1671.2 515.7,1664.5 502.5,1651.4 485.5,1658.0" fill="#4364bb" stroke="#4364bb" stroke-width="0.7"/>
<polygon points="468.5,1664.9 485.5,1658.0 472.4,1643.6 455.3,1650.4" fill="#4978c7" stroke="#4978c7" stroke-width="0.7"/>
<polygon points="438.3,1657.4 455.3,1650.4 442.2,1634.6 425.1,1641.5" fill="#518ed3" stroke="#518ed3" stroke-width="0.7"/>
<polygon points="408.1,1648.6 425.1,1641.5 412.0,1624.4 395.0,1631.4" fill="#5ab3e5" stroke="#5ab3e5" stroke-width="0.7"/>
<polygon points="377.9,1638.7 395.0,1631.4 381.8,1612.9 364.8,1620.0" fill="#69cce1" stroke="#69cce1" stroke-width="0.7"/>
<polygon points="347.8,1627.4 364.8,1620.0 351.7,1600.2 334.6,1607.4" fill="#78cfb0" stroke="#78cfb0" stroke-width="0.7"/>
<polygon points="317.6,1615.0 334.6,1607.4 321.5,1586.2 304.4,1593.6" fill="#86cf74" stroke="#86cf74" stroke-width="0.7"/>
<polygon points="632.5,1690.7 649.5,1684.3 636.4,1677.9 619.3,1684.2" fill="#3b4bab" stroke="#3b4bab" stroke-width="0.7"/>
<polygon points="602.3,1690.7 619.3,1684.2 606.2,1676.4 589.2,1682.8" fill="#3b4bab" stroke="#3b4bab" stroke-width="0.7"/>
<polygon points="572.1,1689.4 589.2,1682.8 576.0,1673.6 559.0,1680.2" fill="#3b4bab" stroke="#3b4bab" stroke-width="0.7"/>
<polygon points="541.9,1686.9 559.0,1680.2 545.8,1669.7 528.8,1676.3" fill="#3b4bab" stroke="#3b4bab" stroke-width="0.7"/>
<polygon points="511.8,1683.2 528.8,1676.3 515.7,1664.5 498.6,1671.2" fill="#3e52af" stroke="#3e52af" stroke-width="0.7"/>
<polygon points="481.6,1678.3 498.6,1671.2 485.5,1658.0 468.5,1664.9" fill="#405bb5" stroke="#405bb5" stroke-width="0.7"/>
<polygon points="451.4,1672.1 468.5,1664.9 455.3,1650.4 438.3,1657.4" fill="#466dc1" stroke="#466dc1" stroke-width="0.7"/>
<polygon points="421.2,1664.7 438.3,1657.4 425.1,1641.5 408.1,1648.6" fill="#4d83cd" stroke="#4d83cd" stroke-width="0.7"/>
<polygon points="391.1,1656.1 408.1,1648.6 395.0,1631.4 377.9,1638.7" fill="#5ab3e5" stroke="#5ab3e5" stroke-width="0.7"/>
<polygon points="360.9,1646.2 377.9,1638.7 364.8,1620.0 347.8,1627.4" fill="#64c9e8" stroke="#64c9e8" stroke-width="0.7"/>
<polygon points="330.7,1635.1 347.8,1627.4 334.6,1607.4 317.6,1615.0" fill="#76d0bf" stroke="#76d0bf" stroke-width="0.7"/>
<polygon points="615.4,1697.4 632.5,1690.7 619.3,1684.2 602.3,1690.7" fill="#3b4bab" stroke="#3b4bab" stroke-width="0.7"/>
<polygon points="585.3,1697.5 602.3,1690.7 589.2,1682.8 572.1,1689.4" fill="#3948a8" stroke="#3948a8" stroke-width="0.7"/>
<polygon points="555.1,1696.4 572.1,1689.4 559.0,1680.2 541.9,1686.9" fill="#3948a8" stroke="#3948a8" stroke-width="0.7"/>
<polygon points="524.9,1694.0 541.9,1686.9 528.8,1676.3 511.8,1683.2" fill="#3948a8" stroke="#3948a8" stroke-width="0.7"/>
<polygon points="494.7,1690.4 511.8,1683.2 498.6,1671.2 481.6,1678.3" fill="#3b4bab" stroke="#3b4bab" stroke-width="0.7"/>
<polygon points="464.6,1685.6 481.6,1678.3 468.5,1664.9 451.4,1672.1" fill="#3e52af" stroke="#3e52af" stroke-width="0.7"/>
<polygon points="434.4,1679.5 451.4,1672.1 438.3,1657.4 421.2,1664.7" fill="#4364bb" stroke="#4364bb" stroke-width="0.7"/>
<polygon points="404.2,1672.3 421.2,1664.7 408.1,1648.6 391.1,1656.1" fill="#4978c7" stroke="#4978c7" stroke-width="0.7"/>
<polygon points="374.0,1663.7 391.1,1656.1 377.9,1638.7 360.9,1646.2" fill="#569fdb" stroke="#569fdb" stroke-width="0.7"/>
<polygon points="343.9,1654.0 360.9,1646.2 347.8,1627.4 330.7,1635.1" fill="#5fc6ee" stroke="#5fc6ee" stroke-width="0.7"/>
<polygon points="598.4,1704.3 615.4,1697.4 602.3,1690.7 585.3,1697.5" fill="#3948a8" stroke="#3948a8" stroke-width="0.7"/>
<polygon points="568.2,1704.6 585.3,1697.5 572.1,1689.4 555.1,1696.4" fill="#3745a6" stroke="#3745a6" stroke-width="0.7"/>
<polygon points="538.1,1703.5 555.1,1696.4 541.9,1686.9 524.9,1694.0" fill="#3745a6" stroke="#3745a6" stroke-width="0.7"/>
<polygon points="507.9,1701.3 524.9,1694.0 511.8,1683.2 494.7,1690.4" fill="#3948a8" stroke="#3948a8" stroke-width="0.7"/>
<polygon points="477.7,1697.8 494.7,1690.4 481.6,1678.3 464.6,1685.6" fill="#3948a8" stroke="#3948a8" stroke-width="0.7"/>
<polygon points="447.5,1693.1 464.6,1685.6 451.4,1672.1 434.4,1679.5" fill="#3b4bab" stroke="#3b4bab" stroke-width="0.7"/>
<polygon points="417.4,1687.2 434.4,1679.5 421.2,1664.7 404.2,1672.3" fill="#405bb5" stroke="#405bb5" stroke-width="0.7"/>
<polygon points="387.2,1680.1 404.2,1672.3 391.1,1656.1 374.0,1663.7" fill="#466dc1" stroke="#466dc1" stroke-width="0.7"/>
<polygon points="357.0,1671.7 374.0,1663.7 360.9,1646.2 343.9,1654.0" fill="#4d83cd" stroke="#4d83cd" stroke-width="0.7"/>
<polygon points="581.4,1711.5 598.4,1704.3 585.3,1697.5 568.2,1704.6" fill="#3745a6" stroke="#3745a6" stroke-width="0.7"/>
<polygon points="551.2,1711.9 568.2,1704.6 555.1,1696.4 538.1,1703.5" fill="#3441a3" stroke="#3441a3" stroke-width="0.7"/>
<polygon points="521.0,1711.0 538.1,1703.5 524.9,1694.0 507.9,1701.3" fill="#3441a3" stroke="#3441a3" stroke-width="0.7"/>
<polygon points="490.8,1708.9 507.9,1701.3 494.7,1690.4 477.7,1697.8" fill="#3745a6" stroke="#3745a6" stroke-width="0.7"/>
<polygon points="460.7,1705.5 477.7,1697.8 464.6,1685.6 447.5,1693.1" fill="#3745a6" stroke="#3745a6" stroke-width="0.7"/>
<polygon points="430.5,1701.0 447.5,1693.1 434.4,1679.5 417.4,1687.2" fill="#3948a8" stroke="#3948a8" stroke-width="0.7"/>
<polygon points="400.3,1695.2 417.4,1687.2 404.2,1672.3 387.2,1680.1" fill="#3e52af" stroke="#3e52af" stroke-width="0.7"/>
<polygon points="370.1,1688.1 387.2,1680.1 374.0,1663.7 357.0,1671.7" fill="#4364bb" stroke="#4364bb" stroke-width="0.7"/>
<polygon points="564.3,1719.0 581.4,1711.5 568.2,1704.6 551.2,1711.9" fill="#3441a3" stroke="#3441a3" stroke-width="0.7"/>
<polygon points="534.2,1719.5 551.2,1711.9 538.1,1703.5 521.0,1711.0" fill="#323ea0" stroke="#323ea0" stroke-width="0.7"/>
<polygon points="504.0,1718.7 521.0,1711.0 507.9,1701.3 490.8,1708.9" fill="#323ea0" stroke="#323ea0" stroke-width="0.7"/>
<polygon points="473.8,1716.7 490.8,1708.9 477.7,1697.8 460.7,1705.5" fill="#323ea0" stroke="#323ea0" stroke-width="0.7"/>
<polygon points="443.6,1713.5 460.7,1705.5 447.5,1693.1 430.5,1701.0" fill="#3441a3" stroke="#3441a3" stroke-width="0.7"/>
<polygon points="413.5,1709.1 430.5,1701.0 417.4,1687.2 400.3,1695.2" fill="#3745a6" stroke="#3745a6" stroke-width="0.7"/>
<polygon points="383.3,1703.4 400.3,1695.2 387.2,1680.1 370.1,1688.1" fill="#3b4bab" stroke="#3b4bab" stroke-width="0.7"/>
<polygon points="547.3,1726.7 564.3,1719.0 551.2,1711.9 534.2,1719.5" fill="#323ea0" stroke="#323ea0" stroke-width="0.7"/>
<polygon points="517.1,1727.3 534.2,1719.5 521.0,1711.0 504.0,1718.7" fill="#313c9d" stroke="#313c9d" stroke-width="0.7"/>
<polygon points="486.9,1726.7 504.0,1718.7 490.8,1708.9 473.8,1716.7" fill="#313c9d" stroke="#313c9d" stroke-width="0.7"/>
<polygon points="456.8,1724.8 473.8,1716.7 460.7,1705.5 443.6,1713.5" fill="#313c9d" stroke="#313c9d" stroke-width="0.7"/>
<polygon points="426.6,1721.7 443.6,1713.5 430.5,1701.0 413.5,1709.1" fill="#323ea0" stroke="#323ea0" stroke-width="0.7"/>
<polygon points="396.4,1717.4 413.5,1709.1 400.3,1695.2 383.3,1703.4" fill="#3441a3" stroke="#3441a3" stroke-width="0.7"/>
<polygon points="530.3,1734.7 547.3,1726.7 534.2,1719.5 517.1,1727.3" fill="#313c9d" stroke="#313c9d" stroke-width="0.7"/>
<polygon points="500.1,1735.4 517.1,1727.3 504.0,1718.7 486.9,1726.7" fill="#2f3999" stroke="#2f3999" stroke-width="0.7"/>
<polygon points="469.9,1734.9 486.9,1726.7 473.8,1716.7 456.8,1724.8" fill="#2f3999" stroke="#2f3999" stroke-width="0.7"/>
<polygon points="439.7,1733.2 456.8,1724.8 443.6,1713.5 426.6,1721.7" fill="#2f3999" stroke="#2f3999" stroke-width="0.7"/>
<polygon points="409.6,1730.2 426.6,1721.7 413.5,1709.1 396.4,1717.4" fill="#313c9d" stroke="#313c9d" stroke-width="0.7"/>
<polygon points="513.2,1743.0 530.3,1734.7 517.1,1727.3 500.1,1735.4" fill="#2f3999" stroke="#2f3999" stroke-width="0.7"/>
<polygon points="483.1,1743.8 500.1,1735.4 486.9,1726.7 469.9,1734.9" fill="#2d3695" stroke="#2d3695" stroke-width="0.7"/>
<polygon points="452.9,1743.4 469.9,1734.9 456.8,1724.8 439.7,1733.2" fill="#2d3695" stroke="#2d3695" stroke-width="0.7"/>
<polygon points="422.7,1741.8 439.7,1733.2 426.6,1721.7 409.6,1730.2" fill="#2d3695" stroke="#2d3695" stroke-width="0.7"/>
<polygon points="496.2,1751.5 513.2,1743.0 500.1,1735.4 483.1,1743.8" fill="#2c3491" stroke="#2c3491" stroke-width="0.7"/>
<polygon points="466.0,1752.4 483.1,1743.8 469.9,1734.9 452.9,1743.4" fill="#2c3491" stroke="#2c3491" stroke-width="0.7"/>
<polygon points="435.8,1752.2 452.9,1743.4 439.7,1733.2 422.7,1741.8" fill="#2a3187" stroke="#2a3187" stroke-width="0.7"/>
<polygon points="479.2,1760.3 496.2,1751.5 483.1,1743.8 466.0,1752.4" fill="#2a3187" stroke="#2a3187" stroke-width="0.7"/>
<polygon points="449.0,1761.3 466.0,1752.4 452.9,1743.4 435.8,1752.2" fill="#292e7d" stroke="#292e7d" stroke-width="0.7"/>
<polygon points="462.1,1769.3 479.2,1760.3 466.0,1752.4 449.0,1761.3" fill="#292e7d" stroke="#292e7d" stroke-width="0.7"/>
</g>
<g stroke="#fff" stroke-opacity="0.16" stroke-width="0.9" stroke-dasharray="1.2 1">
<line x1="522.5" y1="1421.2" x2="522.5" y2="1441.4"/>
<line x1="535.6" y1="1445.3" x2="535.6" y2="1464.6"/>
<line x1="505.5" y1="1424.2" x2="505.5" y2="1444.6"/>
<line x1="548.8" y1="1468.1" x2="548.8" y2="1486.5"/>
<line x1="518.6" y1="1448.4" x2="518.6" y2="1467.9"/>
<line x1="488.4" y1="1427.4" x2="488.4" y2="1448.1"/>
<line x1="561.9" y1="1489.6" x2="561.9" y2="1507.2"/>
<line x1="531.7" y1="1471.3" x2="531.7" y2="1490.0"/>
<line x1="501.6" y1="1451.7" x2="501.6" y2="1471.5"/>
<line x1="471.4" y1="1430.9" x2="471.4" y2="1451.8"/>
<line x1="575.1" y1="1509.9" x2="575.1" y2="1526.6"/>
<line x1="544.9" y1="1493.0" x2="544.9" y2="1510.8"/>
<line x1="514.7" y1="1474.8" x2="514.7" y2="1493.7"/>
<line x1="484.5" y1="1455.3" x2="484.5" y2="1475.4"/>
<line x1="454.4" y1="1434.6" x2="454.4" y2="1455.8"/>
<line x1="588.2" y1="1529.0" x2="588.2" y2="1544.8"/>
<line x1="558.0" y1="1513.4" x2="558.0" y2="1530.4"/>
<line x1="527.8" y1="1496.6" x2="527.8" y2="1514.7"/>
<line x1="497.7" y1="1478.5" x2="497.7" y2="1497.7"/>
<line x1="467.5" y1="1459.2" x2="467.5" y2="1479.5"/>
<line x1="437.3" y1="1438.7" x2="437.3" y2="1460.1"/>
<line x1="601.3" y1="1546.9" x2="601.3" y2="1561.8"/>
<line x1="571.2" y1="1532.6" x2="571.2" y2="1548.7"/>
<line x1="541.0" y1="1517.2" x2="541.0" y2="1534.4"/>
<line x1="510.8" y1="1500.5" x2="510.8" y2="1518.8"/>
<line x1="480.6" y1="1482.5" x2="480.6" y2="1502.0"/>
<line x1="450.5" y1="1463.4" x2="450.5" y2="1483.9"/>
<line x1="420.3" y1="1443.0" x2="420.3" y2="1464.6"/>
<line x1="614.5" y1="1563.5" x2="614.5" y2="1577.6"/>
<line x1="584.3" y1="1550.6" x2="584.3" y2="1565.9"/>
<line x1="554.1" y1="1536.5" x2="554.1" y2="1552.9"/>
<line x1="523.9" y1="1521.2" x2="523.9" y2="1538.7"/>
<line x1="493.8" y1="1504.6" x2="493.8" y2="1523.2"/>
<line x1="463.6" y1="1486.8" x2="463.6" y2="1506.5"/>
<line x1="433.4" y1="1467.8" x2="433.4" y2="1488.6"/>
<line x1="403.2" y1="1447.5" x2="403.2" y2="1469.5"/>
<line x1="627.6" y1="1578.9" x2="627.6" y2="1592.1"/>
<line x1="597.4" y1="1567.4" x2="597.4" y2="1581.7"/>
<line x1="567.3" y1="1554.7" x2="567.3" y2="1570.1"/>
<line x1="537.1" y1="1540.7" x2="537.1" y2="1557.3"/>
<line x1="506.9" y1="1525.5" x2="506.9" y2="1543.2"/>
<line x1="476.7" y1="1509.1" x2="476.7" y2="1527.9"/>
<line x1="446.6" y1="1491.4" x2="446.6" y2="1511.4"/>
<line x1="416.4" y1="1472.5" x2="416.4" y2="1493.6"/>
<line x1="386.2" y1="1452.3" x2="386.2" y2="1474.5"/>
<line x1="640.8" y1="1593.0" x2="640.8" y2="1605.4"/>
<line x1="610.6" y1="1582.9" x2="610.6" y2="1596.4"/>
<line x1="580.4" y1="1571.5" x2="580.4" y2="1586.2"/>
<line x1="550.2" y1="1558.9" x2="550.2" y2="1574.7"/>
<line x1="520.1" y1="1545.1" x2="520.1" y2="1562.0"/>
<line x1="489.9" y1="1530.1" x2="489.9" y2="1548.0"/>
<line x1="459.7" y1="1513.8" x2="459.7" y2="1532.9"/>
<line x1="429.5" y1="1496.2" x2="429.5" y2="1516.4"/>
<line x1="399.4" y1="1477.4" x2="399.4" y2="1498.8"/>
<line x1="369.2" y1="1457.4" x2="369.2" y2="1479.9"/>
<line x1="653.9" y1="1605.9" x2="653.9" y2="1617.5"/>
<line x1="623.7" y1="1597.2" x2="623.7" y2="1609.9"/>
<line x1="593.5" y1="1587.2" x2="593.5" y2="1601.0"/>
<line x1="563.4" y1="1576.0" x2="563.4" y2="1590.9"/>
<line x1="533.2" y1="1563.5" x2="533.2" y2="1579.5"/>
<line x1="503.0" y1="1549.8" x2="503.0" y2="1567.0"/>
<line x1="472.8" y1="1534.9" x2="472.8" y2="1553.1"/>
<line x1="442.7" y1="1518.7" x2="442.7" y2="1538.1"/>
<line x1="412.5" y1="1501.3" x2="412.5" y2="1521.8"/>
<line x1="382.3" y1="1482.7" x2="382.3" y2="1504.3"/>
<line x1="352.1" y1="1462.8" x2="352.1" y2="1485.5"/>
<line x1="667.0" y1="1617.6" x2="667.0" y2="1628.3"/>
<line x1="636.9" y1="1610.2" x2="636.9" y2="1622.1"/>
<line x1="606.7" y1="1601.6" x2="606.7" y2="1614.6"/>
<line x1="576.5" y1="1591.8" x2="576.5" y2="1605.8"/>
<line x1="546.3" y1="1580.7" x2="546.3" y2="1595.8"/>
<line x1="516.2" y1="1568.3" x2="516.2" y2="1584.6"/>
<line x1="486.0" y1="1554.8" x2="486.0" y2="1572.2"/>
<line x1="455.8" y1="1540.0" x2="455.8" y2="1558.5"/>
<line x1="425.6" y1="1523.9" x2="425.6" y2="1543.6"/>
<line x1="395.5" y1="1506.7" x2="395.5" y2="1527.4"/>
<line x1="365.3" y1="1488.2" x2="365.3" y2="1510.0"/>
<line x1="335.1" y1="1468.4" x2="335.1" y2="1491.4"/>
<line x1="680.2" y1="1628.1" x2="680.2" y2="1638.0"/>
<line x1="650.0" y1="1622.1" x2="650.0" y2="1633.1"/>
<line x1="619.8" y1="1614.8" x2="619.8" y2="1626.9"/>
<line x1="589.6" y1="1606.3" x2="589.6" y2="1619.5"/>
<line x1="559.5" y1="1596.6" x2="559.5" y2="1610.9"/>
<line x1="529.3" y1="1585.6" x2="529.3" y2="1601.1"/>
<line x1="499.1" y1="1573.4" x2="499.1" y2="1590.0"/>
<line x1="468.9" y1="1560.0" x2="468.9" y2="1577.7"/>
<line x1="438.8" y1="1545.3" x2="438.8" y2="1564.1"/>
<line x1="408.6" y1="1529.4" x2="408.6" y2="1549.3"/>
<line x1="378.4" y1="1512.3" x2="378.4" y2="1533.3"/>
<line x1="348.2" y1="1493.9" x2="348.2" y2="1516.0"/>
<line x1="318.1" y1="1474.3" x2="318.1" y2="1497.6"/>
<line x1="693.3" y1="1637.4" x2="693.3" y2="1646.4"/>
<line x1="663.1" y1="1632.7" x2="663.1" y2="1642.8"/>
<line x1="633.0" y1="1626.8" x2="633.0" y2="1638.0"/>
<line x1="602.8" y1="1619.7" x2="602.8" y2="1632.0"/>
<line x1="572.6" y1="1611.3" x2="572.6" y2="1624.8"/>
<line x1="542.4" y1="1601.7" x2="542.4" y2="1616.3"/>
<line x1="512.3" y1="1590.9" x2="512.3" y2="1606.6"/>
<line x1="482.1" y1="1578.8" x2="482.1" y2="1595.6"/>
<line x1="451.9" y1="1565.5" x2="451.9" y2="1583.4"/>
<line x1="421.7" y1="1551.0" x2="421.7" y2="1570.0"/>
<line x1="391.6" y1="1535.2" x2="391.6" y2="1555.3"/>
<line x1="361.4" y1="1518.2" x2="361.4" y2="1539.5"/>
<line x1="331.2" y1="1500.0" x2="331.2" y2="1522.3"/>
<line x1="301.0" y1="1480.5" x2="301.0" y2="1504.0"/>
<line x1="706.5" y1="1645.4" x2="706.5" y2="1653.6"/>
<line x1="676.3" y1="1642.1" x2="676.3" y2="1651.4"/>
<line x1="646.1" y1="1637.6" x2="646.1" y2="1648.0"/>
<line x1="615.9" y1="1631.8" x2="615.9" y2="1643.3"/>
<line x1="585.8" y1="1624.8" x2="585.8" y2="1637.4"/>
<line x1="555.6" y1="1616.6" x2="555.6" y2="1630.3"/>
<line x1="525.4" y1="1607.1" x2="525.4" y2="1621.9"/>
<line x1="495.2" y1="1596.4" x2="495.2" y2="1612.3"/>
<line x1="465.1" y1="1584.4" x2="465.1" y2="1601.5"/>
<line x1="434.9" y1="1571.3" x2="434.9" y2="1589.4"/>
<line x1="404.7" y1="1556.9" x2="404.7" y2="1576.2"/>
<line x1="374.5" y1="1541.2" x2="374.5" y2="1561.6"/>
<line x1="344.4" y1="1524.4" x2="344.4" y2="1545.9"/>
<line x1="314.2" y1="1506.2" x2="314.2" y2="1528.9"/>
<line x1="284.0" y1="1486.9" x2="284.0" y2="1510.6"/>
<line x1="719.6" y1="1652.2" x2="719.6" y2="1659.6"/>
<line x1="689.4" y1="1650.3" x2="689.4" y2="1658.7"/>
<line x1="659.2" y1="1647.1" x2="659.2" y2="1656.7"/>
<line x1="629.1" y1="1642.7" x2="629.1" y2="1653.4"/>
<line x1="598.9" y1="1637.0" x2="598.9" y2="1648.8"/>
<line x1="568.7" y1="1630.2" x2="568.7" y2="1643.0"/>
<line x1="538.5" y1="1622.1" x2="538.5" y2="1636.0"/>
<line x1="508.4" y1="1612.7" x2="508.4" y2="1627.8"/>
<line x1="478.2" y1="1602.2" x2="478.2" y2="1618.4"/>
<line x1="448.0" y1="1590.3" x2="448.0" y2="1607.7"/>
<line x1="417.8" y1="1577.3" x2="417.8" y2="1595.7"/>
<line x1="387.7" y1="1563.0" x2="387.7" y2="1582.6"/>
<line x1="357.5" y1="1547.5" x2="357.5" y2="1568.2"/>
<line x1="327.3" y1="1530.8" x2="327.3" y2="1552.5"/>
<line x1="297.1" y1="1512.8" x2="297.1" y2="1535.7"/>
<line x1="267.0" y1="1493.6" x2="267.0" y2="1517.6"/>
<line x1="702.6" y1="1657.2" x2="702.6" y2="1664.9"/>
<line x1="672.4" y1="1655.4" x2="672.4" y2="1664.1"/>
<line x1="642.2" y1="1652.4" x2="642.2" y2="1662.2"/>
<line x1="612.0" y1="1648.1" x2="612.0" y2="1659.0"/>
<line x1="581.9" y1="1642.6" x2="581.9" y2="1654.6"/>
<line x1="551.7" y1="1635.8" x2="551.7" y2="1649.0"/>
<line x1="521.5" y1="1627.8" x2="521.5" y2="1642.1"/>
<line x1="491.3" y1="1618.6" x2="491.3" y2="1634.0"/>
<line x1="461.2" y1="1608.2" x2="461.2" y2="1624.6"/>
<line x1="431.0" y1="1596.5" x2="431.0" y2="1614.1"/>
<line x1="400.8" y1="1583.6" x2="400.8" y2="1602.3"/>
<line x1="370.6" y1="1569.5" x2="370.6" y2="1589.2"/>
<line x1="340.5" y1="1554.1" x2="340.5" y2="1575.0"/>
<line x1="310.3" y1="1537.5" x2="310.3" y2="1559.5"/>
<line x1="280.1" y1="1519.6" x2="280.1" y2="1542.8"/>
<line x1="685.5" y1="1662.5" x2="685.5" y2="1670.4"/>
<line x1="655.3" y1="1660.8" x2="655.3" y2="1669.8"/>
<line x1="625.2" y1="1657.9" x2="625.2" y2="1668.0"/>
<line x1="595.0" y1="1653.7" x2="595.0" y2="1664.9"/>
<line x1="564.8" y1="1648.4" x2="564.8" y2="1660.6"/>
<line x1="534.6" y1="1641.7" x2="534.6" y2="1655.1"/>
<line x1="504.5" y1="1633.9" x2="504.5" y2="1648.4"/>
<line x1="474.3" y1="1624.8" x2="474.3" y2="1640.4"/>
<line x1="444.1" y1="1614.5" x2="444.1" y2="1631.2"/>
<line x1="413.9" y1="1602.9" x2="413.9" y2="1620.8"/>
<line x1="383.8" y1="1590.2" x2="383.8" y2="1609.1"/>
<line x1="353.6" y1="1576.1" x2="353.6" y2="1596.2"/>
<line x1="323.4" y1="1560.9" x2="323.4" y2="1582.1"/>
<line x1="293.2" y1="1544.4" x2="293.2" y2="1566.7"/>
<line x1="668.5" y1="1668.1" x2="668.5" y2="1676.2"/>
<line x1="638.3" y1="1666.5" x2="638.3" y2="1675.7"/>
<line x1="608.1" y1="1663.7" x2="608.1" y2="1674.0"/>
<line x1="578.0" y1="1659.7" x2="578.0" y2="1671.1"/>
<line x1="547.8" y1="1654.4" x2="547.8" y2="1667.0"/>
<line x1="517.6" y1="1647.9" x2="517.6" y2="1661.6"/>
<line x1="487.4" y1="1640.2" x2="487.4" y2="1654.9"/>
<line x1="457.3" y1="1631.2" x2="457.3" y2="1647.1"/>
<line x1="427.1" y1="1621.0" x2="427.1" y2="1638.0"/>
<line x1="396.9" y1="1609.6" x2="396.9" y2="1627.7"/>
<line x1="366.7" y1="1597.0" x2="366.7" y2="1616.2"/>
<line x1="336.6" y1="1583.1" x2="336.6" y2="1603.4"/>
<line x1="306.4" y1="1568.0" x2="306.4" y2="1589.4"/>
<line x1="651.5" y1="1673.9" x2="651.5" y2="1682.3"/>
<line x1="621.3" y1="1672.4" x2="621.3" y2="1681.9"/>
<line x1="591.1" y1="1669.8" x2="591.1" y2="1680.4"/>
<line x1="560.9" y1="1665.9" x2="560.9" y2="1677.6"/>
<line x1="530.8" y1="1660.7" x2="530.8" y2="1673.5"/>
<line x1="500.6" y1="1654.4" x2="500.6" y2="1668.3"/>
<line x1="470.4" y1="1646.8" x2="470.4" y2="1661.8"/>
<line x1="440.2" y1="1637.9" x2="440.2" y2="1654.1"/>
<line x1="410.1" y1="1627.9" x2="410.1" y2="1645.1"/>
<line x1="379.9" y1="1616.6" x2="379.9" y2="1634.9"/>
<line x1="349.7" y1="1604.1" x2="349.7" y2="1623.5"/>
<line x1="319.5" y1="1590.3" x2="319.5" y2="1610.9"/>
<line x1="634.4" y1="1680.0" x2="634.4" y2="1688.6"/>
<line x1="604.2" y1="1678.6" x2="604.2" y2="1688.4"/>
<line x1="574.1" y1="1676.1" x2="574.1" y2="1687.0"/>
<line x1="543.9" y1="1672.3" x2="543.9" y2="1684.3"/>
<line x1="513.7" y1="1667.3" x2="513.7" y2="1680.4"/>
<line x1="483.5" y1="1661.1" x2="483.5" y2="1675.2"/>
<line x1="453.4" y1="1653.6" x2="453.4" y2="1668.9"/>
<line x1="423.2" y1="1644.9" x2="423.2" y2="1661.3"/>
<line x1="393.0" y1="1635.0" x2="393.0" y2="1652.5"/>
<line x1="362.8" y1="1623.8" x2="362.8" y2="1642.4"/>
<line x1="332.7" y1="1611.4" x2="332.7" y2="1631.1"/>
<line x1="617.4" y1="1686.3" x2="617.4" y2="1695.2"/>
<line x1="587.2" y1="1685.1" x2="587.2" y2="1695.1"/>
<line x1="557.0" y1="1682.7" x2="557.0" y2="1693.8"/>
<line x1="526.9" y1="1679.0" x2="526.9" y2="1691.3"/>
<line x1="496.7" y1="1674.1" x2="496.7" y2="1687.5"/>
<line x1="466.5" y1="1668.0" x2="466.5" y2="1682.5"/>
<line x1="436.3" y1="1660.7" x2="436.3" y2="1676.2"/>
<line x1="406.2" y1="1652.1" x2="406.2" y2="1668.8"/>
<line x1="376.0" y1="1642.3" x2="376.0" y2="1660.1"/>
<line x1="345.8" y1="1631.3" x2="345.8" y2="1650.1"/>
<line x1="600.3" y1="1692.9" x2="600.3" y2="1702.1"/>
<line x1="570.2" y1="1691.8" x2="570.2" y2="1702.1"/>
<line x1="540.0" y1="1689.5" x2="540.0" y2="1700.9"/>
<line x1="509.8" y1="1686.0" x2="509.8" y2="1698.5"/>
<line x1="479.6" y1="1681.3" x2="479.6" y2="1694.8"/>
<line x1="449.5" y1="1675.3" x2="449.5" y2="1690.0"/>
<line x1="419.3" y1="1668.1" x2="419.3" y2="1683.8"/>
<line x1="389.1" y1="1659.6" x2="389.1" y2="1676.5"/>
<line x1="358.9" y1="1649.9" x2="358.9" y2="1667.9"/>
<line x1="583.3" y1="1699.8" x2="583.3" y2="1709.2"/>
<line x1="553.1" y1="1698.8" x2="553.1" y2="1709.4"/>
<line x1="523.0" y1="1696.7" x2="523.0" y2="1708.3"/>
<line x1="492.8" y1="1693.3" x2="492.8" y2="1706.0"/>
<line x1="462.6" y1="1688.6" x2="462.6" y2="1702.5"/>
<line x1="432.4" y1="1682.8" x2="432.4" y2="1697.7"/>
<line x1="402.3" y1="1675.7" x2="402.3" y2="1691.7"/>
<line x1="372.1" y1="1667.4" x2="372.1" y2="1684.5"/>
<line x1="566.3" y1="1706.9" x2="566.3" y2="1716.6"/>
<line x1="536.1" y1="1706.1" x2="536.1" y2="1716.9"/>
<line x1="505.9" y1="1704.0" x2="505.9" y2="1715.9"/>
<line x1="475.8" y1="1700.8" x2="475.8" y2="1713.8"/>
<line x1="445.6" y1="1696.3" x2="445.6" y2="1710.4"/>
<line x1="415.4" y1="1690.5" x2="415.4" y2="1705.7"/>
<line x1="385.2" y1="1683.6" x2="385.2" y2="1699.9"/>
<line x1="549.2" y1="1714.3" x2="549.2" y2="1724.3"/>
<line x1="519.1" y1="1713.6" x2="519.1" y2="1724.7"/>
<line x1="488.9" y1="1711.7" x2="488.9" y2="1723.8"/>
<line x1="458.7" y1="1708.5" x2="458.7" y2="1721.8"/>
<line x1="428.5" y1="1704.2" x2="428.5" y2="1718.5"/>
<line x1="398.4" y1="1698.5" x2="398.4" y2="1714.0"/>
<line x1="532.2" y1="1722.0" x2="532.2" y2="1732.2"/>
<line x1="502.0" y1="1721.4" x2="502.0" y2="1732.7"/>
<line x1="471.9" y1="1719.6" x2="471.9" y2="1732.0"/>
<line x1="441.7" y1="1716.6" x2="441.7" y2="1730.1"/>
<line x1="411.5" y1="1712.3" x2="411.5" y2="1726.9"/>
<line x1="515.2" y1="1729.9" x2="515.2" y2="1740.4"/>
<line x1="485.0" y1="1729.4" x2="485.0" y2="1741.0"/>
<line x1="454.8" y1="1727.8" x2="454.8" y2="1740.4"/>
<line x1="424.6" y1="1724.9" x2="424.6" y2="1738.6"/>
<line x1="498.1" y1="1738.1" x2="498.1" y2="1748.8"/>
<line x1="468.0" y1="1737.7" x2="468.0" y2="1749.6"/>
<line x1="437.8" y1="1736.2" x2="437.8" y2="1749.1"/>
<line x1="481.1" y1="1746.5" x2="481.1" y2="1757.5"/>
<line x1="450.9" y1="1746.3" x2="450.9" y2="1758.4"/>
<line x1="464.1" y1="1755.2" x2="464.1" y2="1766.5"/>
</g>
<g fill="#0c0c30" fill-opacity="0.55">
<circle cx="466.0" cy="1752.4" r="1.3"/>
<circle cx="483.1" cy="1743.8" r="1.3"/>
<circle cx="500.1" cy="1735.4" r="1.3"/>
<circle cx="517.1" cy="1727.3" r="1.3"/>
<circle cx="534.2" cy="1719.5" r="1.3"/>
<circle cx="551.2" cy="1711.9" r="1.3"/>
<circle cx="568.2" cy="1704.6" r="1.3"/>
<circle cx="585.3" cy="1697.5" r="1.3"/>
<circle cx="602.3" cy="1690.7" r="1.3"/>
<circle cx="619.3" cy="1684.2" r="1.3"/>
<circle cx="636.4" cy="1677.9" r="1.3"/>
<circle cx="653.4" cy="1671.9" r="1.3"/>
<circle cx="670.4" cy="1666.1" r="1.3"/>
<circle cx="687.5" cy="1660.7" r="1.3"/>
<circle cx="704.5" cy="1655.5" r="1.3"/>
<circle cx="721.5" cy="1650.5" r="1.3"/>
<circle cx="452.9" cy="1743.4" r="1.3"/>
<circle cx="469.9" cy="1734.9" r="1.3"/>
<circle cx="486.9" cy="1726.7" r="1.3"/>
<circle cx="504.0" cy="1718.7" r="1.3"/>
<circle cx="521.0" cy="1711.0" r="1.3"/>
<circle cx="538.1" cy="1703.5" r="1.3"/>
<circle cx="555.1" cy="1696.4" r="1.3"/>
<circle cx="572.1" cy="1689.4" r="1.3"/>
<circle cx="589.2" cy="1682.8" r="1.3"/>
<circle cx="606.2" cy="1676.4" r="1.3"/>
<circle cx="623.2" cy="1670.2" r="1.3"/>
<circle cx="640.3" cy="1664.4" r="1.3"/>
<circle cx="657.3" cy="1658.8" r="1.3"/>
<circle cx="674.3" cy="1653.4" r="1.3"/>
<circle cx="691.4" cy="1648.4" r="1.3"/>
<circle cx="708.4" cy="1643.6" r="1.3"/>
<circle cx="439.7" cy="1733.2" r="1.3"/>
<circle cx="456.8" cy="1724.8" r="1.3"/>
<circle cx="473.8" cy="1716.7" r="1.3"/>
<circle cx="490.8" cy="1708.9" r="1.3"/>
<circle cx="507.9" cy="1701.3" r="1.3"/>
<circle cx="524.9" cy="1694.0" r="1.3"/>
<circle cx="541.9" cy="1686.9" r="1.3"/>
<circle cx="559.0" cy="1680.2" r="1.3"/>
<circle cx="576.0" cy="1673.6" r="1.3"/>
<circle cx="593.1" cy="1667.4" r="1.3"/>
<circle cx="610.1" cy="1661.4" r="1.3"/>
<circle cx="627.1" cy="1655.7" r="1.3"/>
<circle cx="644.2" cy="1650.2" r="1.3"/>
<circle cx="661.2" cy="1645.0" r="1.3"/>
<circle cx="678.2" cy="1640.1" r="1.3"/>
<circle cx="695.3" cy="1635.4" r="1.3"/>
<circle cx="426.6" cy="1721.7" r="1.3"/>
<circle cx="443.6" cy="1713.5" r="1.3"/>
<circle cx="460.7" cy="1705.5" r="1.3"/>
<circle cx="477.7" cy="1697.8" r="1.3"/>
<circle cx="494.7" cy="1690.4" r="1.3"/>
<circle cx="511.8" cy="1683.2" r="1.3"/>
<circle cx="528.8" cy="1676.3" r="1.3"/>
<circle cx="545.8" cy="1669.7" r="1.3"/>
<circle cx="562.9" cy="1663.3" r="1.3"/>
<circle cx="579.9" cy="1657.2" r="1.3"/>
<circle cx="596.9" cy="1651.3" r="1.3"/>
<circle cx="614.0" cy="1645.7" r="1.3"/>
<circle cx="631.0" cy="1640.4" r="1.3"/>
<circle cx="648.1" cy="1635.3" r="1.3"/>
<circle cx="665.1" cy="1630.6" r="1.3"/>
<circle cx="682.1" cy="1626.0" r="1.3"/>
<circle cx="413.5" cy="1709.1" r="1.3"/>
<circle cx="430.5" cy="1701.0" r="1.3"/>
<circle cx="447.5" cy="1693.1" r="1.3"/>
<circle cx="464.6" cy="1685.6" r="1.3"/>
<circle cx="481.6" cy="1678.3" r="1.3"/>
<circle cx="498.6" cy="1671.2" r="1.3"/>
<circle cx="515.7" cy="1664.5" r="1.3"/>
<circle cx="532.7" cy="1658.0" r="1.3"/>
<circle cx="549.7" cy="1651.7" r="1.3"/>
<circle cx="566.8" cy="1645.7" r="1.3"/>
<circle cx="583.8" cy="1640.0" r="1.3"/>
<circle cx="600.8" cy="1634.6" r="1.3"/>
<circle cx="617.9" cy="1629.4" r="1.3"/>
<circle cx="634.9" cy="1624.5" r="1.3"/>
<circle cx="651.9" cy="1619.8" r="1.3"/>
<circle cx="669.0" cy="1615.4" r="1.3"/>
<circle cx="400.3" cy="1695.2" r="1.3"/>
<circle cx="417.4" cy="1687.2" r="1.3"/>
<circle cx="434.4" cy="1679.5" r="1.3"/>
<circle cx="451.4" cy="1672.1" r="1.3"/>
<circle cx="468.5" cy="1664.9" r="1.3"/>
<circle cx="485.5" cy="1658.0" r="1.3"/>
<circle cx="502.5" cy="1651.4" r="1.3"/>
<circle cx="519.6" cy="1645.0" r="1.3"/>
<circle cx="536.6" cy="1638.9" r="1.3"/>
<circle cx="553.6" cy="1633.1" r="1.3"/>
<circle cx="570.7" cy="1627.5" r="1.3"/>
<circle cx="587.7" cy="1622.2" r="1.3"/>
<circle cx="604.7" cy="1617.1" r="1.3"/>
<circle cx="621.8" cy="1612.4" r="1.3"/>
<circle cx="638.8" cy="1607.9" r="1.3"/>
<circle cx="655.8" cy="1603.6" r="1.3"/>
<circle cx="387.2" cy="1680.1" r="1.3"/>
<circle cx="404.2" cy="1672.3" r="1.3"/>
<circle cx="421.2" cy="1664.7" r="1.3"/>
<circle cx="438.3" cy="1657.4" r="1.3"/>
<circle cx="455.3" cy="1650.4" r="1.3"/>
<circle cx="472.4" cy="1643.6" r="1.3"/>
<circle cx="489.4" cy="1637.1" r="1.3"/>
<circle cx="506.4" cy="1630.9" r="1.3"/>
<circle cx="523.5" cy="1624.9" r="1.3"/>
<circle cx="540.5" cy="1619.2" r="1.3"/>
<circle cx="557.5" cy="1613.8" r="1.3"/>
<circle cx="574.6" cy="1608.6" r="1.3"/>
<circle cx="591.6" cy="1603.7" r="1.3"/>
<circle cx="608.6" cy="1599.0" r="1.3"/>
<circle cx="625.7" cy="1594.7" r="1.3"/>
<circle cx="642.7" cy="1590.6" r="1.3"/>
<circle cx="374.0" cy="1663.7" r="1.3"/>
<circle cx="391.1" cy="1656.1" r="1.3"/>
<circle cx="408.1" cy="1648.6" r="1.3"/>
<circle cx="425.1" cy="1641.5" r="1.3"/>
<circle cx="442.2" cy="1634.6" r="1.3"/>
<circle cx="459.2" cy="1628.0" r="1.3"/>
<circle cx="476.2" cy="1621.6" r="1.3"/>
<circle cx="493.3" cy="1615.5" r="1.3"/>
<circle cx="510.3" cy="1609.7" r="1.3"/>
<circle cx="527.4" cy="1604.1" r="1.3"/>
<circle cx="544.4" cy="1598.8" r="1.3"/>
<circle cx="561.4" cy="1593.8" r="1.3"/>
<circle cx="578.5" cy="1589.0" r="1.3"/>
<circle cx="595.5" cy="1584.5" r="1.3"/>
<circle cx="612.5" cy="1580.3" r="1.3"/>
<circle cx="629.6" cy="1576.3" r="1.3"/>
<circle cx="360.9" cy="1646.2" r="1.3"/>
<circle cx="377.9" cy="1638.7" r="1.3"/>
<circle cx="395.0" cy="1631.4" r="1.3"/>
<circle cx="412.0" cy="1624.4" r="1.3"/>
<circle cx="429.0" cy="1617.6" r="1.3"/>
<circle cx="446.1" cy="1611.1" r="1.3"/>
<circle cx="463.1" cy="1604.9" r="1.3"/>
<circle cx="480.1" cy="1598.9" r="1.3"/>
<circle cx="497.2" cy="1593.2" r="1.3"/>
<circle cx="514.2" cy="1587.8" r="1.3"/>
<circle cx="531.2" cy="1582.6" r="1.3"/>
<circle cx="548.3" cy="1577.7" r="1.3"/>
<circle cx="565.3" cy="1573.1" r="1.3"/>
<circle cx="582.4" cy="1568.7" r="1.3"/>
<circle cx="599.4" cy="1564.6" r="1.3"/>
<circle cx="616.4" cy="1560.8" r="1.3"/>
<circle cx="347.8" cy="1627.4" r="1.3"/>
<circle cx="364.8" cy="1620.0" r="1.3"/>
<circle cx="381.8" cy="1612.9" r="1.3"/>
<circle cx="398.9" cy="1606.0" r="1.3"/>
<circle cx="415.9" cy="1599.4" r="1.3"/>
<circle cx="432.9" cy="1593.0" r="1.3"/>
<circle cx="450.0" cy="1586.9" r="1.3"/>
<circle cx="467.0" cy="1581.1" r="1.3"/>
<circle cx="484.0" cy="1575.5" r="1.3"/>
<circle cx="501.1" cy="1570.2" r="1.3"/>
<circle cx="518.1" cy="1565.2" r="1.3"/>
<circle cx="535.1" cy="1560.4" r="1.3"/>
<circle cx="552.2" cy="1555.9" r="1.3"/>
<circle cx="569.2" cy="1551.7" r="1.3"/>
<circle cx="586.2" cy="1547.8" r="1.3"/>
<circle cx="603.3" cy="1544.1" r="1.3"/>
<circle cx="334.6" cy="1607.4" r="1.3"/>
<circle cx="351.7" cy="1600.2" r="1.3"/>
<circle cx="368.7" cy="1593.1" r="1.3"/>
<circle cx="385.7" cy="1586.4" r="1.3"/>
<circle cx="402.8" cy="1579.9" r="1.3"/>
<circle cx="419.8" cy="1573.7" r="1.3"/>
<circle cx="436.8" cy="1567.7" r="1.3"/>
<circle cx="453.9" cy="1562.0" r="1.3"/>
<circle cx="470.9" cy="1556.6" r="1.3"/>
<circle cx="487.9" cy="1551.4" r="1.3"/>
<circle cx="505.0" cy="1546.6" r="1.3"/>
<circle cx="522.0" cy="1541.9" r="1.3"/>
<circle cx="539.0" cy="1537.6" r="1.3"/>
<circle cx="556.1" cy="1533.5" r="1.3"/>
<circle cx="573.1" cy="1529.7" r="1.3"/>
<circle cx="590.1" cy="1526.1" r="1.3"/>
<circle cx="321.5" cy="1586.2" r="1.3"/>
<circle cx="338.5" cy="1579.1" r="1.3"/>
<circle cx="355.5" cy="1572.2" r="1.3"/>
<circle cx="372.6" cy="1565.6" r="1.3"/>
<circle cx="389.6" cy="1559.2" r="1.3"/>
<circle cx="406.7" cy="1553.1" r="1.3"/>
<circle cx="423.7" cy="1547.3" r="1.3"/>
<circle cx="440.7" cy="1541.7" r="1.3"/>
<circle cx="457.8" cy="1536.5" r="1.3"/>
<circle cx="474.8" cy="1531.4" r="1.3"/>
<circle cx="491.8" cy="1526.7" r="1.3"/>
<circle cx="508.9" cy="1522.2" r="1.3"/>
<circle cx="525.9" cy="1518.0" r="1.3"/>
<circle cx="542.9" cy="1514.0" r="1.3"/>
<circle cx="560.0" cy="1510.3" r="1.3"/>
<circle cx="577.0" cy="1506.9" r="1.3"/>
<circle cx="308.3" cy="1563.8" r="1.3"/>
<circle cx="325.4" cy="1556.8" r="1.3"/>
<circle cx="342.4" cy="1550.0" r="1.3"/>
<circle cx="359.4" cy="1543.5" r="1.3"/>
<circle cx="376.5" cy="1537.3" r="1.3"/>
<circle cx="393.5" cy="1531.3" r="1.3"/>
<circle cx="410.5" cy="1525.7" r="1.3"/>
<circle cx="427.6" cy="1520.2" r="1.3"/>
<circle cx="444.6" cy="1515.1" r="1.3"/>
<circle cx="461.7" cy="1510.2" r="1.3"/>
<circle cx="478.7" cy="1505.6" r="1.3"/>
<circle cx="495.7" cy="1501.2" r="1.3"/>
<circle cx="512.8" cy="1497.1" r="1.3"/>
<circle cx="529.8" cy="1493.3" r="1.3"/>
<circle cx="546.8" cy="1489.8" r="1.3"/>
<circle cx="563.9" cy="1486.5" r="1.3"/>
<circle cx="295.2" cy="1540.1" r="1.3"/>
<circle cx="312.2" cy="1533.2" r="1.3"/>
<circle cx="329.3" cy="1526.6" r="1.3"/>
<circle cx="346.3" cy="1520.2" r="1.3"/>
<circle cx="363.3" cy="1514.1" r="1.3"/>
<circle cx="380.4" cy="1508.3" r="1.3"/>
<circle cx="397.4" cy="1502.8" r="1.3"/>
<circle cx="414.4" cy="1497.5" r="1.3"/>
<circle cx="431.5" cy="1492.5" r="1.3"/>
<circle cx="448.5" cy="1487.7" r="1.3"/>
<circle cx="465.5" cy="1483.2" r="1.3"/>
<circle cx="482.6" cy="1479.0" r="1.3"/>
<circle cx="499.6" cy="1475.0" r="1.3"/>
<circle cx="516.7" cy="1471.4" r="1.3"/>
<circle cx="533.7" cy="1468.0" r="1.3"/>
<circle cx="550.7" cy="1464.8" r="1.3"/>
<circle cx="282.1" cy="1515.2" r="1.3"/>
<circle cx="299.1" cy="1508.4" r="1.3"/>
<circle cx="316.1" cy="1501.9" r="1.3"/>
<circle cx="333.2" cy="1495.7" r="1.3"/>
<circle cx="350.2" cy="1489.8" r="1.3"/>
<circle cx="367.2" cy="1484.1" r="1.3"/>
<circle cx="384.3" cy="1478.6" r="1.3"/>
<circle cx="401.3" cy="1473.5" r="1.3"/>
<circle cx="418.3" cy="1468.6" r="1.3"/>
<circle cx="435.4" cy="1464.0" r="1.3"/>
<circle cx="452.4" cy="1459.6" r="1.3"/>
<circle cx="469.4" cy="1455.5" r="1.3"/>
<circle cx="486.5" cy="1451.7" r="1.3"/>
<circle cx="503.5" cy="1448.2" r="1.3"/>
<circle cx="520.5" cy="1444.9" r="1.3"/>
<circle cx="537.6" cy="1441.9" r="1.3"/>
<circle cx="268.9" cy="1489.0" r="1.3"/>
<circle cx="286.0" cy="1482.4" r="1.3"/>
<circle cx="303.0" cy="1476.0" r="1.3"/>
<circle cx="320.0" cy="1469.9" r="1.3"/>
<circle cx="337.1" cy="1464.1" r="1.3"/>
<circle cx="354.1" cy="1458.6" r="1.3"/>
<circle cx="371.1" cy="1453.3" r="1.3"/>
<circle cx="388.2" cy="1448.3" r="1.3"/>
<circle cx="405.2" cy="1443.5" r="1.3"/>
<circle cx="422.2" cy="1439.0" r="1.3"/>
<circle cx="439.3" cy="1434.8" r="1.3"/>
<circle cx="456.3" cy="1430.8" r="1.3"/>
<circle cx="473.3" cy="1427.2" r="1.3"/>
<circle cx="490.4" cy="1423.8" r="1.3"/>
<circle cx="507.4" cy="1420.6" r="1.3"/>
<circle cx="524.4" cy="1417.7" r="1.3"/>
</g>
<circle cx="426.8" cy="1838.1" r="1.1" fill="#000" fill-opacity="0.35"/>
<circle cx="773.8" cy="1741.8" r="1.1" fill="#000" fill-opacity="0.2"/>
<circle cx="773.8" cy="1471.7" r="1.1" fill="#000" fill-opacity="0.3"/>
<circle cx="382.9" cy="1817.6" r="1.1" fill="#000" fill-opacity="0.35"/>
<circle cx="730.0" cy="1721.4" r="1.1" fill="#000" fill-opacity="0.2"/>
<circle cx="730.0" cy="1450.7" r="1.1" fill="#000" fill-opacity="0.3"/>
<circle cx="317.2" cy="1787.0" r="1.1" fill="#000" fill-opacity="0.35"/>
<circle cx="664.3" cy="1690.8" r="1.1" fill="#000" fill-opacity="0.2"/>
<circle cx="664.3" cy="1419.3" r="1.1" fill="#000" fill-opacity="0.3"/>
<circle cx="251.5" cy="1756.4" r="1.1" fill="#000" fill-opacity="0.35"/>
<circle cx="598.6" cy="1660.1" r="1.1" fill="#000" fill-opacity="0.2"/>
<circle cx="598.6" cy="1388.0" r="1.1" fill="#000" fill-opacity="0.3"/>
<circle cx="207.7" cy="1736.0" r="1.1" fill="#000" fill-opacity="0.35"/>
<circle cx="554.8" cy="1639.7" r="1.1" fill="#000" fill-opacity="0.2"/>
<circle cx="554.8" cy="1367.0" r="1.1" fill="#000" fill-opacity="0.3"/>
<circle cx="490.8" cy="1843.1" r="1.1" fill="#000" fill-opacity="0.35"/>
<circle cx="219.2" cy="1716.5" r="1.1" fill="#000" fill-opacity="0.2"/>
<circle cx="219.2" cy="1446.0" r="1.1" fill="#000" fill-opacity="0.3"/>
<circle cx="549.0" cy="1827.0" r="1.1" fill="#000" fill-opacity="0.35"/>
<circle cx="277.4" cy="1700.4" r="1.1" fill="#000" fill-opacity="0.2"/>
<circle cx="277.4" cy="1429.4" r="1.1" fill="#000" fill-opacity="0.3"/>
<circle cx="634.1" cy="1803.3" r="1.1" fill="#000" fill-opacity="0.35"/>
<circle cx="362.6" cy="1676.8" r="1.1" fill="#000" fill-opacity="0.2"/>
<circle cx="362.6" cy="1405.2" r="1.1" fill="#000" fill-opacity="0.3"/>
<circle cx="719.3" cy="1779.7" r="1.1" fill="#000" fill-opacity="0.35"/>
<circle cx="447.7" cy="1653.1" r="1.1" fill="#000" fill-opacity="0.2"/>
<circle cx="447.7" cy="1380.9" r="1.1" fill="#000" fill-opacity="0.3"/>
<circle cx="777.5" cy="1763.6" r="1.1" fill="#000" fill-opacity="0.35"/>
<circle cx="505.9" cy="1637.0" r="1.1" fill="#000" fill-opacity="0.2"/>
<circle cx="505.9" cy="1364.3" r="1.1" fill="#000" fill-opacity="0.3"/>
<circle cx="185.2" cy="1720.5" r="1.1" fill="#000" fill-opacity="0.35"/>
<circle cx="795.7" cy="1752.0" r="1.1" fill="#000" fill-opacity="0.3"/>
<circle cx="532.9" cy="1629.5" r="1.1" fill="#000" fill-opacity="0.15"/>
<circle cx="185.2" cy="1630.4" r="1.1" fill="#000" fill-opacity="0.35"/>
<circle cx="795.7" cy="1662.0" r="1.1" fill="#000" fill-opacity="0.3"/>
<circle cx="532.9" cy="1538.5" r="1.1" fill="#000" fill-opacity="0.15"/>
<circle cx="185.2" cy="1540.3" r="1.1" fill="#000" fill-opacity="0.35"/>
<circle cx="795.7" cy="1572.1" r="1.1" fill="#000" fill-opacity="0.3"/>
<circle cx="532.9" cy="1447.6" r="1.1" fill="#000" fill-opacity="0.15"/>
<circle cx="185.2" cy="1450.2" r="1.1" fill="#000" fill-opacity="0.35"/>
<circle cx="795.7" cy="1482.1" r="1.1" fill="#000" fill-opacity="0.3"/>
<circle cx="532.9" cy="1356.6" r="1.1" fill="#000" fill-opacity="0.15"/>
<rect x="366.4" y="1846.9" width="52.8" height="21.7" fill="#fff"/>
<text x="419.2" y="1868.1" font-size="30.5" text-anchor="end" font-weight="bold" stroke="#0a0a0a" stroke-width="0.45">0.13</text>
<rect x="322.6" y="1826.5" width="52.8" height="21.7" fill="#fff"/>
<text x="375.3" y="1847.6" font-size="30.5" text-anchor="end" font-weight="bold" stroke="#0a0a0a" stroke-width="0.45">0.20</text>
<rect x="256.9" y="1795.9" width="52.8" height="21.7" fill="#fff"/>
<text x="309.6" y="1817" font-size="30.5" text-anchor="end" font-weight="bold" stroke="#0a0a0a" stroke-width="0.45">0.30</text>
<rect x="191.2" y="1765.2" width="52.8" height="21.7" fill="#fff"/>
<text x="243.9" y="1786.4" font-size="30.5" text-anchor="end" font-weight="bold" stroke="#0a0a0a" stroke-width="0.45">0.40</text>
<rect x="147.3" y="1744.8" width="52.8" height="21.7" fill="#fff"/>
<text x="200.1" y="1766" font-size="30.5" text-anchor="end" font-weight="bold" stroke="#0a0a0a" stroke-width="0.45">0.46</text>
<text x="493.6" y="1871.9" font-size="30.5" text-anchor="start" font-weight="bold" stroke="#0a0a0a" stroke-width="0.45">186</text>
<text x="551.8" y="1855.8" font-size="30.5" text-anchor="start" font-weight="bold" stroke="#0a0a0a" stroke-width="0.45">200</text>
<text x="636.9" y="1832.1" font-size="30.5" text-anchor="start" font-weight="bold" stroke="#0a0a0a" stroke-width="0.45">220</text>
<text x="722.1" y="1808.5" font-size="30.5" text-anchor="start" font-weight="bold" stroke="#0a0a0a" stroke-width="0.45">240</text>
<text x="780.3" y="1792.4" font-size="30.5" text-anchor="start" font-weight="bold" stroke="#0a0a0a" stroke-width="0.45">254</text>
<text x="180.4" y="1728.4" font-size="30.5" text-anchor="end" font-weight="bold" stroke="#0a0a0a" stroke-width="0.45">1</text>
<text x="180.4" y="1638.3" font-size="30.5" text-anchor="end" font-weight="bold" stroke="#0a0a0a" stroke-width="0.45">1.5</text>
<text x="180.4" y="1548.2" font-size="30.5" text-anchor="end" font-weight="bold" stroke="#0a0a0a" stroke-width="0.45">2</text>
<text x="180.4" y="1458.1" font-size="30.5" text-anchor="end" font-weight="bold" stroke="#0a0a0a" stroke-width="0.45">2.5</text>
<text x="41.5" y="1597.2" font-size="38.5" text-anchor="middle" font-weight="bold" stroke="#0a0a0a" stroke-width="0.45">(c)</text>
<text x="127.3" y="1590.7" font-size="29" text-anchor="middle" font-weight="bold" stroke="#0a0a0a" stroke-width="0.45" transform="rotate(-90 127.3 1590.7)">Rt</text>
<text x="313.9" y="1885" font-size="26.5" text-anchor="middle" font-weight="bold" stroke="#0a0a0a" stroke-width="0.45">f</text>
<text x="625" y="1894" font-size="27.6" text-anchor="middle" font-weight="bold" stroke="#0a0a0a" stroke-width="0.45" letter-spacing="1">Vc</text>
<g shape-rendering="geometricPrecision">
<rect x="949.6" y="1358.5" width="532.2" height="485.5" fill="#282e7a"/>
<path d="M1036.5 1844L1049.4 1844L1082.7 1844L1115.9 1844L1149.2 1844L1182.4 1844L1215.7 1844L1249 1844L1282.2 1844L1315.5 1844L1348.8 1844L1382 1844L1415.3 1844L1448.5 1844L1481.8 1844L1481.8 1813.7L1481.8 1783.3L1481.8 1753L1481.8 1722.6L1481.8 1692.3L1481.8 1661.9L1481.8 1631.6L1481.8 1601.2L1481.8 1570.9L1481.8 1540.6L1481.8 1510.2L1481.8 1479.9L1481.8 1449.5L1481.8 1419.2L1481.8 1388.8L1481.8 1358.5L1448.5 1358.5L1415.3 1358.5L1382 1358.5L1348.8 1358.5L1315.5 1358.5L1282.2 1358.5L1249 1358.5L1215.7 1358.5L1182.4 1358.5L1149.2 1358.5L1115.9 1358.5L1082.7 1358.5L1049.4 1358.5L1016.1 1358.5L982.9 1358.5L949.6 1358.5L949.6 1388.8L949.6 1419.2L949.6 1449.5L949.6 1479.9L949.6 1510.2L949.6 1540.6L949.6 1570.9L949.6 1601.2L949.6 1631.6L949.6 1661.9L949.6 1692.3L949.6 1722.6L949.6 1744.2L963.2 1753L982.9 1770L998.8 1783.3L1016.1 1805L1023.3 1813.7Z" fill="#2c3593" stroke="#2c3593" stroke-width="0.6" fill-rule="evenodd"/>
<path d="M1240.7 1844L1249 1844L1282.2 1844L1315.5 1844L1348.8 1844L1382 1844L1415.3 1844L1448.5 1844L1481.8 1844L1481.8 1813.7L1481.8 1783.3L1481.8 1753L1481.8 1722.6L1481.8 1692.3L1481.8 1661.9L1481.8 1631.6L1481.8 1601.2L1481.8 1570.9L1481.8 1540.6L1481.8 1510.2L1481.8 1479.9L1481.8 1449.5L1481.8 1419.2L1481.8 1388.8L1481.8 1358.5L1448.5 1358.5L1415.3 1358.5L1382 1358.5L1348.8 1358.5L1315.5 1358.5L1282.2 1358.5L1249 1358.5L1215.7 1358.5L1182.4 1358.5L1149.2 1358.5L1115.9 1358.5L1082.7 1358.5L1049.4 1358.5L1016.1 1358.5L982.9 1358.5L949.6 1358.5L949.6 1388.8L949.6 1419.2L949.6 1449.5L949.6 1479.9L949.6 1510.2L949.6 1540.6L949.6 1570.9L949.6 1601.2L949.6 1631.6L949.6 1661.9L949.6 1663.6L982.9 1677.2L1016.1 1690.2L1021.7 1692.3L1049.4 1704.7L1082.7 1718.9L1091.9 1722.6L1115.9 1735L1149.2 1751.2L1153 1753L1182.4 1771.9L1201.3 1783.3L1215.7 1798.3L1231.3 1813.7Z" fill="#3c4cac" stroke="#3c4cac" stroke-width="0.6" fill-rule="evenodd"/>
<path d="M1339.2 1692.3L1348.8 1693.5L1382 1696L1415.3 1697.1L1448.5 1696.4L1481.8 1693.8L1481.8 1692.3L1481.8 1661.9L1481.8 1631.6L1481.8 1601.2L1481.8 1570.9L1481.8 1540.6L1481.8 1510.2L1481.8 1479.9L1481.8 1449.5L1481.8 1419.2L1481.8 1388.8L1481.8 1358.5L1448.5 1358.5L1415.3 1358.5L1382 1358.5L1348.8 1358.5L1315.5 1358.5L1282.2 1358.5L1249 1358.5L1215.7 1358.5L1182.4 1358.5L1149.2 1358.5L1115.9 1358.5L1082.7 1358.5L1049.4 1358.5L1016.1 1358.5L982.9 1358.5L949.6 1358.5L949.6 1388.8L949.6 1419.2L949.6 1449.5L949.6 1479.9L949.6 1510.2L949.6 1540.6L949.6 1570.9L949.6 1601.2L949.6 1606.7L982.9 1616.2L1016.1 1625.3L1041.2 1631.6L1049.4 1634L1082.7 1643L1115.9 1651.4L1149.2 1659L1163.4 1661.9L1182.4 1666.6L1215.7 1673.9L1249 1680.3L1282.2 1685.6L1315.5 1690Z" fill="#5290d4" stroke="#5290d4" stroke-width="0.6" fill-rule="evenodd"/>
<path d="M1172 1601.2L1182.4 1602.9L1215.7 1607.2L1249 1610.8L1282.2 1613.6L1315.5 1615.6L1348.8 1616.7L1382 1616.9L1415.3 1616.1L1448.5 1614.3L1481.8 1611.5L1481.8 1601.2L1481.8 1570.9L1481.8 1540.6L1481.8 1510.2L1481.8 1479.9L1481.8 1449.5L1481.8 1419.2L1481.8 1388.8L1481.8 1358.5L1448.5 1358.5L1415.3 1358.5L1382 1358.5L1348.8 1358.5L1315.5 1358.5L1282.2 1358.5L1249 1358.5L1215.7 1358.5L1182.4 1358.5L1149.2 1358.5L1115.9 1358.5L1082.7 1358.5L1049.4 1358.5L1016.1 1358.5L982.9 1358.5L949.6 1358.5L949.6 1388.8L949.6 1419.2L949.6 1449.5L949.6 1479.9L949.6 1510.2L949.6 1540.6L949.6 1559.9L982.9 1567.1L1002 1570.9L1016.1 1574.1L1049.4 1581L1082.7 1587.3L1115.9 1593L1149.2 1598.2Z" fill="#78d0c0" stroke="#78d0c0" stroke-width="0.6" fill-rule="evenodd"/>
<path d="M1081.1 1540.6L1082.7 1540.8L1115.9 1545.4L1149.2 1549.5L1182.4 1552.9L1215.7 1555.8L1249 1558L1282.2 1559.5L1315.5 1560.4L1348.8 1560.5L1382 1559.9L1415.3 1558.6L1448.5 1556.4L1481.8 1553.5L1481.8 1540.6L1481.8 1510.2L1481.8 1479.9L1481.8 1449.5L1481.8 1419.2L1481.8 1388.8L1481.8 1358.5L1448.5 1358.5L1415.3 1358.5L1382 1358.5L1348.8 1358.5L1315.5 1358.5L1282.2 1358.5L1249 1358.5L1215.7 1358.5L1182.4 1358.5L1149.2 1358.5L1115.9 1358.5L1082.7 1358.5L1049.4 1358.5L1016.1 1358.5L982.9 1358.5L949.6 1358.5L949.6 1388.8L949.6 1419.2L949.6 1449.5L949.6 1479.9L949.6 1510.2L949.6 1519.1L982.9 1525.2L1016.1 1530.9L1049.4 1536.1Z" fill="#82cf6e" stroke="#82cf6e" stroke-width="0.6" fill-rule="evenodd"/>
<path d="M1191.9 1510.2L1215.7 1511.7L1249 1513.2L1282.2 1514.1L1315.5 1514.4L1348.8 1514L1382 1512.9L1415.3 1511.1L1427.7 1510.2L1448.5 1508.8L1481.8 1505.9L1481.8 1479.9L1481.8 1449.5L1481.8 1419.2L1481.8 1388.8L1481.8 1358.5L1448.5 1358.5L1415.3 1358.5L1382 1358.5L1348.8 1358.5L1315.5 1358.5L1282.2 1358.5L1249 1358.5L1215.7 1358.5L1182.4 1358.5L1149.2 1358.5L1115.9 1358.5L1082.7 1358.5L1049.4 1358.5L1016.1 1358.5L982.9 1358.5L949.6 1358.5L949.6 1388.8L949.6 1419.2L949.6 1449.5L949.6 1479.9L949.6 1482.4L982.9 1487.7L1016.1 1492.5L1049.4 1496.9L1082.7 1500.8L1115.9 1504.3L1149.2 1507.2L1182.4 1509.7Z" fill="#cde42d" stroke="#cde42d" stroke-width="0.6" fill-rule="evenodd"/>
<path d="M954.5 1449.5L982.9 1453.5L1016.1 1457.6L1049.4 1461.4L1082.7 1464.7L1115.9 1467.6L1149.2 1469.9L1182.4 1471.8L1215.7 1473.3L1249 1474.2L1282.2 1474.5L1315.5 1474.4L1348.8 1473.7L1382 1472.4L1415.3 1470.5L1448.5 1468L1481.8 1464.9L1481.8 1449.5L1481.8 1419.2L1481.8 1388.8L1481.8 1358.5L1448.5 1358.5L1415.3 1358.5L1382 1358.5L1348.8 1358.5L1315.5 1358.5L1282.2 1358.5L1249 1358.5L1215.7 1358.5L1182.4 1358.5L1149.2 1358.5L1115.9 1358.5L1082.7 1358.5L1049.4 1358.5L1016.1 1358.5L982.9 1358.5L949.6 1358.5L949.6 1388.8L949.6 1419.2L949.6 1448.9Z" fill="#f0a514" stroke="#f0a514" stroke-width="0.6" fill-rule="evenodd"/>
<path d="M960.6 1419.2L982.9 1421.9L1016.1 1425.5L1049.4 1428.8L1082.7 1431.6L1115.9 1433.9L1149.2 1435.9L1182.4 1437.3L1215.7 1438.3L1249 1438.9L1282.2 1438.9L1315.5 1438.4L1348.8 1437.5L1382 1436L1415.3 1433.9L1448.5 1431.3L1481.8 1428.1L1481.8 1419.2L1481.8 1388.8L1481.8 1358.5L1448.5 1358.5L1415.3 1358.5L1382 1358.5L1348.8 1358.5L1315.5 1358.5L1282.2 1358.5L1249 1358.5L1215.7 1358.5L1182.4 1358.5L1149.2 1358.5L1115.9 1358.5L1082.7 1358.5L1049.4 1358.5L1016.1 1358.5L982.9 1358.5L949.6 1358.5L949.6 1388.8L949.6 1418Z" fill="#ee411e" stroke="#ee411e" stroke-width="0.6" fill-rule="evenodd"/>
<path d="M949.6 1388.8L949.6 1388.9L982.9 1392.5L1016.1 1395.6L1049.4 1398.4L1082.7 1400.8L1115.9 1402.8L1149.2 1404.3L1182.4 1405.5L1215.7 1406.1L1249 1406.4L1282.2 1406.1L1315.5 1405.4L1348.8 1404.3L1382 1402.6L1415.3 1400.4L1448.5 1397.7L1481.8 1394.4L1481.8 1388.8L1481.8 1358.5L1448.5 1358.5L1415.3 1358.5L1382 1358.5L1348.8 1358.5L1315.5 1358.5L1282.2 1358.5L1249 1358.5L1215.7 1358.5L1182.4 1358.5L1149.2 1358.5L1115.9 1358.5L1082.7 1358.5L1049.4 1358.5L1016.1 1358.5L982.9 1358.5L949.6 1358.5Z" fill="#d22326" stroke="#d22326" stroke-width="0.6" fill-rule="evenodd"/>
<path d="M949.6 1358.5L949.6 1361.6L982.9 1364.8L1016.1 1367.6L1049.4 1370L1082.7 1372L1115.9 1373.6L1149.2 1374.9L1182.4 1375.7L1215.7 1376.1L1249 1376.1L1282.2 1375.7L1315.5 1374.8L1348.8 1373.4L1382 1371.6L1415.3 1369.3L1448.5 1366.6L1481.8 1363.3L1481.8 1358.5L1448.5 1358.5L1415.3 1358.5L1382 1358.5L1348.8 1358.5L1315.5 1358.5L1282.2 1358.5L1249 1358.5L1215.7 1358.5L1182.4 1358.5L1149.2 1358.5L1115.9 1358.5L1082.7 1358.5L1049.4 1358.5L1016.1 1358.5L982.9 1358.5Z" fill="#7d1a1e" stroke="#7d1a1e" stroke-width="0.6" fill-rule="evenodd"/>
</g>
<path d="M949.6 1358.5H1481.8V1844" fill="none" stroke="#223" stroke-opacity="0.5" stroke-width="0.9"/>
<path d="M949.6 1358.5V1844H1481.8" fill="none" stroke="#223" stroke-opacity="0.12" stroke-width="0.8"/>
<circle cx="949.6" cy="1840" r="1" fill="#000" fill-opacity="0.35"/>
<circle cx="949.6" cy="1362.5" r="1" fill="#000" fill-opacity="0.35"/>
<circle cx="1062.5" cy="1840" r="1" fill="#000" fill-opacity="0.35"/>
<circle cx="1062.5" cy="1362.5" r="1" fill="#000" fill-opacity="0.35"/>
<circle cx="1227.9" cy="1840" r="1" fill="#000" fill-opacity="0.35"/>
<circle cx="1227.9" cy="1362.5" r="1" fill="#000" fill-opacity="0.35"/>
<circle cx="1393.8" cy="1840" r="1" fill="#000" fill-opacity="0.35"/>
<circle cx="1393.8" cy="1362.5" r="1" fill="#000" fill-opacity="0.35"/>
<circle cx="953.6" cy="1436.9" r="1" fill="#000" fill-opacity="0.35"/>
<circle cx="1477.8" cy="1436.9" r="1" fill="#000" fill-opacity="0.35"/>
<circle cx="953.6" cy="1589.2" r="1" fill="#000" fill-opacity="0.35"/>
<circle cx="1477.8" cy="1589.2" r="1" fill="#000" fill-opacity="0.35"/>
<circle cx="953.6" cy="1741.5" r="1" fill="#000" fill-opacity="0.35"/>
<circle cx="1477.8" cy="1741.5" r="1" fill="#000" fill-opacity="0.35"/>
<circle cx="953.6" cy="1844" r="1" fill="#000" fill-opacity="0.35"/>
<circle cx="1477.8" cy="1844" r="1" fill="#000" fill-opacity="0.35"/>
<g shape-rendering="crispEdges">
<rect x="1502.7" y="1358.50" width="27.1" height="485.80" fill="#831b1f"/>
<rect x="1502.7" y="1366.09" width="27.1" height="478.21" fill="#8f1c20"/>
<rect x="1502.7" y="1373.68" width="27.1" height="470.62" fill="#9a1d21"/>
<rect x="1502.7" y="1381.27" width="27.1" height="463.03" fill="#a61e23"/>
<rect x="1502.7" y="1388.86" width="27.1" height="455.44" fill="#b42024"/>
<rect x="1502.7" y="1396.45" width="27.1" height="447.85" fill="#c32225"/>
<rect x="1502.7" y="1404.04" width="27.1" height="440.26" fill="#d22525"/>
<rect x="1502.7" y="1411.63" width="27.1" height="432.67" fill="#dc2626"/>
<rect x="1502.7" y="1419.22" width="27.1" height="425.08" fill="#e12825"/>
<rect x="1502.7" y="1426.82" width="27.1" height="417.48" fill="#e62925"/>
<rect x="1502.7" y="1434.41" width="27.1" height="409.89" fill="#ea2a24"/>
<rect x="1502.7" y="1442.00" width="27.1" height="402.30" fill="#ed3123"/>
<rect x="1502.7" y="1449.59" width="27.1" height="394.71" fill="#ee3d21"/>
<rect x="1502.7" y="1457.18" width="27.1" height="387.12" fill="#ef491f"/>
<rect x="1502.7" y="1464.77" width="27.1" height="379.53" fill="#f0571e"/>
<rect x="1502.7" y="1472.36" width="27.1" height="371.94" fill="#f1661d"/>
<rect x="1502.7" y="1479.95" width="27.1" height="364.35" fill="#f2761c"/>
<rect x="1502.7" y="1487.54" width="27.1" height="356.76" fill="#f2851c"/>
<rect x="1502.7" y="1495.13" width="27.1" height="349.17" fill="#f2931a"/>
<rect x="1502.7" y="1502.72" width="27.1" height="341.58" fill="#f1a019"/>
<rect x="1502.7" y="1510.31" width="27.1" height="333.99" fill="#f0b41a"/>
<rect x="1502.7" y="1517.90" width="27.1" height="326.40" fill="#efcb1d"/>
<rect x="1502.7" y="1525.49" width="27.1" height="318.81" fill="#efe220"/>
<rect x="1502.7" y="1533.08" width="27.1" height="311.22" fill="#eaed24"/>
<rect x="1502.7" y="1540.67" width="27.1" height="303.62" fill="#e0e927"/>
<rect x="1502.7" y="1548.27" width="27.1" height="296.03" fill="#d7e62a"/>
<rect x="1502.7" y="1555.86" width="27.1" height="288.44" fill="#cee32e"/>
<rect x="1502.7" y="1563.45" width="27.1" height="280.85" fill="#c2e035"/>
<rect x="1502.7" y="1571.04" width="27.1" height="273.26" fill="#b6dd3d"/>
<rect x="1502.7" y="1578.63" width="27.1" height="265.67" fill="#aada45"/>
<rect x="1502.7" y="1586.22" width="27.1" height="258.08" fill="#9fd74c"/>
<rect x="1502.7" y="1593.81" width="27.1" height="250.49" fill="#96d459"/>
<rect x="1502.7" y="1601.40" width="27.1" height="242.90" fill="#8ed266"/>
<rect x="1502.7" y="1608.99" width="27.1" height="235.31" fill="#86cf74"/>
<rect x="1502.7" y="1616.58" width="27.1" height="227.72" fill="#7ecd81"/>
<rect x="1502.7" y="1624.17" width="27.1" height="220.13" fill="#7cce91"/>
<rect x="1502.7" y="1631.76" width="27.1" height="212.54" fill="#7acfa0"/>
<rect x="1502.7" y="1639.35" width="27.1" height="204.95" fill="#78cfb0"/>
<rect x="1502.7" y="1646.94" width="27.1" height="197.36" fill="#76d0bf"/>
<rect x="1502.7" y="1654.53" width="27.1" height="189.77" fill="#72cfcc"/>
<rect x="1502.7" y="1662.12" width="27.1" height="182.17" fill="#6eced8"/>
<rect x="1502.7" y="1669.72" width="27.1" height="174.58" fill="#69cce1"/>
<rect x="1502.7" y="1677.31" width="27.1" height="166.99" fill="#64c9e8"/>
<rect x="1502.7" y="1684.90" width="27.1" height="159.40" fill="#5fc6ee"/>
<rect x="1502.7" y="1692.49" width="27.1" height="151.81" fill="#5ab3e5"/>
<rect x="1502.7" y="1700.08" width="27.1" height="144.22" fill="#569fdb"/>
<rect x="1502.7" y="1707.67" width="27.1" height="136.63" fill="#518ed3"/>
<rect x="1502.7" y="1715.26" width="27.1" height="129.04" fill="#4d83cd"/>
<rect x="1502.7" y="1722.85" width="27.1" height="121.45" fill="#4978c7"/>
<rect x="1502.7" y="1730.44" width="27.1" height="113.86" fill="#466dc1"/>
<rect x="1502.7" y="1738.03" width="27.1" height="106.27" fill="#4364bb"/>
<rect x="1502.7" y="1745.62" width="27.1" height="98.68" fill="#405bb5"/>
<rect x="1502.7" y="1753.21" width="27.1" height="91.09" fill="#3e52af"/>
<rect x="1502.7" y="1760.80" width="27.1" height="83.50" fill="#3b4bab"/>
<rect x="1502.7" y="1768.39" width="27.1" height="75.91" fill="#3948a8"/>
<rect x="1502.7" y="1775.98" width="27.1" height="68.32" fill="#3745a6"/>
<rect x="1502.7" y="1783.58" width="27.1" height="60.72" fill="#3441a3"/>
<rect x="1502.7" y="1791.17" width="27.1" height="53.13" fill="#323ea0"/>
<rect x="1502.7" y="1798.76" width="27.1" height="45.54" fill="#313c9d"/>
<rect x="1502.7" y="1806.35" width="27.1" height="37.95" fill="#2f3999"/>
<rect x="1502.7" y="1813.94" width="27.1" height="30.36" fill="#2d3695"/>
<rect x="1502.7" y="1821.53" width="27.1" height="22.77" fill="#2c3491"/>
<rect x="1502.7" y="1829.12" width="27.1" height="15.18" fill="#2a3187"/>
<rect x="1502.7" y="1836.71" width="27.1" height="7.59" fill="#292e7d"/>
</g>
<rect x="1502.7" y="1358.5" width="27.1" height="485.8" fill="none" stroke="#333" stroke-opacity="0.3" stroke-width="0.8"/>
<circle cx="1507.7" cy="1408.9" r="1" fill="#000" fill-opacity="0.3"/>
<circle cx="1525.8" cy="1408.9" r="1" fill="#000" fill-opacity="0.3"/>
<circle cx="1507.7" cy="1509.9" r="1" fill="#000" fill-opacity="0.3"/>
<circle cx="1525.8" cy="1509.9" r="1" fill="#000" fill-opacity="0.3"/>
<circle cx="1507.7" cy="1611.8" r="1" fill="#000" fill-opacity="0.3"/>
<circle cx="1525.8" cy="1611.8" r="1" fill="#000" fill-opacity="0.3"/>
<circle cx="1507.7" cy="1712.5" r="1" fill="#000" fill-opacity="0.3"/>
<circle cx="1525.8" cy="1712.5" r="1" fill="#000" fill-opacity="0.3"/>
<circle cx="1507.7" cy="1814.6" r="1" fill="#000" fill-opacity="0.3"/>
<circle cx="1525.8" cy="1814.6" r="1" fill="#000" fill-opacity="0.3"/>
<text x="949" y="1872.2" font-size="27.4" text-anchor="middle" font-weight="bold" stroke="#0a0a0a" stroke-width="0.45" letter-spacing="0.3">186</text>
<text x="1061.9" y="1872.2" font-size="27.4" text-anchor="middle" font-weight="bold" stroke="#0a0a0a" stroke-width="0.45" letter-spacing="0.3">200</text>
<text x="1227.3" y="1872.2" font-size="27.4" text-anchor="middle" font-weight="bold" stroke="#0a0a0a" stroke-width="0.45" letter-spacing="0.3">220</text>
<text x="1393.2" y="1872.2" font-size="27.4" text-anchor="middle" font-weight="bold" stroke="#0a0a0a" stroke-width="0.45" letter-spacing="0.3">240</text>
<text x="945.9" y="1442.1" font-size="27.4" text-anchor="end" font-weight="bold" stroke="#0a0a0a" stroke-width="0.45" letter-spacing="0.7">0.40</text>
<text x="945.9" y="1594.4" font-size="27.4" text-anchor="end" font-weight="bold" stroke="#0a0a0a" stroke-width="0.45" letter-spacing="0.7">0.30</text>
<text x="945.9" y="1746.7" font-size="27.4" text-anchor="end" font-weight="bold" stroke="#0a0a0a" stroke-width="0.45" letter-spacing="0.7">0.20</text>
<text x="945.9" y="1849.2" font-size="27.4" text-anchor="end" font-weight="bold" stroke="#0a0a0a" stroke-width="0.45" letter-spacing="0.7">0.13</text>
<text x="1533.4" y="1414.5" font-size="27.4" text-anchor="start" font-weight="bold" stroke="#0a0a0a" stroke-width="0.45" letter-spacing="0.2">2.2</text>
<text x="1533.4" y="1515.5" font-size="27.4" text-anchor="start" font-weight="bold" stroke="#0a0a0a" stroke-width="0.45" letter-spacing="0.2">2</text>
<text x="1533.4" y="1617.4" font-size="27.4" text-anchor="start" font-weight="bold" stroke="#0a0a0a" stroke-width="0.45" letter-spacing="0.2">1.8</text>
<text x="1533.4" y="1718.1" font-size="27.4" text-anchor="start" font-weight="bold" stroke="#0a0a0a" stroke-width="0.45" letter-spacing="0.2">1.6</text>
<text x="1533.4" y="1820.2" font-size="27.4" text-anchor="start" font-weight="bold" stroke="#0a0a0a" stroke-width="0.45" letter-spacing="0.2">1.4</text>
<text x="882.9" y="1601" font-size="27.4" text-anchor="middle" font-weight="bold" stroke="#0a0a0a" stroke-width="0.45" transform="rotate(-90 882.9 1601)">f</text>
<text x="1213.7" y="1898.5" font-size="27.4" text-anchor="middle" font-weight="bold" stroke="#0a0a0a" stroke-width="0.45" letter-spacing="1">Vc</text>
</svg>
</body></html>
